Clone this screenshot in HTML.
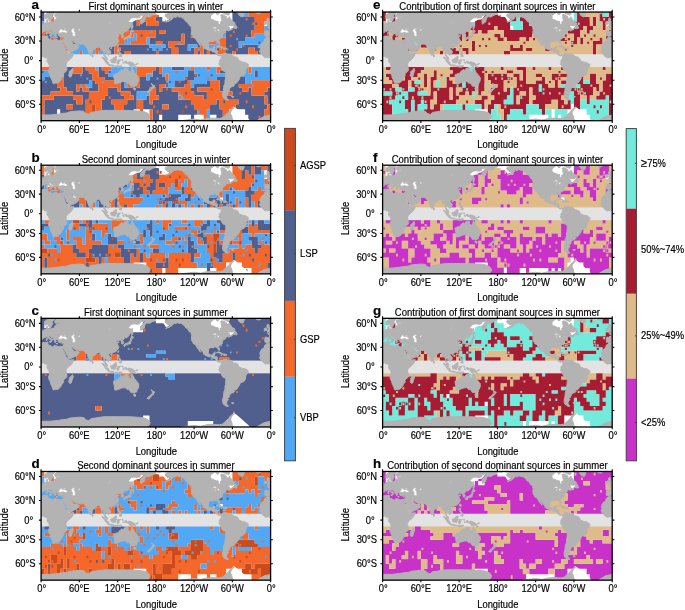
<!DOCTYPE html>
<html><head><meta charset="utf-8"><style>html,body{margin:0;padding:0;background:#fff;width:685px;height:610px;overflow:hidden}svg{display:block;will-change:transform}</style></head>
<body><svg width="685" height="610" viewBox="0 0 685 610" font-family='"Liberation Sans", sans-serif' fill="#000"><style>text{stroke:#000;stroke-width:0.18px}</style>
<rect width="685" height="610" fill="#fff"/>
<defs><path id="nodata" fill="#fff" d="M-8.8 15.1L-8.3 16.5L-8.3 17.5L-7.9 19.4L-7.7 20.7L-8.3 21.3L-9.3 22.3L-9.1 23.8L-9.6 24.6L-10.2 24.8L-11.0 23.8L-11.4 22.9L-11.3 21.5L-13.1 21.3L-14.7 20.8L-16.3 19.8L-17.9 19.7L-18.8 18.4L-19.1 17.0L-18.8 15.6L-18.2 14.9L-16.9 14.3L-16.5 13.4L-15.3 13.1L-14.4 12.3L-13.7 11.0L-9.9 10.0L-6.7 11.0L-3.5 13.1L-1.0 15.1L-0.0 16.7L-1.0 18.0L-3.2 18.0L-3.2 16.5L-4.2 16.0L-5.1 15.2L-6.1 14.8L-8.3 14.6ZM220.7 15.1L221.2 16.5L221.2 17.5L221.6 19.4L221.8 20.7L221.2 21.3L220.2 22.3L220.4 23.8L219.9 24.6L219.3 24.8L218.5 23.8L218.1 22.9L218.2 21.5L216.4 21.3L214.8 20.8L213.2 19.8L211.6 19.7L210.7 18.4L210.4 17.0L210.7 15.6L211.3 14.9L212.6 14.3L213.0 13.4L214.2 13.1L215.1 12.3L215.8 11.0L219.6 10.0L222.8 11.0L226.0 13.1L228.5 15.1L229.5 16.7L228.5 18.0L226.3 18.0L226.3 16.5L225.3 16.0L224.4 15.2L223.4 14.8L221.2 14.6ZM-1.3 25.7L0.9 25.6L2.9 25.7L4.6 24.7L5.4 24.6L3.3 27.9L2.5 28.3L1.9 29.1L1.3 29.3L0.3 29.0L-0.2 28.3L-0.0 27.5L-0.7 27.5L-1.3 26.6L-2.2 26.9L-2.9 27.3L-1.9 26.5ZM228.2 25.7L230.4 25.6L232.4 25.7L234.1 24.7L234.9 24.6L232.8 27.9L232.0 28.3L231.4 29.1L230.8 29.3L229.8 29.0L229.3 28.3L229.5 27.5L228.8 27.5L228.2 26.6L227.3 26.9L226.6 27.3L227.6 26.5ZM127.2 21.6L128.4 22.5L131.0 22.9L132.3 22.0L136.7 19.8L139.9 19.4L141.2 18.4L143.1 16.1L144.4 14.3L136.7 15.1L130.4 16.1L127.2 18.9ZM356.7 21.6L357.9 22.5L360.5 22.9L361.8 22.0L366.2 19.8L369.4 19.4L370.7 18.4L372.6 16.1L373.9 14.3L366.2 15.1L359.9 16.1L356.7 18.9ZM-73.7 14.6L-70.5 15.1L-67.3 16.1L-64.1 16.5L-62.2 17.0L-59.6 18.4L-60.9 19.8L-63.5 20.9L-64.7 18.9L-66.0 17.0L-67.3 15.1L-68.6 14.1L-70.5 13.1L-73.7 12.1ZM155.9 14.6L159.0 15.1L162.2 16.1L165.4 16.5L167.3 17.0L169.9 18.4L168.6 19.8L166.1 20.9L164.8 18.9L163.5 17.0L162.2 15.1L161.0 14.1L159.0 13.1L155.9 12.1ZM152.7 15.1L155.9 14.6L155.9 12.1L153.3 12.1ZM382.2 15.1L385.4 14.6L385.4 12.1L382.8 12.1ZM4.1 106.5L6.7 108.2L9.2 110.3L14.3 114.6L20.1 120.0L21.3 127.4L1.6 127.4L1.6 110.3ZM233.6 106.5L236.2 108.2L238.7 110.3L243.8 114.6L249.6 120.0L250.8 127.4L231.1 127.4L231.1 110.3Z"/><g id="land"><path d="M2.0 96.4L4.3 96.5L3.8 97.3L2.5 97.3ZM231.5 96.4L233.8 96.5L233.3 97.3L232.0 97.3ZM-66.0 11.4L-64.7 12.6L-62.8 12.6L-61.5 13.1L-61.5 14.1L-63.8 14.1L-64.4 15.6L-63.5 17.0L-62.2 17.2L-62.0 18.4L-59.6 18.3L-59.0 18.9L-59.9 20.3L-61.9 21.0L-63.8 22.0L-62.2 21.6L-60.3 21.1L-58.7 20.0L-57.1 18.9L-56.4 18.0L-55.8 16.5L-54.8 15.9L-55.2 17.0L-54.5 17.5L-53.3 17.0L-52.0 16.3L-50.7 17.0L-49.1 17.0L-47.8 17.4L-46.6 18.3L-45.6 18.9L-44.6 20.3L-43.7 21.6L-42.4 22.0L-41.8 22.5L-41.5 23.4L-40.5 24.6L-40.2 25.5L-38.9 25.9L-38.3 27.1L-38.3 28.3L-38.0 29.1L-38.0 30.7L-38.2 31.9L-38.0 33.0L-38.2 33.5L-37.8 34.5L-37.3 35.3L-37.0 35.6L-36.7 36.2L-36.6 36.5L-35.8 37.7L-34.8 38.1L-34.3 38.4L-33.6 39.1L-33.3 39.9L-32.7 40.8L-31.9 42.0L-31.7 42.7L-30.6 43.4L-30.4 44.4L-29.3 45.4L-28.7 45.8L-29.2 45.0L-29.7 44.1L-30.3 42.7L-30.9 41.8L-32.1 39.9L-31.3 40.1L-30.6 41.3L-29.7 42.5L-28.7 43.4L-28.1 44.4L-26.5 46.0L-26.0 47.1L-26.2 47.8L-25.2 48.4L-23.9 49.1L-22.7 49.7L-21.4 50.3L-20.1 50.6L-19.1 50.3L-18.2 50.7L-17.2 51.6L-16.0 52.0L-14.7 52.3L-14.0 53.0L-13.5 53.6L-13.5 54.3L-13.1 54.4L-12.5 54.9L-11.8 55.4L-10.9 55.7L-9.9 56.0L-9.3 55.1L-8.5 55.9L-8.2 55.6L-8.2 55.2L-8.9 54.7L-9.6 54.5L-10.5 55.0L-11.2 54.9L-11.8 54.3L-12.3 53.6L-12.2 52.3L-12.0 51.0L-12.8 50.5L-13.7 50.4L-15.0 50.5L-15.2 50.1L-15.0 48.7L-14.7 48.1L-14.4 46.8L-15.3 46.8L-16.5 47.1L-16.7 48.1L-17.2 48.7L-18.5 48.8L-19.5 48.7L-20.4 48.0L-20.9 47.1L-21.2 46.1L-21.1 44.8L-20.9 43.7L-20.9 42.7L-20.4 42.2L-19.5 41.5L-18.5 41.2L-17.6 41.3L-16.6 41.6L-15.8 41.5L-16.0 40.8L-15.0 40.7L-14.0 40.7L-13.3 41.2L-12.5 41.0L-11.8 41.7L-11.6 42.6L-11.0 43.6L-10.5 44.3L-10.2 44.1L-10.0 43.2L-10.2 42.0L-10.7 41.0L-10.7 39.9L-10.2 39.2L-9.4 38.7L-8.5 38.2L-7.7 37.6L-7.0 37.2L-7.2 36.4L-7.5 35.6L-7.0 35.4L-6.8 34.9L-6.6 34.4L-6.1 33.8L-5.9 33.2L-4.8 32.9L-4.0 32.6L-3.5 32.4L-3.8 32.0L-4.0 31.6L-3.7 30.9L-2.9 30.6L-1.6 30.2L-1.0 29.8L-0.0 29.7L-0.7 30.2L-1.1 30.9L-0.5 31.1L0.3 30.3L0.9 30.2L2.2 29.7L2.9 29.3L2.5 28.3L1.9 29.1L1.3 29.3L0.3 29.0L-0.2 28.3L-0.0 27.5L-0.7 27.5L-1.3 26.6L-2.2 26.9L-3.5 28.1L-2.9 27.1L-1.9 26.5L-1.3 25.7L0.9 25.6L2.9 25.7L4.6 24.7L5.5 24.0L5.3 22.7L4.4 22.0L3.2 21.4L2.2 20.7L1.7 19.4L1.3 18.9L0.6 18.2L-0.0 16.7L-0.7 17.5L-1.6 18.4L-2.6 18.7L-3.2 18.0L-3.2 16.5L-4.2 16.0L-5.1 15.2L-6.1 14.8L-8.3 14.6L-8.8 15.1L-8.3 16.5L-8.3 17.5L-7.9 19.4L-7.7 20.7L-8.3 21.3L-9.3 22.3L-9.1 23.8L-9.6 24.6L-10.2 24.8L-11.0 23.8L-11.4 22.9L-11.3 21.5L-13.1 21.3L-14.7 20.8L-16.3 19.8L-17.9 19.7L-18.8 18.4L-19.1 17.0L-18.8 15.6L-18.2 14.9L-16.9 14.3L-16.5 13.4L-15.3 13.1L-14.4 12.3L-13.7 11.0L-13.7 8.9L-13.1 6.7L-22.7 4.3L-35.4 4.3L-41.8 6.7L-48.2 6.9L-54.5 6.1L-58.7 5.2L-61.5 6.1L-63.5 7.8L-64.7 8.6L-63.1 9.4L-62.5 10.4L-63.8 10.4L-64.7 10.8ZM163.5 11.4L164.8 12.6L166.7 12.6L168.0 13.1L168.0 14.1L165.7 14.1L165.1 15.6L166.1 17.0L167.3 17.2L167.5 18.4L169.9 18.3L170.5 18.9L169.6 20.3L167.6 21.0L165.7 22.0L167.3 21.6L169.2 21.1L170.8 20.0L172.4 18.9L173.1 18.0L173.7 16.5L174.7 15.9L174.3 17.0L175.0 17.5L176.3 17.0L177.5 16.3L178.8 17.0L180.4 17.0L181.7 17.4L182.9 18.3L183.9 18.9L184.9 20.3L185.8 21.6L187.1 22.0L187.7 22.5L188.0 23.4L189.0 24.6L189.3 25.5L190.6 25.9L191.2 27.1L191.2 28.3L191.6 29.1L191.6 30.7L191.3 31.9L191.5 33.0L191.3 33.5L191.7 34.5L192.2 35.3L192.5 35.6L192.8 36.2L192.9 36.5L193.7 37.7L194.7 38.1L195.2 38.4L195.9 39.1L196.2 39.9L196.8 40.8L197.6 42.0L197.8 42.7L198.9 43.4L199.1 44.4L200.2 45.4L200.8 45.8L200.3 45.0L199.8 44.1L199.2 42.7L198.6 41.8L197.4 39.9L198.2 40.1L198.9 41.3L199.8 42.5L200.8 43.4L201.4 44.4L203.0 46.0L203.5 47.1L203.3 47.8L204.3 48.4L205.6 49.1L206.9 49.7L208.1 50.3L209.4 50.6L210.4 50.3L211.3 50.7L212.3 51.6L213.5 52.0L214.8 52.3L215.5 53.0L216.0 53.6L216.0 54.3L216.4 54.4L217.1 54.9L217.7 55.4L218.6 55.7L219.6 56.0L220.2 55.1L221.0 55.9L221.3 55.6L221.3 55.2L220.6 54.7L219.9 54.5L219.0 55.0L218.3 54.9L217.7 54.3L217.2 53.6L217.3 52.3L217.5 51.0L216.7 50.5L215.8 50.4L214.5 50.5L214.3 50.1L214.5 48.7L214.8 48.1L215.1 46.8L214.2 46.8L213.0 47.1L212.8 48.1L212.3 48.7L211.0 48.8L210.0 48.7L209.1 48.0L208.6 47.1L208.3 46.1L208.4 44.8L208.6 43.7L208.6 42.7L209.1 42.2L210.0 41.5L211.0 41.2L212.0 41.3L212.9 41.6L213.7 41.5L213.5 40.8L214.5 40.7L215.5 40.7L216.2 41.2L217.1 41.0L217.7 41.7L217.9 42.6L218.5 43.6L219.0 44.3L219.3 44.1L219.5 43.2L219.3 42.0L218.8 41.0L218.8 39.9L219.3 39.2L220.1 38.7L221.0 38.2L221.8 37.6L222.5 37.2L222.3 36.4L222.0 35.6L222.5 35.4L222.7 34.9L222.9 34.4L223.4 33.8L223.6 33.2L224.7 32.9L225.5 32.6L226.0 32.4L225.7 32.0L225.5 31.6L225.8 30.9L226.6 30.6L227.9 30.2L228.5 29.8L229.5 29.7L228.8 30.2L228.4 30.9L229.0 31.1L229.8 30.3L230.4 30.2L231.7 29.7L232.4 29.3L232.0 28.3L231.4 29.1L230.8 29.3L229.8 29.0L229.3 28.3L229.5 27.5L228.8 27.5L228.2 26.6L227.3 26.9L226.0 28.1L226.6 27.1L227.6 26.5L228.2 25.7L230.4 25.6L232.4 25.7L234.1 24.7L235.0 24.0L234.8 22.7L233.9 22.0L232.7 21.4L231.7 20.7L231.2 19.4L230.8 18.9L230.1 18.2L229.5 16.7L228.8 17.5L227.9 18.4L226.9 18.7L226.3 18.0L226.3 16.5L225.3 16.0L224.4 15.2L223.4 14.8L221.2 14.6L220.7 15.1L221.2 16.5L221.2 17.5L221.6 19.4L221.8 20.7L221.2 21.3L220.2 22.3L220.4 23.8L219.9 24.6L219.3 24.8L218.5 23.8L218.1 22.9L218.2 21.5L216.4 21.3L214.8 20.8L213.2 19.8L211.6 19.7L210.7 18.4L210.4 17.0L210.7 15.6L211.3 14.9L212.6 14.3L213.0 13.4L214.2 13.1L215.1 12.3L215.8 11.0L215.8 8.9L216.4 6.7L206.9 4.3L194.1 4.3L187.7 6.7L181.4 6.9L175.0 6.1L170.8 5.2L168.0 6.1L166.1 7.8L164.8 8.6L166.4 9.4L167.0 10.4L165.7 10.4L164.8 10.8ZM-8.6 12.6L-6.7 12.7L-5.1 13.6L-3.8 14.4L-2.2 14.8L-1.0 15.2L-0.0 14.1L-0.0 12.6L1.6 10.5L1.6 6.7L-9.9 4.3L-9.9 11.6ZM220.9 12.6L222.8 12.7L224.4 13.6L225.7 14.4L227.3 14.8L228.5 15.2L229.5 14.1L229.5 12.6L231.1 10.5L231.1 6.7L219.6 4.3L219.6 11.6ZM-14.0 12.6L-13.4 13.6L-12.1 14.8L-10.5 13.6L-10.2 12.6L-11.2 11.6L-13.7 11.0ZM215.5 12.6L216.1 13.6L217.4 14.8L219.0 13.6L219.3 12.6L218.3 11.6L215.8 11.0ZM13.0 17.0L14.0 16.1L14.6 13.6L15.9 11.6L18.8 10.5L22.0 8.3L27.1 6.1L28.4 0.6L22.0 -9.1L2.9 -9.1L-3.5 -3.3L-4.8 -1.3L4.1 0.6L6.0 6.7L7.0 8.9L7.6 11.0L8.6 13.1L9.5 15.1L10.5 16.1L11.8 16.5ZM242.6 17.0L243.5 16.1L244.1 13.6L245.4 11.6L248.3 10.5L251.5 8.3L256.6 6.1L257.9 0.6L251.5 -9.1L232.4 -9.1L226.0 -3.3L224.7 -1.3L233.6 0.6L235.5 6.7L236.5 8.9L237.1 11.0L238.1 13.1L239.0 15.1L240.0 16.1L241.3 16.5ZM25.8 11.6L27.1 10.6L29.3 10.8L31.5 10.5L32.5 11.8L31.5 12.8L29.6 13.7L27.7 13.3L26.8 13.1ZM255.3 11.6L256.6 10.6L258.8 10.8L261.0 10.5L262.0 11.8L261.0 12.8L259.1 13.7L257.2 13.3L256.3 13.1ZM-8.2 55.6L-8.3 56.2L-8.3 57.1L-8.2 58.1L-8.9 59.1L-9.3 59.7L-9.9 60.3L-10.2 61.3L-10.2 62.1L-9.8 62.4L-10.1 62.9L-10.7 63.5L-10.5 64.3L-9.6 65.4L-8.9 66.4L-8.3 67.7L-7.5 69.3L-6.7 70.6L-5.1 71.4L-4.2 72.2L-3.7 72.6L-3.7 74.2L-3.8 75.9L-4.0 78.2L-4.5 80.3L-4.5 82.4L-4.9 84.2L-5.6 85.5L-5.8 87.5L-5.9 89.0L-6.1 90.6L-6.7 92.6L-6.9 94.2L-6.7 96.2L-6.4 97.5L-4.8 98.8L-3.5 99.7L-1.9 100.1L-1.0 99.7L-2.6 98.8L-2.6 97.5L-3.2 96.9L-2.9 96.2L-2.6 95.4L-1.9 94.2L-1.0 93.4L-1.9 92.2L-1.3 91.4L-0.3 91.0L-0.3 89.8L0.3 89.3L-0.3 88.3L0.6 88.3L1.4 87.5L1.6 86.6L3.8 86.4L4.4 85.9L5.0 84.9L4.6 84.2L3.9 83.5L4.8 83.7L6.4 83.6L7.2 82.9L8.3 81.4L9.2 80.0L10.1 78.9L10.2 77.6L10.8 76.8L12.4 75.9L13.7 75.5L14.5 75.2L15.0 74.5L15.6 73.5L16.1 71.9L16.2 70.3L16.6 69.0L17.2 68.0L18.1 67.0L18.8 66.1L18.9 65.1L18.5 64.0L17.5 63.7L16.6 63.0L15.3 62.4L13.7 62.2L12.7 62.2L11.8 61.3L10.5 61.2L9.5 60.7L9.2 60.0L8.6 58.4L7.6 57.5L6.4 57.0L4.8 56.8L3.8 56.2L2.9 55.2L1.9 54.4L0.9 53.9L-0.3 54.2L-1.3 53.9L-2.4 53.9L-3.5 53.0L-4.4 53.6L-4.5 54.0L-4.7 53.2L-5.1 53.1L-6.2 53.5L-7.0 53.9L-7.4 54.7L-7.9 55.2ZM221.3 55.6L221.2 56.2L221.2 57.1L221.3 58.1L220.6 59.1L220.2 59.7L219.6 60.3L219.3 61.3L219.3 62.1L219.7 62.4L219.4 62.9L218.8 63.5L219.0 64.3L219.9 65.4L220.6 66.4L221.2 67.7L222.0 69.3L222.8 70.6L224.4 71.4L225.3 72.2L225.8 72.6L225.8 74.2L225.7 75.9L225.5 78.2L225.0 80.3L225.0 82.4L224.6 84.2L223.9 85.5L223.7 87.5L223.6 89.0L223.4 90.6L222.8 92.6L222.6 94.2L222.8 96.2L223.1 97.5L224.7 98.8L226.0 99.7L227.6 100.1L228.5 99.7L226.9 98.8L226.9 97.5L226.3 96.9L226.6 96.2L226.9 95.4L227.6 94.2L228.5 93.4L227.6 92.2L228.2 91.4L229.2 91.0L229.2 89.8L229.8 89.3L229.2 88.3L230.1 88.3L230.9 87.5L231.1 86.6L233.3 86.4L233.9 85.9L234.5 84.9L234.1 84.2L233.4 83.5L234.3 83.7L235.9 83.6L236.7 82.9L237.8 81.4L238.7 80.0L239.6 78.9L239.7 77.6L240.3 76.8L241.9 75.9L243.2 75.5L244.0 75.2L244.5 74.5L245.1 73.5L245.6 71.9L245.7 70.3L246.1 69.0L246.7 68.0L247.7 67.0L248.3 66.1L248.4 65.1L248.0 64.0L247.0 63.7L246.1 63.0L244.8 62.4L243.2 62.2L242.2 62.2L241.3 61.3L240.0 61.2L239.0 60.7L238.7 60.0L238.1 58.4L237.1 57.5L235.9 57.0L234.3 56.8L233.3 56.2L232.4 55.2L231.4 54.4L230.4 53.9L229.2 54.2L228.2 53.9L227.1 53.9L226.0 53.0L225.1 53.6L225.0 54.0L224.8 53.2L224.4 53.1L223.3 53.5L222.5 53.9L222.2 54.7L221.6 55.2ZM37.3 36.9L37.0 38.0L35.7 38.7L35.0 39.2L34.9 40.6L34.4 41.7L33.5 42.4L32.5 42.7L31.9 43.7L31.2 44.8L30.6 46.1L30.3 47.1L30.6 48.1L30.8 49.1L30.6 50.4L29.9 51.2L30.5 52.0L30.4 52.7L31.2 53.3L31.9 53.9L32.5 54.6L33.1 55.6L34.1 56.3L35.4 57.5L36.3 57.8L37.9 57.4L39.8 57.6L41.1 57.1L42.4 56.6L44.0 56.6L44.8 57.8L45.6 57.8L46.5 57.7L47.2 58.4L47.3 59.4L47.2 60.0L47.0 61.0L46.8 61.6L47.8 62.6L48.8 63.8L48.9 64.5L49.4 66.1L49.7 67.4L49.1 69.0L48.6 70.9L48.6 72.2L49.1 73.2L49.7 74.5L50.3 75.4L50.5 76.9L50.8 78.2L51.6 79.3L52.1 80.7L52.7 81.7L52.8 83.1L53.5 83.7L54.2 83.5L55.4 83.1L57.0 83.1L58.0 82.9L59.0 82.3L59.9 81.2L60.7 80.3L61.5 79.3L61.9 77.9L62.1 77.2L63.4 76.5L63.7 74.9L63.4 73.9L64.4 72.7L66.0 71.6L66.9 70.3L66.9 68.6L66.6 67.4L66.3 66.1L66.0 64.8L66.1 63.8L66.6 62.8L67.2 61.9L68.2 61.0L69.2 60.0L70.4 59.1L71.7 57.8L72.7 56.2L73.5 54.3L73.7 53.1L72.7 53.4L71.4 53.5L69.8 53.9L68.8 53.3L68.2 52.7L67.2 51.4L66.3 50.5L65.6 49.1L64.8 47.1L64.4 45.8L63.7 44.8L63.1 43.7L62.5 42.5L61.8 41.1L61.7 40.1L60.2 40.1L59.0 40.4L57.0 39.9L55.8 39.2L54.2 39.2L53.9 40.3L52.9 40.6L51.3 40.1L50.7 39.2L49.1 38.9L48.1 38.5L47.8 37.4L48.1 36.1L47.5 35.8L46.5 36.1L44.3 36.1L42.4 36.4L40.5 37.1L39.5 37.4L38.2 37.3ZM266.8 36.9L266.5 38.0L265.2 38.7L264.5 39.2L264.4 40.6L263.9 41.7L263.0 42.4L262.0 42.7L261.4 43.7L260.7 44.8L260.1 46.1L259.8 47.1L260.1 48.1L260.3 49.1L260.1 50.4L259.4 51.2L260.0 52.0L259.9 52.7L260.7 53.3L261.4 53.9L262.0 54.6L262.6 55.6L263.6 56.3L264.9 57.5L265.8 57.8L267.4 57.4L269.3 57.6L270.6 57.1L271.9 56.6L273.5 56.6L274.3 57.8L275.1 57.8L276.0 57.7L276.7 58.4L276.8 59.4L276.7 60.0L276.5 61.0L276.3 61.6L277.3 62.6L278.3 63.8L278.4 64.5L278.9 66.1L279.2 67.4L278.6 69.0L278.1 70.9L278.1 72.2L278.6 73.2L279.2 74.5L279.8 75.4L280.0 76.9L280.3 78.2L281.1 79.3L281.6 80.7L282.2 81.7L282.3 83.1L283.0 83.7L283.7 83.5L284.9 83.1L286.5 83.1L287.5 82.9L288.5 82.3L289.4 81.2L290.2 80.3L291.0 79.3L291.4 77.9L291.6 77.2L292.9 76.5L293.2 74.9L292.9 73.9L293.9 72.7L295.5 71.6L296.4 70.3L296.4 68.6L296.1 67.4L295.8 66.1L295.5 64.8L295.6 63.8L296.1 62.8L296.7 61.9L297.7 61.0L298.7 60.0L299.9 59.1L301.2 57.8L302.2 56.2L303.0 54.3L303.2 53.1L302.2 53.4L300.9 53.5L299.3 53.9L298.3 53.3L297.7 52.7L296.7 51.4L295.8 50.5L295.1 49.1L294.3 47.1L293.9 45.8L293.2 44.8L292.6 43.7L292.0 42.5L291.3 41.1L291.2 40.1L289.7 40.1L288.5 40.4L286.5 39.9L285.3 39.2L283.7 39.2L283.4 40.3L282.4 40.6L280.8 40.1L280.2 39.2L278.6 38.9L277.6 38.5L277.3 37.4L277.6 36.1L277.0 35.8L276.0 36.1L273.8 36.1L271.9 36.4L270.0 37.1L269.0 37.4L267.7 37.3ZM37.5 36.7L38.2 36.2L39.8 36.1L40.8 35.0L41.2 34.7L40.9 34.1L41.7 33.0L43.1 32.3L43.1 31.5L44.0 31.2L45.2 31.4L45.9 30.9L46.7 30.4L47.6 30.8L47.8 31.6L48.8 32.3L49.7 32.9L50.7 33.6L51.1 33.8L51.0 35.1L51.4 35.3L51.7 34.7L52.0 34.2L51.7 33.2L52.9 33.7L52.6 33.2L51.3 32.3L50.0 31.8L49.1 30.7L48.9 29.8L49.7 29.4L50.3 29.7L51.0 30.7L52.3 31.5L53.5 32.3L53.5 33.5L54.2 34.2L54.5 35.0L54.9 36.1L55.4 36.4L55.9 35.6L56.4 35.1L55.6 34.1L55.8 33.5L56.7 33.2L57.7 33.2L57.9 33.8L58.0 34.5L58.3 35.3L58.6 36.0L59.3 36.2L60.5 36.5L61.5 36.4L62.8 36.4L64.1 36.1L63.9 37.4L63.7 38.5L63.1 39.9L61.7 40.1L61.8 41.1L62.5 42.2L63.0 42.5L63.3 41.3L63.4 42.4L64.4 43.7L65.0 45.1L66.0 46.4L66.3 47.8L67.2 49.1L68.2 50.4L68.5 51.7L68.8 52.5L69.8 52.5L71.7 51.7L73.6 50.9L74.4 50.5L76.2 49.7L77.1 49.1L77.9 48.4L78.4 47.4L79.2 46.1L78.6 45.4L77.4 45.1L77.0 44.1L77.0 43.5L76.5 44.1L75.8 45.0L74.2 45.1L73.9 44.3L73.5 44.5L73.1 43.7L72.7 43.1L72.0 42.0L71.7 41.0L72.3 40.8L73.1 41.0L73.9 42.5L75.5 43.3L77.0 43.0L77.6 43.9L79.0 44.1L80.3 44.3L81.9 44.2L83.5 44.1L84.1 45.1L84.8 45.4L85.7 46.1L85.1 46.2L86.0 47.2L87.4 47.0L87.5 48.4L87.9 50.4L88.6 52.0L89.2 53.3L89.7 54.6L90.5 55.5L91.0 55.0L91.7 54.1L92.0 53.1L92.2 52.0L92.2 50.7L92.9 50.2L93.6 49.7L94.7 48.9L96.2 47.8L96.6 46.8L97.5 46.6L98.5 46.4L99.6 46.1L99.9 47.1L100.4 48.1L101.2 49.1L101.2 50.4L102.0 50.5L103.3 50.1L103.4 51.4L103.9 52.7L104.0 54.3L103.8 55.6L104.9 56.5L105.0 57.5L105.5 58.7L106.8 59.7L107.5 59.8L107.1 58.7L107.0 57.8L106.1 56.7L105.2 56.0L104.9 54.9L104.3 54.3L104.5 53.0L104.9 52.1L105.4 52.5L106.4 53.0L107.1 53.9L108.0 55.2L109.0 54.6L109.6 53.9L110.6 53.3L110.8 52.0L110.5 50.7L109.3 49.7L108.5 48.4L109.0 47.4L110.0 46.8L110.9 46.8L111.5 47.6L112.2 46.8L113.5 46.2L114.4 45.9L115.7 45.4L117.0 44.1L117.6 43.1L118.6 41.7L118.9 40.6L118.2 39.6L117.9 38.5L117.1 37.4L117.9 36.6L119.2 36.0L118.2 35.5L117.0 35.8L116.3 35.3L116.1 34.5L117.0 34.4L118.1 33.4L119.0 33.4L118.4 34.5L119.2 34.1L120.3 33.8L121.0 34.3L121.4 35.5L121.7 37.4L122.4 37.7L123.5 37.3L123.7 36.4L123.0 34.9L122.4 33.9L123.8 33.0L124.4 32.0L125.2 31.3L126.2 31.6L127.5 30.9L128.8 29.5L129.4 28.3L130.5 27.1L131.0 25.1L130.8 23.8L131.3 22.9L129.7 22.3L128.8 22.5L128.3 21.6L129.1 20.3L130.4 19.1L131.6 18.0L133.5 17.7L135.5 17.7L137.4 18.0L138.6 17.8L139.9 17.5L140.2 15.6L141.5 15.3L143.1 15.3L144.7 14.6L145.3 15.1L143.7 16.7L142.8 18.0L141.1 19.4L140.4 20.7L140.9 24.2L141.8 23.8L143.1 22.5L144.4 21.8L144.4 20.4L145.2 19.4L144.7 18.9L145.7 17.2L146.9 16.7L149.5 17.0L151.1 16.1L152.7 15.1L154.3 14.5L155.5 14.1L155.9 12.1L155.9 -6.1L104.9 -6.1L79.3 -3.3L60.2 4.3L53.9 5.5L50.7 7.8L48.8 11.0L47.5 13.1L44.6 15.1L44.3 17.0L44.6 18.4L45.6 18.9L46.5 18.7L47.8 17.7L48.2 18.4L48.8 19.8L49.3 21.2L50.2 21.3L51.3 20.5L51.6 19.4L52.9 17.5L52.3 16.1L52.3 14.6L54.2 13.6L55.4 11.6L57.0 11.6L57.4 12.6L54.8 14.3L54.8 16.1L55.4 17.0L57.0 16.7L59.0 16.5L59.9 17.0L59.0 17.5L56.1 17.8L56.4 18.6L56.1 19.4L54.5 19.8L54.5 20.7L54.7 21.4L53.9 21.9L52.9 21.8L51.6 22.0L50.2 22.6L49.1 22.1L48.1 22.5L47.5 22.0L47.5 21.2L47.8 19.8L47.2 19.6L46.5 20.3L46.2 21.2L46.7 22.5L45.6 22.9L44.3 23.1L44.0 23.8L43.3 24.6L42.7 25.0L42.1 25.5L41.1 26.3L40.3 26.2L40.0 26.1L40.1 27.0L39.2 26.9L38.1 27.1L38.4 27.7L39.5 28.1L40.0 28.7L40.3 29.5L40.1 31.1L39.2 31.2L37.9 31.1L36.0 30.9L35.2 31.5L35.5 32.6L35.4 33.8L35.0 34.7L35.5 34.9L35.4 36.0L36.3 35.8L37.1 36.1ZM267.0 36.7L267.7 36.2L269.3 36.1L270.3 35.0L270.7 34.7L270.4 34.1L271.2 33.0L272.6 32.3L272.6 31.5L273.5 31.2L274.7 31.4L275.4 30.9L276.2 30.4L277.1 30.8L277.3 31.6L278.3 32.3L279.2 32.9L280.2 33.6L280.6 33.8L280.5 35.1L280.9 35.3L281.2 34.7L281.5 34.2L281.2 33.2L282.4 33.7L282.1 33.2L280.8 32.3L279.5 31.8L278.6 30.7L278.4 29.8L279.2 29.4L279.8 29.7L280.5 30.7L281.8 31.5L283.0 32.3L283.0 33.5L283.7 34.2L284.0 35.0L284.4 36.1L284.9 36.4L285.4 35.6L285.9 35.1L285.1 34.1L285.3 33.5L286.2 33.2L287.2 33.2L287.4 33.8L287.5 34.5L287.8 35.3L288.1 36.0L288.8 36.2L290.0 36.5L291.0 36.4L292.3 36.4L293.6 36.1L293.4 37.4L293.2 38.5L292.6 39.9L291.2 40.1L291.3 41.1L292.0 42.2L292.5 42.5L292.8 41.3L292.9 42.4L293.9 43.7L294.5 45.1L295.5 46.4L295.8 47.8L296.7 49.1L297.7 50.4L298.0 51.7L298.3 52.5L299.3 52.5L301.2 51.7L303.1 50.9L303.9 50.5L305.7 49.7L306.6 49.1L307.4 48.4L307.9 47.4L308.7 46.1L308.1 45.4L306.9 45.1L306.5 44.1L306.5 43.5L306.0 44.1L305.3 45.0L303.8 45.1L303.4 44.3L303.0 44.5L302.6 43.7L302.2 43.1L301.5 42.0L301.2 41.0L301.8 40.8L302.6 41.0L303.4 42.5L305.0 43.3L306.5 43.0L307.1 43.9L308.5 44.1L309.8 44.3L311.4 44.2L313.0 44.1L313.6 45.1L314.3 45.4L315.2 46.1L314.6 46.2L315.5 47.2L316.9 47.0L317.0 48.4L317.4 50.4L318.1 52.0L318.7 53.3L319.2 54.6L320.0 55.5L320.5 55.0L321.2 54.1L321.5 53.1L321.7 52.0L321.7 50.7L322.4 50.2L323.1 49.7L324.2 48.9L325.7 47.8L326.1 46.8L327.0 46.6L328.0 46.4L329.1 46.1L329.4 47.1L329.9 48.1L330.7 49.1L330.7 50.4L331.5 50.5L332.8 50.1L332.9 51.4L333.4 52.7L333.5 54.3L333.3 55.6L334.4 56.5L334.5 57.5L335.0 58.7L336.3 59.7L337.0 59.8L336.6 58.7L336.5 57.8L335.6 56.7L334.7 56.0L334.4 54.9L333.8 54.3L334.0 53.0L334.4 52.1L334.9 52.5L335.9 53.0L336.6 53.9L337.5 55.2L338.5 54.6L339.1 53.9L340.1 53.3L340.3 52.0L340.0 50.7L338.8 49.7L338.0 48.4L338.5 47.4L339.5 46.8L340.4 46.8L341.0 47.6L341.7 46.8L343.0 46.2L343.9 45.9L345.2 45.4L346.5 44.1L347.1 43.1L348.1 41.7L348.4 40.6L347.7 39.6L347.4 38.5L346.6 37.4L347.4 36.6L348.7 36.0L347.7 35.5L346.5 35.8L345.8 35.3L345.6 34.5L346.5 34.4L347.6 33.4L348.5 33.4L347.9 34.5L348.7 34.1L349.8 33.8L350.5 34.3L350.9 35.5L351.2 37.4L351.9 37.7L353.0 37.3L353.2 36.4L352.5 34.9L351.9 33.9L353.3 33.0L353.9 32.0L354.8 31.3L355.7 31.6L357.0 30.9L358.3 29.5L358.9 28.3L360.0 27.1L360.5 25.1L360.3 23.8L360.8 22.9L359.2 22.3L358.3 22.5L357.8 21.6L358.6 20.3L359.9 19.1L361.1 18.0L363.0 17.7L365.0 17.7L366.9 18.0L368.1 17.8L369.4 17.5L369.7 15.6L371.0 15.3L372.6 15.3L374.2 14.6L374.8 15.1L373.2 16.7L372.3 18.0L370.6 19.4L369.9 20.7L370.4 24.2L371.3 23.8L372.6 22.5L373.9 21.8L373.9 20.4L374.7 19.4L374.2 18.9L375.2 17.2L376.4 16.7L379.0 17.0L380.6 16.1L382.2 15.1L383.8 14.5L385.0 14.1L385.4 12.1L385.4 -6.1L334.4 -6.1L308.9 -3.3L289.7 4.3L283.4 5.5L280.2 7.8L278.3 11.0L277.0 13.1L274.1 15.1L273.8 17.0L274.1 18.4L275.1 18.9L276.0 18.7L277.3 17.7L277.7 18.4L278.3 19.8L278.8 21.2L279.7 21.3L280.8 20.5L281.1 19.4L282.4 17.5L281.8 16.1L281.8 14.6L283.7 13.6L284.9 11.6L286.5 11.6L286.9 12.6L284.3 14.3L284.3 16.1L284.9 17.0L286.5 16.7L288.5 16.5L289.4 17.0L288.5 17.5L285.6 17.8L285.9 18.6L285.6 19.4L284.0 19.8L284.0 20.7L284.2 21.4L283.4 21.9L282.4 21.8L281.1 22.0L279.7 22.6L278.6 22.1L277.6 22.5L277.0 22.0L277.0 21.2L277.3 19.8L276.7 19.6L276.0 20.3L275.7 21.2L276.2 22.5L275.1 22.9L273.8 23.1L273.5 23.8L272.8 24.6L272.2 25.0L271.6 25.5L270.6 26.3L269.8 26.2L269.5 26.1L269.6 27.0L268.7 26.9L267.6 27.1L267.9 27.7L269.0 28.1L269.5 28.7L269.8 29.5L269.6 31.1L268.7 31.2L267.4 31.1L265.5 30.9L264.7 31.5L265.0 32.6L264.9 33.8L264.5 34.7L265.0 34.9L264.9 36.0L265.8 35.8L266.6 36.1ZM-73.7 12.1L-72.4 12.6L-70.5 12.6L-69.2 12.8L-68.6 12.1L-67.3 11.6L-67.0 10.8L-68.6 10.2L-70.5 9.4L-73.7 7.8L-73.7 -6.1ZM155.9 12.1L157.1 12.6L159.0 12.6L160.3 12.8L161.0 12.1L162.2 11.6L162.5 10.8L161.0 10.2L159.0 9.4L155.9 7.8L155.9 -6.1ZM37.5 25.9L38.9 25.6L40.5 25.3L42.0 24.9L42.2 23.6L41.3 22.9L41.0 22.3L40.1 21.2L39.8 20.7L39.2 20.7L40.0 19.4L38.9 19.2L39.2 18.3L37.9 18.3L37.5 19.4L37.5 20.5L38.0 21.6L38.9 21.7L38.9 22.2L39.2 23.1L38.2 23.2L38.4 24.0L37.8 24.4L39.1 24.7L38.2 25.0ZM267.0 25.9L268.4 25.6L270.0 25.3L271.5 24.9L271.7 23.6L270.8 22.9L270.5 22.3L269.6 21.2L269.3 20.7L268.7 20.7L269.5 19.4L268.4 19.2L268.7 18.3L267.4 18.3L267.0 19.4L267.0 20.5L267.5 21.6L268.4 21.7L268.4 22.2L268.7 23.1L267.7 23.2L267.9 24.0L267.3 24.4L268.6 24.7L267.7 25.0ZM37.3 24.0L37.1 22.9L37.3 22.0L36.3 21.3L35.7 22.0L34.7 22.3L34.9 23.1L34.5 24.2L35.0 24.5L36.0 24.4ZM266.8 24.0L266.6 22.9L266.8 22.0L265.8 21.3L265.2 22.0L264.2 22.3L264.4 23.1L264.0 24.2L264.5 24.5L265.5 24.4ZM124.0 40.1L124.8 40.0L125.2 38.9L125.9 38.7L126.8 38.3L127.5 38.5L128.3 37.9L129.4 37.7L130.2 37.4L130.9 36.9L130.7 36.1L131.0 35.0L131.6 34.1L131.3 32.8L130.5 32.9L130.3 33.8L130.2 34.9L129.4 35.4L128.3 35.8L127.8 36.9L125.9 37.1L124.6 37.9L123.8 38.7ZM353.5 40.1L354.3 40.0L354.8 38.9L355.4 38.7L356.3 38.3L357.0 38.5L357.8 37.9L358.9 37.7L359.7 37.4L360.4 36.9L360.2 36.1L360.5 35.0L361.1 34.1L360.8 32.8L360.0 32.9L359.8 33.8L359.7 34.9L358.9 35.4L357.8 35.8L357.3 36.9L355.4 37.1L354.1 37.9L353.3 38.7ZM130.4 32.6L131.3 31.9L132.5 32.3L133.9 31.3L133.2 30.7L131.6 29.6L131.4 30.1L131.2 31.3L130.4 31.9ZM359.9 32.6L360.8 31.9L362.0 32.3L363.4 31.3L362.7 30.7L361.1 29.6L360.9 30.1L360.7 31.3L359.9 31.9ZM131.6 29.1L132.6 28.5L132.3 26.3L133.2 26.7L132.4 24.6L132.3 22.2L131.8 22.3L131.6 25.1L131.6 27.5ZM361.1 29.1L362.1 28.5L361.8 26.3L362.7 26.7L361.9 24.6L361.8 22.2L361.3 22.3L361.1 25.1L361.1 27.5ZM117.7 45.8L118.1 46.4L118.8 44.8L118.6 44.2ZM347.2 45.8L347.6 46.4L348.3 44.8L348.1 44.2ZM110.4 48.3L111.2 47.7L111.9 48.0L111.5 48.7L110.9 48.9ZM339.9 48.3L340.7 47.7L341.4 48.0L341.0 48.7L340.4 48.9ZM117.6 50.4L118.0 48.7L119.0 48.7L118.9 50.4L118.6 51.4L120.2 52.3L119.8 52.5L118.0 51.7ZM347.1 50.4L347.5 48.7L348.5 48.7L348.4 50.4L348.1 51.4L349.7 52.3L349.3 52.5L347.5 51.7ZM118.9 56.2L119.8 55.6L121.1 54.6L121.8 55.9L121.1 57.0L120.2 56.5ZM348.4 56.2L349.3 55.6L350.6 54.6L351.3 55.9L350.6 57.0L349.7 56.5ZM118.8 53.3L120.2 52.7L121.1 53.6L120.8 54.3L119.5 54.6L118.9 54.3ZM348.3 53.3L349.7 52.7L350.6 53.6L350.3 54.3L349.0 54.6L348.4 54.3ZM110.6 59.7L111.0 59.4L111.9 59.7L113.1 58.6L114.7 57.3L115.7 56.2L117.0 57.3L116.3 57.8L116.1 58.7L116.8 60.0L116.0 60.7L115.4 62.2L115.1 63.1L114.1 62.9L113.1 62.7L112.2 62.6L111.4 62.4L111.2 61.3L110.6 60.7ZM340.1 59.7L340.5 59.4L341.4 59.7L342.6 58.6L344.2 57.3L345.2 56.2L346.5 57.3L345.8 57.8L345.6 58.7L346.3 60.0L345.5 60.7L344.9 62.2L344.6 63.1L343.6 62.9L342.6 62.7L341.7 62.6L340.9 62.4L340.7 61.3L340.1 60.7ZM101.9 57.1L103.3 57.3L105.0 59.1L107.3 61.3L108.7 62.7L108.5 64.3L107.7 64.4L106.3 63.2L105.5 62.1L104.9 61.0L104.1 59.7L103.3 59.1ZM331.4 57.1L332.8 57.3L334.5 59.1L336.8 61.3L338.2 62.7L338.0 64.3L337.2 64.4L335.8 63.2L335.0 62.1L334.4 61.0L333.6 59.7L332.8 59.1ZM108.2 65.0L108.7 64.4L110.0 64.7L111.2 65.0L112.8 65.0L114.0 65.6L114.1 66.2L111.9 65.9L110.0 65.6L108.9 65.4ZM337.7 65.0L338.2 64.4L339.5 64.7L340.7 65.0L342.3 65.0L343.5 65.6L343.6 66.2L341.4 65.9L339.5 65.6L338.4 65.4ZM114.6 65.9L117.0 65.9L118.9 65.9L120.8 65.7L122.1 65.9L120.8 66.7L120.2 67.2L117.6 67.0L115.1 66.4ZM344.1 65.9L346.5 65.9L348.4 65.9L350.3 65.7L351.6 65.9L350.3 66.7L349.7 67.2L347.1 67.0L344.6 66.4ZM117.3 64.2L117.9 64.2L117.9 62.6L118.6 63.7L119.2 63.5L118.4 61.9L119.8 61.3L118.6 61.3L118.0 60.3L120.5 60.3L120.9 59.7L120.2 60.1L117.6 60.3L117.5 61.3L116.8 62.4ZM346.8 64.2L347.4 64.2L347.4 62.6L348.1 63.7L348.7 63.5L347.9 61.9L349.3 61.3L348.1 61.3L347.5 60.3L350.0 60.3L350.4 59.7L349.7 60.1L347.1 60.3L347.0 61.3L346.3 62.4ZM122.4 59.4L123.0 60.0L122.7 61.2L122.3 60.3ZM351.9 59.4L352.5 60.0L352.2 61.2L351.8 60.3ZM122.7 62.6L124.5 62.7L124.3 63.1L122.7 62.9ZM352.2 62.6L354.0 62.7L353.8 63.1L352.2 62.9ZM124.6 61.4L126.5 61.2L127.5 62.8L129.1 61.7L131.0 62.3L133.2 63.1L134.2 64.2L135.1 64.6L134.8 65.4L135.8 66.4L136.7 67.2L135.1 67.1L134.2 65.9L132.9 65.5L132.3 66.4L131.0 66.5L129.7 65.8L129.4 65.1L128.9 64.0L127.2 63.4L125.9 63.2L125.2 62.4ZM354.1 61.4L356.0 61.2L357.0 62.8L358.6 61.7L360.5 62.3L362.7 63.1L363.7 64.2L364.6 64.6L364.3 65.4L365.3 66.4L366.2 67.2L364.6 67.1L363.7 65.9L362.4 65.5L361.8 66.4L360.5 66.5L359.2 65.8L358.9 65.1L358.4 64.0L356.7 63.4L355.4 63.2L354.8 62.4ZM135.8 64.2L137.7 63.3L138.1 63.5L137.0 64.6L135.8 64.5ZM365.3 64.2L367.2 63.3L367.6 63.5L366.5 64.6L365.3 64.5ZM113.5 74.9L113.8 77.6L114.3 79.3L114.4 81.4L114.9 82.8L114.4 83.4L115.7 83.9L117.3 83.4L118.6 83.0L120.2 82.4L121.4 81.9L123.3 81.5L124.9 81.4L126.5 82.1L127.5 83.7L128.3 82.8L128.9 82.1L128.8 83.5L129.4 84.2L130.0 84.4L130.7 86.0L131.6 86.3L132.9 86.2L134.4 86.9L135.5 85.9L136.7 85.7L136.9 84.2L137.6 82.8L138.3 81.7L138.8 79.6L138.8 78.2L138.6 77.2L137.7 76.2L137.0 75.2L136.1 74.2L135.8 73.5L134.5 72.9L134.2 71.6L133.7 70.3L133.2 69.7L132.6 68.6L131.9 67.5L131.6 68.3L131.4 69.3L131.3 70.9L130.9 71.9L130.0 71.9L128.8 70.9L127.7 70.3L128.3 68.4L127.5 68.3L125.9 68.0L124.6 68.4L124.0 69.0L123.7 70.1L122.7 70.3L122.1 69.5L121.1 69.9L120.5 71.0L119.5 71.2L119.0 72.1L118.2 73.2L117.0 73.6L115.7 73.9L114.4 74.5ZM343.0 74.9L343.3 77.6L343.8 79.3L343.9 81.4L344.4 82.8L343.9 83.4L345.2 83.9L346.8 83.4L348.1 83.0L349.7 82.4L350.9 81.9L352.8 81.5L354.4 81.4L356.0 82.1L357.0 83.7L357.8 82.8L358.4 82.1L358.3 83.5L358.9 84.2L359.5 84.4L360.2 86.0L361.1 86.3L362.4 86.2L363.9 86.9L365.0 85.9L366.2 85.7L366.4 84.2L367.1 82.8L367.8 81.7L368.3 79.6L368.3 78.2L368.1 77.2L367.2 76.2L366.5 75.2L365.6 74.2L365.3 73.5L364.0 72.9L363.7 71.6L363.2 70.3L362.7 69.7L362.1 68.6L361.4 67.5L361.1 68.3L360.9 69.3L360.8 70.9L360.4 71.9L359.5 71.9L358.3 70.9L357.2 70.3L357.8 68.4L357.0 68.3L355.4 68.0L354.1 68.4L353.5 69.0L353.2 70.1L352.2 70.3L351.6 69.5L350.6 69.9L350.0 71.0L349.0 71.2L348.5 72.1L347.7 73.2L346.5 73.6L345.2 73.9L343.9 74.5ZM133.3 88.1L135.6 88.2L135.5 89.8L134.7 90.3L133.7 89.2ZM362.8 88.1L365.1 88.2L365.0 89.8L364.2 90.3L363.2 89.2ZM151.2 83.4L152.3 84.2L153.0 85.2L154.9 85.8L153.9 87.0L153.8 87.8L152.8 88.7L152.4 88.4L152.7 87.5L151.9 86.9L152.4 86.0L152.2 84.9ZM380.7 83.4L381.8 84.2L382.5 85.2L384.4 85.8L383.4 87.0L383.3 87.8L382.3 88.7L381.9 88.4L382.2 87.5L381.4 86.9L381.9 86.0L381.7 84.9ZM151.2 87.9L152.2 88.4L152.0 89.3L151.3 90.3L150.2 91.0L149.9 92.1L148.8 92.7L147.2 92.2L147.4 91.5L148.4 90.6L149.8 89.8L150.8 88.7ZM380.7 87.9L381.7 88.4L381.5 89.3L380.8 90.3L379.7 91.0L379.4 92.1L378.3 92.7L376.7 92.2L376.9 91.5L377.9 90.6L379.3 89.8L380.3 88.7ZM72.5 68.3L73.3 70.6L72.8 71.6L72.0 73.9L71.4 76.5L69.9 77.2L69.2 76.5L68.7 74.9L69.3 73.5L69.2 71.6L70.6 70.7L71.7 69.3ZM302.0 68.3L302.8 70.6L302.3 71.6L301.5 73.9L300.9 76.5L299.4 77.2L298.7 76.5L298.2 74.9L298.8 73.5L298.7 71.6L300.1 70.7L301.2 69.3ZM92.0 56.8L92.1 54.4L93.1 55.6L93.2 56.5L92.4 56.9ZM321.5 56.8L321.6 54.4L322.6 55.6L322.7 56.5L321.9 56.9ZM-13.1 46.5L-11.8 45.8L-10.2 45.7L-8.3 46.6L-7.0 47.3L-6.2 47.6L-8.3 47.9L-8.9 46.8L-10.5 46.6L-11.5 46.4ZM216.4 46.5L217.7 45.8L219.3 45.7L221.2 46.6L222.5 47.3L223.3 47.6L221.2 47.9L220.6 46.8L219.0 46.6L218.0 46.4ZM-6.4 48.8L-5.3 47.8L-3.5 48.0L-2.5 48.7L-3.5 48.9L-4.5 49.3ZM223.1 48.8L224.2 47.8L226.0 48.0L227.0 48.7L226.0 48.9L225.0 49.3ZM-8.8 48.8L-7.5 48.9L-7.9 49.1ZM220.7 48.8L222.0 48.9L221.6 49.1ZM3.3 27.9L5.4 26.3L5.7 24.5L7.0 26.3L7.5 27.9L6.9 28.7L5.7 28.3ZM232.8 27.9L234.9 26.3L235.2 24.5L236.5 26.3L237.0 27.9L236.4 28.7L235.2 28.3ZM49.0 35.3L51.0 35.0L50.7 36.2ZM278.5 35.3L280.5 35.0L280.2 36.2ZM46.5 34.5L47.3 33.4L47.2 31.5L46.6 31.9L46.3 33.2ZM276.0 34.5L276.8 33.4L276.7 31.5L276.1 31.9L275.8 33.2ZM56.1 37.2L57.9 37.3L56.7 37.5ZM285.6 37.2L287.4 37.3L286.2 37.5ZM61.7 37.5L63.2 37.0L62.5 37.7ZM291.2 37.5L292.7 37.0L292.0 37.7ZM-73.7 124.6L-60.9 124.6L-54.5 122.6L-48.2 120.7L-41.8 119.8L-35.4 119.1L-29.0 120.0L-22.7 118.5L-16.3 118.2L-9.9 118.5L-6.7 117.6L-3.5 114.6L-1.0 112.4L0.9 109.7L4.1 107.5L4.8 107.7L2.9 109.2L1.6 111.3L0.9 113.5L2.2 115.8L2.9 119.4L9.2 123.3L18.8 124.6L25.2 121.9L31.5 118.2L34.7 116.4L41.1 115.0L50.7 114.9L58.3 114.1L62.1 113.4L66.6 113.0L69.8 111.8L74.9 111.3L79.3 110.9L83.8 111.3L85.7 113.5L88.9 114.4L90.8 112.4L95.3 111.8L100.4 110.9L104.9 110.4L117.6 110.4L130.4 110.5L139.9 111.1L144.4 111.8L148.2 113.5L150.1 116.4L149.5 118.2L146.3 121.9L149.5 124.6L155.9 124.6L155.9 142.6L-73.7 142.6ZM155.9 124.6L168.6 124.6L175.0 122.6L181.4 120.7L187.7 119.8L194.1 119.1L200.5 120.0L206.9 118.5L213.2 118.2L219.6 118.5L222.8 117.6L226.0 114.6L228.5 112.4L230.4 109.7L233.6 107.5L234.3 107.7L232.4 109.2L231.1 111.3L230.4 113.5L231.7 115.8L232.4 119.4L238.7 123.3L248.3 124.6L254.7 121.9L261.0 118.2L264.2 116.4L270.6 115.0L280.2 114.9L287.8 114.1L291.6 113.4L296.1 113.0L299.3 111.8L304.4 111.3L308.9 110.9L313.3 111.3L315.2 113.5L318.4 114.4L320.3 112.4L324.8 111.8L329.9 110.9L334.4 110.4L347.1 110.4L359.9 110.5L369.4 111.1L373.9 111.8L377.7 113.5L379.6 116.4L379.0 118.2L375.8 121.9L379.0 124.6L385.4 124.6L385.4 142.6L155.9 142.6Z" fill="#b3b3b3" stroke="#b3b3b3" stroke-width="1.0" stroke-linejoin="round"/><path d="M58.6 31.9L59.0 32.8L59.6 32.9L60.9 32.9L62.5 32.3L63.4 32.3L65.3 33.1L67.6 32.6L67.6 31.9L66.6 31.1L65.3 30.3L64.7 29.8L63.4 29.9L62.5 30.3L61.8 29.6L62.5 29.1L61.2 28.7L60.2 29.1L59.9 29.9L59.3 30.7ZM288.1 31.9L288.5 32.8L289.1 32.9L290.4 32.9L292.0 32.3L292.9 32.3L294.8 33.1L297.1 32.6L297.1 31.9L296.1 31.1L294.8 30.3L294.2 29.8L292.9 29.9L292.0 30.3L291.3 29.6L292.0 29.1L290.7 28.7L289.7 29.1L289.4 29.9L288.8 30.7ZM63.4 29.7L65.0 29.7L66.1 28.2L64.1 28.6ZM292.9 29.7L294.5 29.7L295.6 28.2L293.6 28.6ZM71.1 30.3L71.4 31.5L72.0 32.6L72.7 33.5L72.3 34.9L72.3 35.6L73.6 36.2L75.5 36.0L75.4 34.5L74.9 33.4L75.8 33.0L74.9 32.1L74.6 30.7L73.6 29.9L74.9 29.5L74.9 28.3L73.6 28.3L72.3 28.7ZM300.6 30.3L300.9 31.5L301.5 32.6L302.2 33.5L301.8 34.9L301.8 35.6L303.1 36.2L305.0 36.0L304.9 34.5L304.4 33.4L305.3 33.0L304.4 32.1L304.1 30.7L303.1 29.9L304.4 29.5L304.4 28.3L303.1 28.3L301.8 28.7ZM-17.6 28.6L-16.0 27.5L-15.2 26.9L-13.7 27.0L-13.0 28.3L-12.8 28.7L-14.0 28.7L-15.0 28.4L-16.6 28.7ZM211.9 28.6L213.5 27.5L214.3 26.9L215.8 27.0L216.5 28.3L216.7 28.7L215.5 28.7L214.5 28.4L212.9 28.7ZM-14.9 32.3L-14.7 30.3L-14.4 29.2L-13.4 29.2L-13.9 30.7L-14.0 32.0ZM214.6 32.3L214.8 30.3L215.1 29.2L216.1 29.2L215.6 30.7L215.5 32.0ZM-12.9 29.2L-12.5 29.0L-10.5 29.2L-9.9 29.9L-11.0 31.3L-11.4 31.3L-12.1 30.7L-12.0 29.8ZM216.6 29.2L217.1 29.0L219.0 29.2L219.6 29.9L218.5 31.3L218.1 31.3L217.4 30.7L217.5 29.8ZM-12.1 32.5L-10.5 32.0L-9.2 31.6L-9.6 31.9L-10.9 32.6L-11.6 32.7ZM217.4 32.5L219.0 32.0L220.3 31.6L219.9 31.9L218.6 32.6L217.9 32.7ZM-9.8 31.3L-7.5 31.1L-7.6 30.6L-8.3 30.7L-9.5 30.9ZM219.7 31.3L222.0 31.1L221.9 30.6L221.2 30.7L220.0 30.9ZM107.2 24.6L108.2 24.2L110.0 22.9L111.0 21.0L110.6 20.9L109.0 23.4L107.4 24.4ZM336.7 24.6L337.7 24.2L339.5 22.9L340.5 21.0L340.1 20.9L338.5 23.4L336.9 24.4ZM78.3 29.9L79.0 29.1L80.0 28.7L80.3 29.5L79.7 30.7L78.7 30.9L78.3 30.3ZM307.8 29.9L308.5 29.1L309.5 28.7L309.8 29.5L309.2 30.7L308.2 30.9L307.8 30.3Z" fill="#ffffff" stroke="#b3b3b3" stroke-width="0.7"/></g></defs>
<clipPath id="ca"><rect x="41.1" y="12.05" width="229.50000000000003" height="108.65"/></clipPath>
<g clip-path="url(#ca)">
<rect x="41.1" y="12.05" width="229.50000000000003" height="108.65" fill="#fff"/>
<path fill="#515f8f" d="M41.1 12.1h3.2v5.0H41.1zM133.5 12.1h3.2v5.0H133.5zM168.6 12.1h28.7v5.0H168.6zM232.4 12.1h9.6v5.0H232.4zM41.1 17.0h3.2v4.6H41.1zM133.5 17.0h3.2v4.6H133.5zM155.9 17.0h6.4v4.6H155.9zM165.4 17.0h31.9v4.6H165.4zM232.4 17.0h22.4v4.6H232.4zM69.8 21.6h6.4v4.3H69.8zM120.8 21.6h16.0v4.3H120.8zM139.9 21.6h6.4v4.3H139.9zM159.0 21.6h41.5v4.3H159.0zM222.8 21.6h31.9v4.3H222.8zM57.0 25.9h3.2v4.1H57.0zM69.8 25.9h6.4v4.1H69.8zM120.8 25.9h82.9v4.1H120.8zM219.6 25.9h35.1v4.1H219.6zM57.0 29.9h3.2v3.9H57.0zM69.8 29.9h6.4v3.9H69.8zM130.4 29.9h3.2v3.9H130.4zM155.9 29.9h3.2v3.9H155.9zM165.4 29.9h38.3v3.9H165.4zM216.4 29.9h35.1v3.9H216.4zM44.3 33.8h6.4v3.7H44.3zM57.0 33.8h3.2v3.7H57.0zM69.8 33.8h6.4v3.7H69.8zM155.9 33.8h25.6v3.7H155.9zM184.5 33.8h6.4v3.7H184.5zM226.0 33.8h25.6v3.7H226.0zM44.3 37.4h6.4v3.6H44.3zM57.0 37.4h3.2v3.6H57.0zM69.8 37.4h6.4v3.6H69.8zM149.5 37.4h31.9v3.6H149.5zM184.5 37.4h22.4v3.6H184.5zM226.0 37.4h19.2v3.6H226.0zM44.3 41.0h6.4v3.5H44.3zM57.0 41.0h3.2v3.5H57.0zM69.8 41.0h6.4v3.5H69.8zM104.9 41.0h12.8v3.5H104.9zM149.5 41.0h6.4v3.5H149.5zM162.2 41.0h6.4v3.5H162.2zM184.5 41.0h22.4v3.5H184.5zM226.0 41.0h12.8v3.5H226.0zM44.3 44.4h6.4v3.4H44.3zM57.0 44.4h3.2v3.4H57.0zM69.8 44.4h3.2v3.4H69.8zM104.9 44.4h9.6v3.4H104.9zM117.6 44.4h31.9v3.4H117.6zM165.4 44.4h3.2v3.4H165.4zM175.0 44.4h12.8v3.4H175.0zM197.3 44.4h3.2v3.4H197.3zM226.0 44.4h12.8v3.4H226.0zM241.9 44.4h16.0v3.4H241.9zM44.3 47.8h6.4v3.3H44.3zM108.0 47.8h6.4v3.3H108.0zM120.8 47.8h31.9v3.3H120.8zM162.2 47.8h9.6v3.3H162.2zM178.2 47.8h9.6v3.3H178.2zM190.9 47.8h3.2v3.3H190.9zM203.7 47.8h6.4v3.3H203.7zM226.0 47.8h22.4v3.3H226.0zM254.7 47.8h16.0v3.3H254.7zM41.1 51.0h9.6v3.3H41.1zM108.0 51.0h6.4v3.3H108.0zM117.6 51.0h6.4v3.3H117.6zM130.4 51.0h25.6v3.3H130.4zM159.0 51.0h12.8v3.3H159.0zM178.2 51.0h16.0v3.3H178.2zM197.3 51.0h3.2v3.3H197.3zM203.7 51.0h3.2v3.3H203.7zM210.0 51.0h6.4v3.3H210.0zM226.0 51.0h6.4v3.3H226.0zM235.5 51.0h12.8v3.3H235.5zM257.9 51.0h12.8v3.3H257.9zM47.5 54.3h3.2v3.2H47.5zM108.0 54.3h6.4v3.2H108.0zM117.6 54.3h6.4v3.2H117.6zM130.4 54.3h25.6v3.2H130.4zM159.0 54.3h12.8v3.2H159.0zM178.2 54.3h16.0v3.2H178.2zM197.3 54.3h3.2v3.2H197.3zM203.7 54.3h3.2v3.2H203.7zM210.0 54.3h6.4v3.2H210.0zM226.0 54.3h6.4v3.2H226.0zM235.5 54.3h12.8v3.2H235.5zM257.9 54.3h12.8v3.2H257.9zM108.0 57.5h6.4v3.2H108.0zM117.6 57.5h6.4v3.2H117.6zM130.4 57.5h25.6v3.2H130.4zM159.0 57.5h12.8v3.2H159.0zM178.2 57.5h16.0v3.2H178.2zM197.3 57.5h3.2v3.2H197.3zM203.7 57.5h3.2v3.2H203.7zM210.0 57.5h6.4v3.2H210.0zM226.0 57.5h6.4v3.2H226.0zM235.5 57.5h12.8v3.2H235.5zM257.9 57.5h6.4v3.2H257.9zM57.0 60.7h12.8v3.2H57.0zM82.5 60.7h3.2v3.2H82.5zM98.5 60.7h3.2v3.2H98.5zM117.6 60.7h6.4v3.2H117.6zM130.4 60.7h3.2v3.2H130.4zM155.9 60.7h3.2v3.2H155.9zM171.8 60.7h12.8v3.2H171.8zM226.0 60.7h6.4v3.2H226.0zM235.5 60.7h9.6v3.2H235.5zM57.0 63.8h16.0v3.2H57.0zM82.5 63.8h3.2v3.2H82.5zM98.5 63.8h3.2v3.2H98.5zM155.9 63.8h3.2v3.2H155.9zM171.8 63.8h12.8v3.2H171.8zM229.2 63.8h3.2v3.2H229.2zM235.5 63.8h3.2v3.2H235.5zM57.0 67.0h16.0v3.3H57.0zM82.5 67.0h3.2v3.3H82.5zM98.5 67.0h3.2v3.3H98.5zM155.9 67.0h3.2v3.3H155.9zM171.8 67.0h12.8v3.3H171.8zM57.0 70.3h16.0v3.3H57.0zM82.5 70.3h6.4v3.3H82.5zM98.5 70.3h6.4v3.3H98.5zM152.7 70.3h6.4v3.3H152.7zM187.7 70.3h6.4v3.3H187.7zM219.6 70.3h16.0v3.3H219.6zM254.7 70.3h3.2v3.3H254.7zM63.4 73.5h28.7v3.4H63.4zM98.5 73.5h9.6v3.4H98.5zM120.8 73.5h3.2v3.4H120.8zM152.7 73.5h9.6v3.4H152.7zM187.7 73.5h9.6v3.4H187.7zM232.4 73.5h9.6v3.4H232.4zM254.7 73.5h3.2v3.4H254.7zM44.3 76.9h12.8v3.5H44.3zM63.4 76.9h28.7v3.5H63.4zM104.9 76.9h12.8v3.5H104.9zM120.8 76.9h3.2v3.5H120.8zM139.9 76.9h6.4v3.5H139.9zM149.5 76.9h16.0v3.5H149.5zM184.5 76.9h9.6v3.5H184.5zM216.4 76.9h28.7v3.5H216.4zM41.1 80.3h16.0v3.6H41.1zM63.4 80.3h25.6v3.6H63.4zM92.1 80.3h3.2v3.6H92.1zM120.8 80.3h3.2v3.6H120.8zM139.9 80.3h28.7v3.6H139.9zM175.0 80.3h12.8v3.6H175.0zM206.9 80.3h3.2v3.6H206.9zM219.6 80.3h25.5v3.6H219.6zM41.1 83.9h16.0v3.7H41.1zM63.4 83.9h12.8v3.7H63.4zM92.1 83.9h6.4v3.7H92.1zM120.8 83.9h3.2v3.7H120.8zM133.5 83.9h3.2v3.7H133.5zM139.9 83.9h19.2v3.7H139.9zM175.0 83.9h9.6v3.7H175.0zM194.1 83.9h16.0v3.7H194.1zM219.6 83.9h19.2v3.7H219.6zM41.1 87.5h19.2v3.9H41.1zM66.6 87.5h9.6v3.9H66.6zM79.3 87.5h3.2v3.9H79.3zM88.9 87.5h9.6v3.9H88.9zM108.0 87.5h9.6v3.9H108.0zM120.8 87.5h28.7v3.9H120.8zM155.9 87.5h3.2v3.9H155.9zM162.2 87.5h9.6v3.9H162.2zM190.9 87.5h6.4v3.9H190.9zM219.6 87.5h22.4v3.9H219.6zM248.3 87.5h3.2v3.9H248.3zM267.4 87.5h3.2v3.9H267.4zM41.1 91.4h9.6v4.1H41.1zM73.0 91.4h16.0v4.1H73.0zM108.0 91.4h12.8v4.1H108.0zM130.4 91.4h6.4v4.1H130.4zM155.9 91.4h22.4v4.1H155.9zM194.1 91.4h12.8v4.1H194.1zM232.4 91.4h19.2v4.1H232.4zM264.2 91.4h6.4v4.1H264.2zM53.9 95.4h19.2v4.3H53.9zM82.5 95.4h6.4v4.3H82.5zM104.9 95.4h19.2v4.3H104.9zM133.5 95.4h3.2v4.3H133.5zM146.3 95.4h3.2v4.3H146.3zM159.0 95.4h19.2v4.3H159.0zM203.7 95.4h3.2v4.3H203.7zM226.0 95.4h38.3v4.3H226.0zM267.4 95.4h3.2v4.3H267.4zM44.3 99.7h31.9v4.6H44.3zM82.5 99.7h3.2v4.6H82.5zM101.7 99.7h9.6v4.6H101.7zM127.2 99.7h9.6v4.6H127.2zM143.1 99.7h6.4v4.6H143.1zM152.7 99.7h38.3v4.6H152.7zM216.4 99.7h3.2v4.6H216.4zM238.7 99.7h25.6v4.6H238.7zM267.4 99.7h3.2v4.6H267.4zM44.3 104.3h22.4v5.0H44.3zM73.0 104.3h12.8v5.0H73.0zM101.7 104.3h12.8v5.0H101.7zM124.0 104.3h12.8v5.0H124.0zM143.1 104.3h19.2v5.0H143.1zM168.6 104.3h25.5v5.0H168.6zM210.0 104.3h9.6v5.0H210.0zM235.5 104.3h31.9v5.0H235.5zM44.3 109.2h12.8v5.5H44.3zM60.2 109.2h25.6v5.5H60.2zM101.7 109.2h12.8v5.5H101.7zM124.0 109.2h9.6v5.5H124.0zM152.7 109.2h44.7v5.5H152.7zM210.0 109.2h12.8v5.5H210.0zM245.1 109.2h19.2v5.5H245.1zM44.3 114.6h12.8v6.1H44.3zM60.2 114.6h25.6v6.1H60.2zM101.7 114.6h12.8v6.1H101.7zM124.0 114.6h9.6v6.1H124.0zM152.7 114.6h6.4v6.1H152.7zM162.2 114.6h16.0v6.1H162.2zM190.9 114.6h3.2v6.1H190.9zM216.4 114.6h6.4v6.1H216.4zM248.3 114.6h16.0v6.1H248.3z"/><path fill="#52a8f5" d="M82.5 12.1h19.2v5.0H82.5zM241.9 12.1h6.4v5.0H241.9zM79.3 17.0h22.4v4.6H79.3zM41.1 21.6h3.2v4.3H41.1zM76.2 21.6h25.6v4.3H76.2zM267.4 21.6h3.2v4.3H267.4zM41.1 25.9h3.2v4.1H41.1zM76.2 25.9h25.6v4.1H76.2zM264.2 25.9h6.4v4.1H264.2zM50.7 29.9h6.4v3.9H50.7zM76.2 29.9h25.6v3.9H76.2zM264.2 29.9h3.2v3.9H264.2zM50.7 33.8h6.4v3.7H50.7zM76.2 33.8h25.6v3.7H76.2zM133.5 33.8h3.2v3.7H133.5zM216.4 33.8h9.6v3.7H216.4zM254.7 33.8h12.8v3.7H254.7zM76.2 37.4h28.7v3.6H76.2zM127.2 37.4h9.6v3.6H127.2zM146.3 37.4h3.2v3.6H146.3zM245.1 37.4h22.4v3.6H245.1zM76.2 41.0h28.7v3.5H76.2zM124.0 41.0h6.4v3.5H124.0zM146.3 41.0h3.2v3.5H146.3zM216.4 41.0h3.2v3.5H216.4zM238.7 41.0h28.7v3.5H238.7zM76.2 44.4h28.7v3.4H76.2zM149.5 44.4h16.0v3.4H149.5zM187.7 44.4h9.6v3.4H187.7zM206.9 44.4h12.8v3.4H206.9zM238.7 44.4h3.2v3.4H238.7zM257.9 44.4h12.8v3.4H257.9zM73.0 47.8h22.4v3.3H73.0zM101.7 47.8h6.4v3.3H101.7zM152.7 47.8h9.6v3.3H152.7zM187.7 47.8h3.2v3.3H187.7zM210.0 47.8h6.4v3.3H210.0zM69.8 51.0h9.6v3.3H69.8zM82.5 51.0h12.8v3.3H82.5zM98.5 51.0h9.6v3.3H98.5zM69.8 54.3h9.6v3.2H69.8zM82.5 54.3h12.8v3.2H82.5zM98.5 54.3h9.6v3.2H98.5zM69.8 57.5h9.6v3.2H69.8zM82.5 57.5h12.8v3.2H82.5zM98.5 57.5h9.6v3.2H98.5zM264.2 57.5h6.4v3.2H264.2zM69.8 60.7h3.2v3.2H69.8zM95.3 60.7h3.2v3.2H95.3zM111.2 60.7h6.4v3.2H111.2zM133.5 60.7h3.2v3.2H133.5zM162.2 60.7h9.6v3.2H162.2zM184.5 60.7h6.4v3.2H184.5zM194.1 60.7h12.8v3.2H194.1zM210.0 60.7h6.4v3.2H210.0zM245.1 60.7h3.2v3.2H245.1zM251.5 60.7h19.2v3.2H251.5zM95.3 63.8h3.2v3.2H95.3zM111.2 63.8h12.8v3.2H111.2zM127.2 63.8h9.6v3.2H127.2zM162.2 63.8h9.6v3.2H162.2zM184.5 63.8h6.4v3.2H184.5zM194.1 63.8h12.8v3.2H194.1zM210.0 63.8h6.4v3.2H210.0zM238.7 63.8h9.6v3.2H238.7zM251.5 63.8h19.2v3.2H251.5zM95.3 67.0h3.2v3.3H95.3zM111.2 67.0h25.6v3.3H111.2zM162.2 67.0h9.6v3.3H162.2zM184.5 67.0h6.4v3.3H184.5zM194.1 67.0h12.8v3.3H194.1zM210.0 67.0h6.4v3.3H210.0zM235.5 67.0h12.8v3.3H235.5zM251.5 67.0h19.2v3.3H251.5zM41.1 70.3h16.0v3.3H41.1zM108.0 70.3h28.7v3.3H108.0zM162.2 70.3h25.5v3.3H162.2zM194.1 70.3h22.4v3.3H194.1zM235.5 70.3h12.8v3.3H235.5zM251.5 70.3h3.2v3.3H251.5zM257.9 70.3h12.8v3.3H257.9zM41.1 73.5h16.0v3.4H41.1zM108.0 73.5h12.8v3.4H108.0zM124.0 73.5h3.2v3.4H124.0zM146.3 73.5h6.4v3.4H146.3zM162.2 73.5h3.2v3.4H162.2zM168.6 73.5h19.2v3.4H168.6zM197.3 73.5h35.1v3.4H197.3zM241.9 73.5h12.8v3.4H241.9zM257.9 73.5h12.8v3.4H257.9zM41.1 76.9h3.2v3.5H41.1zM124.0 76.9h3.2v3.5H124.0zM146.3 76.9h3.2v3.5H146.3zM168.6 76.9h16.0v3.5H168.6zM194.1 76.9h22.4v3.5H194.1zM245.1 76.9h25.6v3.5H245.1zM88.9 80.3h3.2v3.6H88.9zM124.0 80.3h3.2v3.6H124.0zM168.6 80.3h6.4v3.6H168.6zM190.9 80.3h16.0v3.6H190.9zM245.1 80.3h6.4v3.6H245.1zM85.7 83.9h6.4v3.7H85.7zM124.0 83.9h3.2v3.7H124.0zM165.4 83.9h9.6v3.7H165.4zM190.9 83.9h3.2v3.7H190.9zM136.7 91.4h12.8v4.1H136.7zM136.7 95.4h9.6v4.3H136.7zM178.2 95.4h3.2v4.3H178.2zM206.9 109.2h3.2v5.5H206.9zM206.9 114.6h3.2v6.1H206.9z"/><path fill="#f5682c" d="M136.7 12.1h22.4v5.0H136.7zM248.3 12.1h22.4v5.0H248.3zM50.7 17.0h3.2v4.6H50.7zM136.7 17.0h19.2v4.6H136.7zM254.7 17.0h16.0v4.6H254.7zM50.7 21.6h3.2v4.3H50.7zM117.6 21.6h3.2v4.3H117.6zM136.7 21.6h3.2v4.3H136.7zM146.3 21.6h12.8v4.3H146.3zM254.7 21.6h9.6v4.3H254.7zM50.7 25.9h3.2v4.1H50.7zM60.2 25.9h9.6v4.1H60.2zM117.6 25.9h3.2v4.1H117.6zM254.7 25.9h9.6v4.1H254.7zM41.1 29.9h9.6v3.9H41.1zM60.2 29.9h9.6v3.9H60.2zM117.6 29.9h12.8v3.9H117.6zM133.5 29.9h22.4v3.9H133.5zM159.0 29.9h6.4v3.9H159.0zM251.5 29.9h12.8v3.9H251.5zM267.4 29.9h3.2v3.9H267.4zM41.1 33.8h3.2v3.7H41.1zM60.2 33.8h9.6v3.7H60.2zM117.6 33.8h16.0v3.7H117.6zM136.7 33.8h19.2v3.7H136.7zM181.4 33.8h3.2v3.7H181.4zM190.9 33.8h25.5v3.7H190.9zM251.5 33.8h3.2v3.7H251.5zM267.4 33.8h3.2v3.7H267.4zM41.1 37.4h3.2v3.6H41.1zM50.7 37.4h6.4v3.6H50.7zM60.2 37.4h6.4v3.6H60.2zM117.6 37.4h9.6v3.6H117.6zM136.7 37.4h9.6v3.6H136.7zM181.4 37.4h3.2v3.6H181.4zM206.9 37.4h19.2v3.6H206.9zM267.4 37.4h3.2v3.6H267.4zM41.1 41.0h3.2v3.5H41.1zM50.7 41.0h6.4v3.5H50.7zM60.2 41.0h6.4v3.5H60.2zM117.6 41.0h6.4v3.5H117.6zM130.4 41.0h16.0v3.5H130.4zM155.9 41.0h6.4v3.5H155.9zM168.6 41.0h16.0v3.5H168.6zM206.9 41.0h9.6v3.5H206.9zM219.6 41.0h6.4v3.5H219.6zM267.4 41.0h3.2v3.5H267.4zM41.1 44.4h3.2v3.4H41.1zM50.7 44.4h6.4v3.4H50.7zM60.2 44.4h6.4v3.4H60.2zM114.4 44.4h3.2v3.4H114.4zM168.6 44.4h6.4v3.4H168.6zM200.5 44.4h6.4v3.4H200.5zM219.6 44.4h6.4v3.4H219.6zM41.1 47.8h3.2v3.3H41.1zM50.7 47.8h22.4v3.3H50.7zM95.3 47.8h6.4v3.3H95.3zM114.4 47.8h6.4v3.3H114.4zM171.8 47.8h6.4v3.3H171.8zM194.1 47.8h9.6v3.3H194.1zM216.4 47.8h9.6v3.3H216.4zM248.3 47.8h6.4v3.3H248.3zM50.7 51.0h16.0v3.3H50.7zM79.3 51.0h3.2v3.3H79.3zM95.3 51.0h3.2v3.3H95.3zM114.4 51.0h3.2v3.3H114.4zM124.0 51.0h6.4v3.3H124.0zM155.9 51.0h3.2v3.3H155.9zM171.8 51.0h6.4v3.3H171.8zM194.1 51.0h3.2v3.3H194.1zM200.5 51.0h3.2v3.3H200.5zM206.9 51.0h3.2v3.3H206.9zM216.4 51.0h9.6v3.3H216.4zM232.4 51.0h3.2v3.3H232.4zM248.3 51.0h9.6v3.3H248.3zM41.1 54.3h6.4v3.2H41.1zM50.7 54.3h16.0v3.2H50.7zM79.3 54.3h3.2v3.2H79.3zM95.3 54.3h3.2v3.2H95.3zM114.4 54.3h3.2v3.2H114.4zM124.0 54.3h6.4v3.2H124.0zM155.9 54.3h3.2v3.2H155.9zM171.8 54.3h6.4v3.2H171.8zM194.1 54.3h3.2v3.2H194.1zM200.5 54.3h3.2v3.2H200.5zM206.9 54.3h3.2v3.2H206.9zM216.4 54.3h9.6v3.2H216.4zM232.4 54.3h3.2v3.2H232.4zM248.3 54.3h9.6v3.2H248.3zM41.1 57.5h25.5v3.2H41.1zM79.3 57.5h3.2v3.2H79.3zM95.3 57.5h3.2v3.2H95.3zM114.4 57.5h3.2v3.2H114.4zM124.0 57.5h6.4v3.2H124.0zM155.9 57.5h3.2v3.2H155.9zM171.8 57.5h6.4v3.2H171.8zM194.1 57.5h3.2v3.2H194.1zM200.5 57.5h3.2v3.2H200.5zM206.9 57.5h3.2v3.2H206.9zM216.4 57.5h9.6v3.2H216.4zM232.4 57.5h3.2v3.2H232.4zM248.3 57.5h9.6v3.2H248.3zM41.1 60.7h16.0v3.2H41.1zM73.0 60.7h9.6v3.2H73.0zM85.7 60.7h9.6v3.2H85.7zM101.7 60.7h9.6v3.2H101.7zM124.0 60.7h6.4v3.2H124.0zM136.7 60.7h19.2v3.2H136.7zM159.0 60.7h3.2v3.2H159.0zM190.9 60.7h3.2v3.2H190.9zM206.9 60.7h3.2v3.2H206.9zM216.4 60.7h9.6v3.2H216.4zM232.4 60.7h3.2v3.2H232.4zM248.3 60.7h3.2v3.2H248.3zM41.1 63.8h16.0v3.2H41.1zM73.0 63.8h9.6v3.2H73.0zM85.7 63.8h9.6v3.2H85.7zM101.7 63.8h9.6v3.2H101.7zM124.0 63.8h3.2v3.2H124.0zM136.7 63.8h19.2v3.2H136.7zM159.0 63.8h3.2v3.2H159.0zM190.9 63.8h3.2v3.2H190.9zM206.9 63.8h3.2v3.2H206.9zM216.4 63.8h12.8v3.2H216.4zM232.4 63.8h3.2v3.2H232.4zM248.3 63.8h3.2v3.2H248.3zM41.1 67.0h16.0v3.3H41.1zM73.0 67.0h9.6v3.3H73.0zM85.7 67.0h9.6v3.3H85.7zM101.7 67.0h9.6v3.3H101.7zM136.7 67.0h19.2v3.3H136.7zM159.0 67.0h3.2v3.3H159.0zM190.9 67.0h3.2v3.3H190.9zM206.9 67.0h3.2v3.3H206.9zM216.4 67.0h19.2v3.3H216.4zM248.3 67.0h3.2v3.3H248.3zM73.0 70.3h9.6v3.3H73.0zM88.9 70.3h9.6v3.3H88.9zM104.9 70.3h3.2v3.3H104.9zM136.7 70.3h16.0v3.3H136.7zM159.0 70.3h3.2v3.3H159.0zM216.4 70.3h3.2v3.3H216.4zM248.3 70.3h3.2v3.3H248.3zM57.0 73.5h6.4v3.4H57.0zM92.1 73.5h6.4v3.4H92.1zM127.2 73.5h19.2v3.4H127.2zM165.4 73.5h3.2v3.4H165.4zM57.0 76.9h6.4v3.5H57.0zM92.1 76.9h12.8v3.5H92.1zM117.6 76.9h3.2v3.5H117.6zM127.2 76.9h12.8v3.5H127.2zM165.4 76.9h3.2v3.5H165.4zM57.0 80.3h6.4v3.6H57.0zM95.3 80.3h25.5v3.6H95.3zM127.2 80.3h12.8v3.6H127.2zM187.7 80.3h3.2v3.6H187.7zM210.0 80.3h9.6v3.6H210.0zM251.5 80.3h19.2v3.6H251.5zM57.0 83.9h6.4v3.7H57.0zM76.2 83.9h9.6v3.7H76.2zM98.5 83.9h22.4v3.7H98.5zM127.2 83.9h6.4v3.7H127.2zM136.7 83.9h3.2v3.7H136.7zM159.0 83.9h6.4v3.7H159.0zM184.5 83.9h6.4v3.7H184.5zM210.0 83.9h9.6v3.7H210.0zM238.7 83.9h31.9v3.7H238.7zM60.2 87.5h6.4v3.9H60.2zM76.2 87.5h3.2v3.9H76.2zM82.5 87.5h6.4v3.9H82.5zM98.5 87.5h9.6v3.9H98.5zM117.6 87.5h3.2v3.9H117.6zM149.5 87.5h6.4v3.9H149.5zM159.0 87.5h3.2v3.9H159.0zM171.8 87.5h19.2v3.9H171.8zM197.3 87.5h22.4v3.9H197.3zM241.9 87.5h6.4v3.9H241.9zM251.5 87.5h16.0v3.9H251.5zM50.7 91.4h22.4v4.1H50.7zM88.9 91.4h19.2v4.1H88.9zM120.8 91.4h9.6v4.1H120.8zM149.5 91.4h6.4v4.1H149.5zM178.2 91.4h16.0v4.1H178.2zM206.9 91.4h25.6v4.1H206.9zM251.5 91.4h12.8v4.1H251.5zM41.1 95.4h12.8v4.3H41.1zM73.0 95.4h9.6v4.3H73.0zM88.9 95.4h16.0v4.3H88.9zM124.0 95.4h9.6v4.3H124.0zM149.5 95.4h9.6v4.3H149.5zM181.4 95.4h22.4v4.3H181.4zM206.9 95.4h19.2v4.3H206.9zM264.2 95.4h3.2v4.3H264.2zM41.1 99.7h3.2v4.6H41.1zM76.2 99.7h6.4v4.6H76.2zM85.7 99.7h16.0v4.6H85.7zM111.2 99.7h16.0v4.6H111.2zM136.7 99.7h6.4v4.6H136.7zM149.5 99.7h3.2v4.6H149.5zM190.9 99.7h25.5v4.6H190.9zM219.6 99.7h19.2v4.6H219.6zM264.2 99.7h3.2v4.6H264.2zM41.1 104.3h3.2v5.0H41.1zM66.6 104.3h6.4v5.0H66.6zM85.7 104.3h6.4v5.0H85.7zM95.3 104.3h6.4v5.0H95.3zM114.4 104.3h9.6v5.0H114.4zM136.7 104.3h6.4v5.0H136.7zM162.2 104.3h6.4v5.0H162.2zM194.1 104.3h16.0v5.0H194.1zM219.6 104.3h16.0v5.0H219.6zM267.4 104.3h3.2v5.0H267.4zM41.1 109.2h3.2v5.5H41.1zM85.7 109.2h6.4v5.5H85.7zM95.3 109.2h6.4v5.5H95.3zM114.4 109.2h9.6v5.5H114.4zM149.5 109.2h3.2v5.5H149.5zM197.3 109.2h9.6v5.5H197.3zM222.8 109.2h6.4v5.5H222.8zM264.2 109.2h6.4v5.5H264.2zM41.1 114.6h3.2v6.1H41.1zM85.7 114.6h6.4v6.1H85.7zM95.3 114.6h6.4v6.1H95.3zM114.4 114.6h9.6v6.1H114.4zM149.5 114.6h3.2v6.1H149.5zM203.7 114.6h3.2v6.1H203.7zM222.8 114.6h6.4v6.1H222.8zM264.2 114.6h6.4v6.1H264.2z"/><path fill="#cc4b1c" d="M92.1 104.3h3.2v5.0H92.1zM92.1 109.2h3.2v5.5H92.1zM139.9 109.2h3.2v5.5H139.9zM92.1 114.6h3.2v6.1H92.1zM139.9 114.6h3.2v6.1H139.9z"/><path fill="#515f8f" d="M51.3 13.1h1.9v3.0h-1.9zM255.3 22.5h1.9v2.6h-1.9zM140.6 34.5h1.9v2.2h-1.9zM258.5 41.7h1.9v2.1h-1.9zM156.5 48.4h1.9v2.0h-1.9zM217.1 48.4h1.9v2.0h-1.9zM41.7 70.9h1.9v2.0h-1.9zM108.7 70.9h1.9v2.0h-1.9zM197.9 74.2h1.9v2.0h-1.9zM210.7 74.2h1.9v2.0h-1.9zM169.2 81.0h1.9v2.1h-1.9zM166.1 84.6h1.9v2.2h-1.9zM185.2 92.2h1.9v2.4h-1.9zM89.5 100.6h1.9v2.7h-1.9zM223.4 100.6h1.9v2.7h-1.9z"/><path fill="#f5682c" d="M245.7 17.9h1.9v2.7h-1.9zM252.1 22.5h1.9v2.6h-1.9zM233.0 30.7h1.9v2.3h-1.9zM229.8 34.5h1.9v2.2h-1.9zM245.7 34.5h1.9v2.2h-1.9zM229.8 45.1h1.9v2.0h-1.9zM242.6 45.1h1.9v2.0h-1.9zM236.2 48.4h1.9v2.0h-1.9zM175.6 70.9h1.9v2.0h-1.9zM194.7 74.2h1.9v2.0h-1.9zM185.2 77.6h1.9v2.1h-1.9zM207.5 77.6h1.9v2.1h-1.9zM178.8 81.0h1.9v2.1h-1.9zM166.1 88.3h1.9v2.3h-1.9zM239.4 92.2h1.9v2.4h-1.9zM108.7 96.3h1.9v2.6h-1.9zM178.8 96.3h1.9v2.6h-1.9zM245.7 100.6h1.9v2.7h-1.9zM153.3 105.3h1.9v3.0h-1.9zM185.2 105.3h1.9v3.0h-1.9zM252.1 105.3h1.9v3.0h-1.9zM156.5 110.3h1.9v3.3h-1.9zM258.5 115.8h1.9v3.6h-1.9z"/><path fill="#52a8f5" d="M150.1 30.7h1.9v2.3h-1.9zM236.2 38.1h1.9v2.1h-1.9zM178.8 41.7h1.9v2.1h-1.9zM146.9 48.4h1.9v2.0h-1.9zM166.1 48.4h1.9v2.0h-1.9zM197.9 48.4h1.9v2.0h-1.9zM226.6 48.4h1.9v2.0h-1.9zM80.0 74.2h1.9v2.0h-1.9zM86.4 77.6h1.9v2.1h-1.9zM156.5 77.6h1.9v2.1h-1.9zM44.9 81.0h1.9v2.1h-1.9zM102.3 81.0h1.9v2.1h-1.9zM166.1 81.0h1.9v2.1h-1.9zM80.0 84.6h1.9v2.2h-1.9zM252.1 84.6h1.9v2.2h-1.9zM178.8 92.2h1.9v2.4h-1.9zM182.0 96.3h1.9v2.6h-1.9zM197.9 110.3h1.9v3.3h-1.9z"/><path fill="#cc4b1c" d="M210.7 88.3h1.9v2.3h-1.9zM159.7 110.3h1.9v3.3h-1.9zM182.0 110.3h1.9v3.3h-1.9z"/>
<use href="#nodata" transform="translate(0.00,0.00)"/>
<rect x="41.1" y="54.27" width="229.50000000000003" height="12.76" fill="#e3e3e3"/>
<use href="#land" transform="translate(0.00,0.00)"/>
</g>
<rect x="41.1" y="12.05" width="229.50000000000003" height="108.65" fill="none" stroke="#000" stroke-width="1.3"/>
<path d="M41.10,12.05v-2.2M41.10,120.7v2.2M79.35,12.05v-2.2M79.35,120.7v2.2M117.60,12.05v-2.2M117.60,120.7v2.2M155.85,12.05v-2.2M155.85,120.7v2.2M194.10,12.05v-2.2M194.10,120.7v2.2M232.35,12.05v-2.2M232.35,120.7v2.2M270.60,12.05v-2.2M270.60,120.7v2.2M41.1,17.03h-2.2M270.6,17.03h2.2M41.1,40.98h-2.2M270.6,40.98h2.2M41.1,60.65h-2.2M270.6,60.65h2.2M41.1,80.32h-2.2M270.6,80.32h2.2M41.1,104.27h-2.2M270.6,104.27h2.2" stroke="#000" stroke-width="1.1" fill="none"/>
<text transform="translate(35.60,20.53) scale(0.9346,1)" font-size="10.06" text-anchor="end">60°N</text>
<text transform="translate(35.60,44.48) scale(0.9346,1)" font-size="10.06" text-anchor="end">30°N</text>
<text transform="translate(33.30,64.15) scale(0.9346,1)" font-size="10.06" text-anchor="end">0°</text>
<text transform="translate(35.60,83.82) scale(0.9346,1)" font-size="10.06" text-anchor="end">30°S</text>
<text transform="translate(35.60,107.77) scale(0.9346,1)" font-size="10.06" text-anchor="end">60°S</text>
<text transform="translate(41.80,133.00) scale(0.9346,1)" font-size="10.06" text-anchor="middle">0°</text>
<text transform="translate(79.35,133.00) scale(0.9346,1)" font-size="10.06" text-anchor="middle">60°E</text>
<text transform="translate(117.60,133.00) scale(0.9346,1)" font-size="10.06" text-anchor="middle">120°E</text>
<text transform="translate(156.55,133.00) scale(0.9346,1)" font-size="10.06" text-anchor="middle">180°</text>
<text transform="translate(194.10,133.00) scale(0.9346,1)" font-size="10.06" text-anchor="middle">120°W</text>
<text transform="translate(232.35,133.00) scale(0.9346,1)" font-size="10.06" text-anchor="middle">60°W</text>
<text transform="translate(271.30,133.00) scale(0.9346,1)" font-size="10.06" text-anchor="middle">0°</text>
<text transform="translate(156.25,148.20) scale(0.9346,1)" font-size="10.06" text-anchor="middle">Longitude</text>
<text x="0" y="0" text-anchor="middle" transform="translate(7.50,65.28) rotate(-90) scale(0.9346,1)" font-size="10.06">Latitude</text>
<text transform="translate(155.85,9.65) scale(0.9346,1)" font-size="10.22" text-anchor="middle">First dominant sources in winter</text>
<text x="31.50" y="8.95" font-size="13.4" font-weight="bold">a</text>
<clipPath id="ce"><rect x="382.6" y="12.05" width="229.60000000000002" height="108.65"/></clipPath>
<g clip-path="url(#ce)">
<rect x="382.6" y="12.05" width="229.60000000000002" height="108.65" fill="#fff"/>
<path fill="#a51c33" d="M382.6 12.1h3.2v5.0H382.6zM392.2 12.1h3.2v5.0H392.2zM424.0 12.1h3.2v5.0H424.0zM475.0 12.1h25.6v5.0H475.0zM510.1 12.1h6.4v5.0H510.1zM519.7 12.1h19.2v5.0H519.7zM577.0 12.1h6.4v5.0H577.0zM599.4 12.1h3.2v5.0H599.4zM608.9 12.1h3.2v5.0H608.9zM382.6 17.0h3.2v4.6H382.6zM392.2 17.0h3.2v4.6H392.2zM420.9 17.0h6.4v4.6H420.9zM475.0 17.0h31.9v4.6H475.0zM510.1 17.0h6.4v4.6H510.1zM519.7 17.0h22.4v4.6H519.7zM577.0 17.0h12.8v4.6H577.0zM593.0 17.0h3.2v4.6H593.0zM599.4 17.0h12.8v4.6H599.4zM392.2 21.6h3.2v4.3H392.2zM420.9 21.6h6.4v4.3H420.9zM446.4 21.6h16.0v4.3H446.4zM475.0 21.6h35.1v4.3H475.0zM522.9 21.6h6.4v4.3H522.9zM567.5 21.6h22.4v4.3H567.5zM593.0 21.6h3.2v4.3H593.0zM602.5 21.6h3.2v4.3H602.5zM392.2 25.9h3.2v4.1H392.2zM420.9 25.9h6.4v4.1H420.9zM446.4 25.9h47.9v4.1H446.4zM497.4 25.9h12.8v4.1H497.4zM522.9 25.9h22.4v4.1H522.9zM567.5 25.9h16.0v4.1H567.5zM586.6 25.9h6.4v4.1H586.6zM602.5 25.9h3.2v4.1H602.5zM382.6 29.9h6.4v3.9H382.6zM395.4 29.9h3.2v3.9H395.4zM420.9 29.9h6.4v3.9H420.9zM446.4 29.9h22.4v3.9H446.4zM471.9 29.9h6.4v3.9H471.9zM481.4 29.9h6.4v3.9H481.4zM503.7 29.9h41.5v3.9H503.7zM567.5 29.9h12.8v3.9H567.5zM586.6 29.9h3.2v3.9H586.6zM608.9 29.9h3.2v3.9H608.9zM382.6 33.8h6.4v3.7H382.6zM392.2 33.8h6.4v3.7H392.2zM420.9 33.8h6.4v3.7H420.9zM446.4 33.8h16.0v3.7H446.4zM465.5 33.8h3.2v3.7H465.5zM494.2 33.8h6.4v3.7H494.2zM503.7 33.8h28.7v3.7H503.7zM573.9 33.8h6.4v3.7H573.9zM605.7 33.8h6.4v3.7H605.7zM382.6 37.4h6.4v3.6H382.6zM392.2 37.4h3.2v3.6H392.2zM401.7 37.4h9.6v3.6H401.7zM420.9 37.4h6.4v3.6H420.9zM446.4 37.4h16.0v3.6H446.4zM465.5 37.4h3.2v3.6H465.5zM497.4 37.4h6.4v3.6H497.4zM506.9 37.4h12.8v3.6H506.9zM526.0 37.4h3.2v3.6H526.0zM557.9 37.4h9.6v3.6H557.9zM573.9 37.4h3.2v3.6H573.9zM580.2 37.4h3.2v3.6H580.2zM599.4 37.4h3.2v3.6H599.4zM605.7 37.4h6.4v3.6H605.7zM382.6 41.0h6.4v3.5H382.6zM392.2 41.0h3.2v3.5H392.2zM401.7 41.0h3.2v3.5H401.7zM420.9 41.0h6.4v3.5H420.9zM471.9 41.0h3.2v3.5H471.9zM570.7 41.0h6.4v3.5H570.7zM580.2 41.0h3.2v3.5H580.2zM593.0 41.0h9.6v3.5H593.0zM605.7 41.0h6.4v3.5H605.7zM382.6 44.4h6.4v3.4H382.6zM392.2 44.4h3.2v3.4H392.2zM420.9 44.4h6.4v3.4H420.9zM471.9 44.4h3.2v3.4H471.9zM510.1 44.4h3.2v3.4H510.1zM519.7 44.4h3.2v3.4H519.7zM593.0 44.4h3.2v3.4H593.0zM382.6 47.8h6.4v3.3H382.6zM392.2 47.8h3.2v3.3H392.2zM408.1 47.8h9.6v3.3H408.1zM449.5 47.8h6.4v3.3H449.5zM462.3 47.8h6.4v3.3H462.3zM471.9 47.8h3.2v3.3H471.9zM510.1 47.8h12.8v3.3H510.1zM526.0 47.8h6.4v3.3H526.0zM545.2 47.8h6.4v3.3H545.2zM593.0 47.8h3.2v3.3H593.0zM385.8 51.0h3.2v3.3H385.8zM392.2 51.0h3.2v3.3H392.2zM440.0 51.0h3.2v3.3H440.0zM449.5 51.0h9.6v3.3H449.5zM465.5 51.0h3.2v3.3H465.5zM503.7 51.0h6.4v3.3H503.7zM593.0 51.0h3.2v3.3H593.0zM385.8 54.3h3.2v3.2H385.8zM392.2 54.3h3.2v3.2H392.2zM440.0 54.3h3.2v3.2H440.0zM449.5 54.3h9.6v3.2H449.5zM465.5 54.3h3.2v3.2H465.5zM503.7 54.3h6.4v3.2H503.7zM593.0 54.3h3.2v3.2H593.0zM385.8 57.5h9.6v3.2H385.8zM440.0 57.5h3.2v3.2H440.0zM449.5 57.5h9.6v3.2H449.5zM465.5 57.5h3.2v3.2H465.5zM503.7 57.5h6.4v3.2H503.7zM593.0 57.5h3.2v3.2H593.0zM385.8 60.7h25.6v3.2H385.8zM414.5 60.7h9.6v3.2H414.5zM449.5 60.7h12.8v3.2H449.5zM465.5 60.7h3.2v3.2H465.5zM475.0 60.7h9.6v3.2H475.0zM500.5 60.7h3.2v3.2H500.5zM516.5 60.7h9.6v3.2H516.5zM532.4 60.7h3.2v3.2H532.4zM548.4 60.7h3.2v3.2H548.4zM561.1 60.7h3.2v3.2H561.1zM602.5 60.7h3.2v3.2H602.5zM385.8 63.8h38.3v3.2H385.8zM449.5 63.8h19.2v3.2H449.5zM475.0 63.8h9.6v3.2H475.0zM500.5 63.8h3.2v3.2H500.5zM516.5 63.8h9.6v3.2H516.5zM532.4 63.8h3.2v3.2H532.4zM548.4 63.8h3.2v3.2H548.4zM561.1 63.8h9.6v3.2H561.1zM602.5 63.8h3.2v3.2H602.5zM385.8 67.0h38.3v3.3H385.8zM449.5 67.0h19.2v3.3H449.5zM475.0 67.0h9.6v3.3H475.0zM500.5 67.0h3.2v3.3H500.5zM516.5 67.0h9.6v3.3H516.5zM532.4 67.0h3.2v3.3H532.4zM548.4 67.0h3.2v3.3H548.4zM561.1 67.0h16.0v3.3H561.1zM602.5 67.0h3.2v3.3H602.5zM398.5 70.3h22.4v3.3H398.5zM433.6 70.3h3.2v3.3H433.6zM452.7 70.3h16.0v3.3H452.7zM475.0 70.3h9.6v3.3H475.0zM506.9 70.3h6.4v3.3H506.9zM522.9 70.3h3.2v3.3H522.9zM385.8 73.5h31.9v3.4H385.8zM424.0 73.5h3.2v3.4H424.0zM433.6 73.5h3.2v3.4H433.6zM449.5 73.5h19.2v3.4H449.5zM471.9 73.5h12.8v3.4H471.9zM487.8 73.5h19.2v3.4H487.8zM513.3 73.5h6.4v3.4H513.3zM522.9 73.5h3.2v3.4H522.9zM535.6 73.5h6.4v3.4H535.6zM551.5 73.5h31.9v3.4H551.5zM589.8 73.5h6.4v3.4H589.8zM605.7 73.5h6.4v3.4H605.7zM389.0 76.9h9.6v3.5H389.0zM404.9 76.9h6.4v3.5H404.9zM424.0 76.9h3.2v3.5H424.0zM430.4 76.9h6.4v3.5H430.4zM446.4 76.9h3.2v3.5H446.4zM459.1 76.9h3.2v3.5H459.1zM465.5 76.9h19.2v3.5H465.5zM487.8 76.9h22.4v3.5H487.8zM516.5 76.9h3.2v3.5H516.5zM522.9 76.9h3.2v3.5H522.9zM542.0 76.9h3.2v3.5H542.0zM551.5 76.9h6.4v3.5H551.5zM573.9 76.9h9.6v3.5H573.9zM589.8 76.9h6.4v3.5H589.8zM605.7 76.9h6.4v3.5H605.7zM392.2 80.3h16.0v3.6H392.2zM411.3 80.3h3.2v3.6H411.3zM424.0 80.3h3.2v3.6H424.0zM430.4 80.3h3.2v3.6H430.4zM446.4 80.3h6.4v3.6H446.4zM459.1 80.3h3.2v3.6H459.1zM465.5 80.3h19.2v3.6H465.5zM491.0 80.3h12.8v3.6H491.0zM516.5 80.3h9.6v3.6H516.5zM535.6 80.3h9.6v3.6H535.6zM554.7 80.3h3.2v3.6H554.7zM561.1 80.3h9.6v3.6H561.1zM577.0 80.3h6.4v3.6H577.0zM589.8 80.3h6.4v3.6H589.8zM602.5 80.3h9.6v3.6H602.5zM382.6 83.9h9.6v3.7H382.6zM398.5 83.9h9.6v3.7H398.5zM411.3 83.9h6.4v3.7H411.3zM424.0 83.9h3.2v3.7H424.0zM430.4 83.9h3.2v3.7H430.4zM446.4 83.9h16.0v3.7H446.4zM465.5 83.9h9.6v3.7H465.5zM478.2 83.9h6.4v3.7H478.2zM497.4 83.9h6.4v3.7H497.4zM516.5 83.9h22.4v3.7H516.5zM542.0 83.9h6.4v3.7H542.0zM554.7 83.9h3.2v3.7H554.7zM580.2 83.9h19.2v3.7H580.2zM602.5 83.9h9.6v3.7H602.5zM382.6 87.5h12.8v3.9H382.6zM401.7 87.5h6.4v3.9H401.7zM414.5 87.5h6.4v3.9H414.5zM430.4 87.5h19.2v3.9H430.4zM452.7 87.5h3.2v3.9H452.7zM462.3 87.5h12.8v3.9H462.3zM478.2 87.5h6.4v3.9H478.2zM491.0 87.5h12.8v3.9H491.0zM506.9 87.5h3.2v3.9H506.9zM513.3 87.5h16.0v3.9H513.3zM532.4 87.5h6.4v3.9H532.4zM542.0 87.5h35.1v3.9H542.0zM580.2 87.5h12.8v3.9H580.2zM596.2 87.5h3.2v3.9H596.2zM602.5 87.5h9.6v3.9H602.5zM392.2 91.4h6.4v4.1H392.2zM408.1 91.4h9.6v4.1H408.1zM430.4 91.4h3.2v4.1H430.4zM436.8 91.4h12.8v4.1H436.8zM452.7 91.4h3.2v4.1H452.7zM459.1 91.4h6.4v4.1H459.1zM468.7 91.4h3.2v4.1H468.7zM478.2 91.4h3.2v4.1H478.2zM491.0 91.4h19.2v4.1H491.0zM513.3 91.4h6.4v4.1H513.3zM526.0 91.4h3.2v4.1H526.0zM532.4 91.4h35.1v4.1H532.4zM573.9 91.4h6.4v4.1H573.9zM583.4 91.4h9.6v4.1H583.4zM599.4 91.4h12.8v4.1H599.4zM382.6 95.4h12.8v4.3H382.6zM408.1 95.4h25.6v4.3H408.1zM436.8 95.4h12.8v4.3H436.8zM452.7 95.4h6.4v4.3H452.7zM481.4 95.4h6.4v4.3H481.4zM494.2 95.4h12.8v4.3H494.2zM513.3 95.4h3.2v4.3H513.3zM519.7 95.4h9.6v4.3H519.7zM535.6 95.4h25.6v4.3H535.6zM573.9 95.4h6.4v4.3H573.9zM586.6 95.4h3.2v4.3H586.6zM596.2 95.4h9.6v4.3H596.2zM608.9 95.4h3.2v4.3H608.9zM382.6 99.7h6.4v4.6H382.6zM404.9 99.7h6.4v4.6H404.9zM414.5 99.7h6.4v4.6H414.5zM424.0 99.7h6.4v4.6H424.0zM436.8 99.7h19.2v4.6H436.8zM475.0 99.7h9.6v4.6H475.0zM491.0 99.7h12.8v4.6H491.0zM513.3 99.7h3.2v4.6H513.3zM519.7 99.7h9.6v4.6H519.7zM532.4 99.7h19.2v4.6H532.4zM557.9 99.7h6.4v4.6H557.9zM567.5 99.7h3.2v4.6H567.5zM573.9 99.7h6.4v4.6H573.9zM586.6 99.7h3.2v4.6H586.6zM608.9 99.7h3.2v4.6H608.9zM382.6 104.3h9.6v5.0H382.6zM404.9 104.3h6.4v5.0H404.9zM414.5 104.3h3.2v5.0H414.5zM427.2 104.3h3.2v5.0H427.2zM433.6 104.3h6.4v5.0H433.6zM462.3 104.3h3.2v5.0H462.3zM481.4 104.3h3.2v5.0H481.4zM487.8 104.3h6.4v5.0H487.8zM500.5 104.3h25.6v5.0H500.5zM538.8 104.3h6.4v5.0H538.8zM557.9 104.3h12.8v5.0H557.9zM573.9 104.3h6.4v5.0H573.9zM608.9 104.3h3.2v5.0H608.9zM382.6 109.2h9.6v5.5H382.6zM408.1 109.2h3.2v5.5H408.1zM414.5 109.2h3.2v5.5H414.5zM424.0 109.2h16.0v5.5H424.0zM462.3 109.2h3.2v5.5H462.3zM487.8 109.2h3.2v5.5H487.8zM503.7 109.2h6.4v5.5H503.7zM522.9 109.2h3.2v5.5H522.9zM542.0 109.2h3.2v5.5H542.0zM608.9 109.2h3.2v5.5H608.9zM382.6 114.6h9.6v6.1H382.6zM408.1 114.6h3.2v6.1H408.1zM414.5 114.6h3.2v6.1H414.5zM424.0 114.6h16.0v6.1H424.0zM462.3 114.6h3.2v6.1H462.3zM503.7 114.6h3.2v6.1H503.7zM608.9 114.6h3.2v6.1H608.9z"/><path fill="#dfbb8a" d="M427.2 12.1h19.2v5.0H427.2zM583.4 12.1h16.0v5.0H583.4zM427.2 17.0h19.2v4.6H427.2zM589.8 17.0h3.2v4.6H589.8zM596.2 17.0h3.2v4.6H596.2zM382.6 21.6h3.2v4.3H382.6zM417.7 21.6h3.2v4.3H417.7zM427.2 21.6h19.2v4.3H427.2zM564.3 21.6h3.2v4.3H564.3zM589.8 21.6h3.2v4.3H589.8zM596.2 21.6h6.4v4.3H596.2zM608.9 21.6h3.2v4.3H608.9zM382.6 25.9h3.2v4.1H382.6zM389.0 25.9h3.2v4.1H389.0zM398.5 25.9h12.8v4.1H398.5zM417.7 25.9h3.2v4.1H417.7zM427.2 25.9h19.2v4.1H427.2zM494.2 25.9h3.2v4.1H494.2zM561.1 25.9h6.4v4.1H561.1zM583.4 25.9h3.2v4.1H583.4zM593.0 25.9h9.6v4.1H593.0zM605.7 25.9h6.4v4.1H605.7zM389.0 29.9h6.4v3.9H389.0zM398.5 29.9h12.8v3.9H398.5zM417.7 29.9h3.2v3.9H417.7zM427.2 29.9h19.2v3.9H427.2zM468.7 29.9h3.2v3.9H468.7zM478.2 29.9h3.2v3.9H478.2zM487.8 29.9h16.0v3.9H487.8zM557.9 29.9h9.6v3.9H557.9zM580.2 29.9h6.4v3.9H580.2zM589.8 29.9h19.2v3.9H589.8zM389.0 33.8h3.2v3.7H389.0zM398.5 33.8h12.8v3.7H398.5zM417.7 33.8h3.2v3.7H417.7zM427.2 33.8h19.2v3.7H427.2zM462.3 33.8h3.2v3.7H462.3zM468.7 33.8h25.6v3.7H468.7zM500.5 33.8h3.2v3.7H500.5zM532.4 33.8h41.5v3.7H532.4zM580.2 33.8h25.6v3.7H580.2zM389.0 37.4h3.2v3.6H389.0zM395.4 37.4h6.4v3.6H395.4zM417.7 37.4h3.2v3.6H417.7zM427.2 37.4h19.2v3.6H427.2zM462.3 37.4h3.2v3.6H462.3zM468.7 37.4h28.7v3.6H468.7zM503.7 37.4h3.2v3.6H503.7zM519.7 37.4h6.4v3.6H519.7zM529.2 37.4h28.7v3.6H529.2zM567.5 37.4h6.4v3.6H567.5zM577.0 37.4h3.2v3.6H577.0zM583.4 37.4h16.0v3.6H583.4zM602.5 37.4h3.2v3.6H602.5zM389.0 41.0h3.2v3.5H389.0zM395.4 41.0h6.4v3.5H395.4zM404.9 41.0h6.4v3.5H404.9zM417.7 41.0h3.2v3.5H417.7zM427.2 41.0h44.7v3.5H427.2zM475.0 41.0h95.7v3.5H475.0zM577.0 41.0h3.2v3.5H577.0zM583.4 41.0h9.6v3.5H583.4zM602.5 41.0h3.2v3.5H602.5zM389.0 44.4h3.2v3.4H389.0zM395.4 44.4h16.0v3.4H395.4zM417.7 44.4h3.2v3.4H417.7zM427.2 44.4h44.7v3.4H427.2zM475.0 44.4h35.1v3.4H475.0zM513.3 44.4h6.4v3.4H513.3zM522.9 44.4h70.2v3.4H522.9zM596.2 44.4h16.0v3.4H596.2zM389.0 47.8h3.2v3.3H389.0zM395.4 47.8h12.8v3.3H395.4zM417.7 47.8h31.9v3.3H417.7zM455.9 47.8h6.4v3.3H455.9zM468.7 47.8h3.2v3.3H468.7zM475.0 47.8h35.1v3.3H475.0zM522.9 47.8h3.2v3.3H522.9zM532.4 47.8h12.8v3.3H532.4zM551.5 47.8h41.5v3.3H551.5zM596.2 47.8h16.0v3.3H596.2zM382.6 51.0h3.2v3.3H382.6zM389.0 51.0h3.2v3.3H389.0zM395.4 51.0h12.8v3.3H395.4zM411.3 51.0h28.7v3.3H411.3zM443.2 51.0h6.4v3.3H443.2zM459.1 51.0h6.4v3.3H459.1zM468.7 51.0h35.1v3.3H468.7zM510.1 51.0h82.9v3.3H510.1zM596.2 51.0h16.0v3.3H596.2zM382.6 54.3h3.2v3.2H382.6zM389.0 54.3h3.2v3.2H389.0zM395.4 54.3h12.8v3.2H395.4zM411.3 54.3h28.7v3.2H411.3zM443.2 54.3h6.4v3.2H443.2zM459.1 54.3h6.4v3.2H459.1zM468.7 54.3h35.1v3.2H468.7zM510.1 54.3h82.9v3.2H510.1zM596.2 54.3h16.0v3.2H596.2zM382.6 57.5h3.2v3.2H382.6zM395.4 57.5h12.8v3.2H395.4zM411.3 57.5h28.7v3.2H411.3zM443.2 57.5h6.4v3.2H443.2zM459.1 57.5h6.4v3.2H459.1zM468.7 57.5h35.1v3.2H468.7zM510.1 57.5h82.9v3.2H510.1zM596.2 57.5h16.0v3.2H596.2zM382.6 60.7h3.2v3.2H382.6zM411.3 60.7h3.2v3.2H411.3zM424.0 60.7h25.6v3.2H424.0zM462.3 60.7h3.2v3.2H462.3zM471.9 60.7h3.2v3.2H471.9zM484.6 60.7h16.0v3.2H484.6zM503.7 60.7h12.8v3.2H503.7zM526.0 60.7h6.4v3.2H526.0zM535.6 60.7h12.8v3.2H535.6zM551.5 60.7h9.6v3.2H551.5zM564.3 60.7h38.3v3.2H564.3zM605.7 60.7h6.4v3.2H605.7zM382.6 63.8h3.2v3.2H382.6zM424.0 63.8h25.6v3.2H424.0zM484.6 63.8h16.0v3.2H484.6zM503.7 63.8h12.8v3.2H503.7zM526.0 63.8h6.4v3.2H526.0zM535.6 63.8h12.8v3.2H535.6zM551.5 63.8h9.6v3.2H551.5zM570.7 63.8h31.9v3.2H570.7zM605.7 63.8h6.4v3.2H605.7zM382.6 67.0h3.2v3.3H382.6zM424.0 67.0h25.6v3.3H424.0zM484.6 67.0h16.0v3.3H484.6zM503.7 67.0h12.8v3.3H503.7zM526.0 67.0h6.4v3.3H526.0zM535.6 67.0h12.8v3.3H535.6zM551.5 67.0h9.6v3.3H551.5zM577.0 67.0h25.6v3.3H577.0zM605.7 67.0h6.4v3.3H605.7zM382.6 70.3h16.0v3.3H382.6zM420.9 70.3h12.8v3.3H420.9zM436.8 70.3h16.0v3.3H436.8zM484.6 70.3h22.4v3.3H484.6zM513.3 70.3h9.6v3.3H513.3zM526.0 70.3h86.1v3.3H526.0zM382.6 73.5h3.2v3.4H382.6zM417.7 73.5h6.4v3.4H417.7zM427.2 73.5h6.4v3.4H427.2zM436.8 73.5h12.8v3.4H436.8zM484.6 73.5h3.2v3.4H484.6zM506.9 73.5h6.4v3.4H506.9zM519.7 73.5h3.2v3.4H519.7zM526.0 73.5h9.6v3.4H526.0zM542.0 73.5h9.6v3.4H542.0zM583.4 73.5h6.4v3.4H583.4zM596.2 73.5h9.6v3.4H596.2zM382.6 76.9h6.4v3.5H382.6zM398.5 76.9h6.4v3.5H398.5zM411.3 76.9h12.8v3.5H411.3zM427.2 76.9h3.2v3.5H427.2zM436.8 76.9h9.6v3.5H436.8zM449.5 76.9h9.6v3.5H449.5zM484.6 76.9h3.2v3.5H484.6zM510.1 76.9h6.4v3.5H510.1zM519.7 76.9h3.2v3.5H519.7zM526.0 76.9h16.0v3.5H526.0zM545.2 76.9h6.4v3.5H545.2zM557.9 76.9h16.0v3.5H557.9zM583.4 76.9h6.4v3.5H583.4zM596.2 76.9h9.6v3.5H596.2zM382.6 80.3h9.6v3.6H382.6zM408.1 80.3h3.2v3.6H408.1zM420.9 80.3h3.2v3.6H420.9zM427.2 80.3h3.2v3.6H427.2zM433.6 80.3h3.2v3.6H433.6zM440.0 80.3h6.4v3.6H440.0zM452.7 80.3h6.4v3.6H452.7zM484.6 80.3h6.4v3.6H484.6zM503.7 80.3h12.8v3.6H503.7zM526.0 80.3h9.6v3.6H526.0zM545.2 80.3h9.6v3.6H545.2zM557.9 80.3h3.2v3.6H557.9zM596.2 80.3h6.4v3.6H596.2zM392.2 83.9h6.4v3.7H392.2zM408.1 83.9h3.2v3.7H408.1zM417.7 83.9h6.4v3.7H417.7zM427.2 83.9h3.2v3.7H427.2zM433.6 83.9h3.2v3.7H433.6zM440.0 83.9h6.4v3.7H440.0zM475.0 83.9h3.2v3.7H475.0zM484.6 83.9h12.8v3.7H484.6zM503.7 83.9h12.8v3.7H503.7zM548.4 83.9h6.4v3.7H548.4zM557.9 83.9h3.2v3.7H557.9zM599.4 83.9h3.2v3.7H599.4zM420.9 87.5h9.6v3.9H420.9zM449.5 87.5h3.2v3.9H449.5zM455.9 87.5h6.4v3.9H455.9zM475.0 87.5h3.2v3.9H475.0zM484.6 87.5h6.4v3.9H484.6zM503.7 87.5h3.2v3.9H503.7zM529.2 87.5h3.2v3.9H529.2zM577.0 87.5h3.2v3.9H577.0zM593.0 87.5h3.2v3.9H593.0zM599.4 87.5h3.2v3.9H599.4zM427.2 91.4h3.2v4.1H427.2zM433.6 91.4h3.2v4.1H433.6zM449.5 91.4h3.2v4.1H449.5zM455.9 91.4h3.2v4.1H455.9zM465.5 91.4h3.2v4.1H465.5zM475.0 91.4h3.2v4.1H475.0zM481.4 91.4h9.6v4.1H481.4zM519.7 91.4h6.4v4.1H519.7zM529.2 91.4h3.2v4.1H529.2zM580.2 91.4h3.2v4.1H580.2zM593.0 91.4h6.4v4.1H593.0zM433.6 95.4h3.2v4.3H433.6zM449.5 95.4h3.2v4.3H449.5zM459.1 95.4h22.4v4.3H459.1zM487.8 95.4h6.4v4.3H487.8zM516.5 95.4h3.2v4.3H516.5zM529.2 95.4h6.4v4.3H529.2zM561.1 95.4h6.4v4.3H561.1zM580.2 95.4h6.4v4.3H580.2zM589.8 95.4h6.4v4.3H589.8zM430.4 99.7h6.4v4.6H430.4zM455.9 99.7h19.2v4.6H455.9zM484.6 99.7h6.4v4.6H484.6zM516.5 99.7h3.2v4.6H516.5zM529.2 99.7h3.2v4.6H529.2zM551.5 99.7h6.4v4.6H551.5zM564.3 99.7h3.2v4.6H564.3zM430.4 104.3h3.2v5.0H430.4zM440.0 104.3h3.2v5.0H440.0zM484.6 104.3h3.2v5.0H484.6zM497.4 104.3h3.2v5.0H497.4zM545.2 104.3h12.8v5.0H545.2zM440.0 109.2h3.2v5.5H440.0zM497.4 109.2h6.4v5.5H497.4zM440.0 114.6h3.2v6.1H440.0zM500.5 114.6h3.2v6.1H500.5z"/><path fill="#72ebdc" d="M516.5 12.1h3.2v5.0H516.5zM573.9 12.1h3.2v5.0H573.9zM602.5 12.1h6.4v5.0H602.5zM516.5 17.0h3.2v4.6H516.5zM573.9 17.0h3.2v4.6H573.9zM411.3 21.6h6.4v4.3H411.3zM462.3 21.6h12.8v4.3H462.3zM510.1 21.6h12.8v4.3H510.1zM529.2 21.6h12.8v4.3H529.2zM411.3 25.9h6.4v4.1H411.3zM513.3 25.9h9.6v4.1H513.3zM411.3 29.9h6.4v3.9H411.3zM411.3 33.8h6.4v3.7H411.3zM411.3 37.4h6.4v3.6H411.3zM411.3 41.0h6.4v3.5H411.3zM411.3 44.4h3.2v3.4H411.3zM468.7 60.7h3.2v3.2H468.7zM468.7 63.8h6.4v3.2H468.7zM468.7 67.0h6.4v3.3H468.7zM468.7 70.3h6.4v3.3H468.7zM468.7 73.5h3.2v3.4H468.7zM462.3 76.9h3.2v3.5H462.3zM414.5 80.3h6.4v3.6H414.5zM436.8 80.3h3.2v3.6H436.8zM462.3 80.3h3.2v3.6H462.3zM570.7 80.3h6.4v3.6H570.7zM583.4 80.3h6.4v3.6H583.4zM436.8 83.9h3.2v3.7H436.8zM462.3 83.9h3.2v3.7H462.3zM538.8 83.9h3.2v3.7H538.8zM561.1 83.9h19.2v3.7H561.1zM395.4 87.5h6.4v3.9H395.4zM408.1 87.5h6.4v3.9H408.1zM510.1 87.5h3.2v3.9H510.1zM538.8 87.5h3.2v3.9H538.8zM382.6 91.4h9.6v4.1H382.6zM398.5 91.4h9.6v4.1H398.5zM417.7 91.4h9.6v4.1H417.7zM471.9 91.4h3.2v4.1H471.9zM510.1 91.4h3.2v4.1H510.1zM567.5 91.4h6.4v4.1H567.5zM395.4 95.4h12.8v4.3H395.4zM506.9 95.4h6.4v4.3H506.9zM567.5 95.4h6.4v4.3H567.5zM605.7 95.4h3.2v4.3H605.7zM389.0 99.7h16.0v4.6H389.0zM411.3 99.7h3.2v4.6H411.3zM420.9 99.7h3.2v4.6H420.9zM503.7 99.7h9.6v4.6H503.7zM570.7 99.7h3.2v4.6H570.7zM580.2 99.7h6.4v4.6H580.2zM589.8 99.7h19.2v4.6H589.8zM392.2 104.3h12.8v5.0H392.2zM411.3 104.3h3.2v5.0H411.3zM417.7 104.3h9.6v5.0H417.7zM443.2 104.3h19.2v5.0H443.2zM465.5 104.3h16.0v5.0H465.5zM494.2 104.3h3.2v5.0H494.2zM526.0 104.3h12.8v5.0H526.0zM580.2 104.3h28.7v5.0H580.2zM392.2 109.2h16.0v5.5H392.2zM411.3 109.2h3.2v5.5H411.3zM417.7 109.2h6.4v5.5H417.7zM443.2 109.2h19.2v5.5H443.2zM465.5 109.2h9.6v5.5H465.5zM491.0 109.2h6.4v5.5H491.0zM510.1 109.2h12.8v5.5H510.1zM526.0 109.2h16.0v5.5H526.0zM545.2 109.2h6.4v5.5H545.2zM554.7 109.2h12.8v5.5H554.7zM586.6 109.2h22.4v5.5H586.6zM392.2 114.6h16.0v6.1H392.2zM411.3 114.6h3.2v6.1H411.3zM417.7 114.6h6.4v6.1H417.7zM443.2 114.6h19.2v6.1H443.2zM465.5 114.6h9.6v6.1H465.5zM491.0 114.6h9.6v6.1H491.0zM506.9 114.6h22.4v6.1H506.9zM548.4 114.6h3.2v6.1H548.4zM554.7 114.6h3.2v6.1H554.7zM561.1 114.6h6.4v6.1H561.1zM589.8 114.6h19.2v6.1H589.8z"/><path fill="#dfbb8a" d="M498.0 13.1h1.9v3.0h-1.9zM603.2 17.9h1.9v2.7h-1.9zM488.4 22.5h1.9v2.6h-1.9zM564.9 38.1h1.9v2.1h-1.9zM482.1 70.9h1.9v2.0h-1.9zM491.6 74.2h1.9v2.0h-1.9zM558.6 74.2h1.9v2.0h-1.9zM494.8 77.6h1.9v2.1h-1.9zM501.2 77.6h1.9v2.1h-1.9zM555.4 77.6h1.9v2.1h-1.9zM415.1 84.6h1.9v2.2h-1.9zM520.3 84.6h1.9v2.2h-1.9zM590.4 84.6h1.9v2.2h-1.9zM609.6 84.6h1.9v2.2h-1.9zM389.6 88.3h1.9v2.3h-1.9zM402.4 88.3h1.9v2.3h-1.9zM418.3 88.3h1.9v2.3h-1.9zM437.4 88.3h1.9v2.3h-1.9zM517.1 88.3h1.9v2.3h-1.9zM542.6 88.3h1.9v2.3h-1.9zM574.5 88.3h1.9v2.3h-1.9zM580.9 88.3h1.9v2.3h-1.9zM383.2 92.2h1.9v2.4h-1.9zM396.0 92.2h1.9v2.4h-1.9zM472.5 92.2h1.9v2.4h-1.9zM498.0 92.2h1.9v2.4h-1.9zM549.0 92.2h1.9v2.4h-1.9zM558.6 92.2h1.9v2.4h-1.9zM577.7 92.2h1.9v2.4h-1.9zM603.2 92.2h1.9v2.4h-1.9zM389.6 96.3h1.9v2.6h-1.9zM411.9 96.3h1.9v2.6h-1.9zM421.5 96.3h1.9v2.6h-1.9zM386.4 100.6h1.9v2.7h-1.9zM424.7 100.6h1.9v2.7h-1.9zM443.8 100.6h1.9v2.7h-1.9zM609.6 100.6h1.9v2.7h-1.9zM504.4 105.3h1.9v3.0h-1.9zM561.7 105.3h1.9v3.0h-1.9z"/><path fill="#72ebdc" d="M577.7 22.5h1.9v2.6h-1.9zM596.8 22.5h1.9v2.6h-1.9zM574.5 26.7h1.9v2.4h-1.9zM472.5 30.7h1.9v2.3h-1.9zM590.4 30.7h1.9v2.3h-1.9zM571.3 41.7h1.9v2.1h-1.9zM383.2 70.9h1.9v2.0h-1.9zM421.5 70.9h1.9v2.0h-1.9zM501.2 74.2h1.9v2.0h-1.9zM443.8 77.6h1.9v2.1h-1.9zM507.6 77.6h1.9v2.1h-1.9zM456.6 84.6h1.9v2.2h-1.9zM485.2 84.6h1.9v2.2h-1.9zM383.2 88.3h1.9v2.3h-1.9zM466.1 88.3h1.9v2.3h-1.9zM475.7 92.2h1.9v2.4h-1.9zM542.6 92.2h1.9v2.4h-1.9zM584.1 92.2h1.9v2.4h-1.9zM472.5 96.3h1.9v2.6h-1.9zM520.3 96.3h1.9v2.6h-1.9z"/><path fill="#a51c33" d="M564.9 34.5h1.9v2.2h-1.9zM584.1 34.5h1.9v2.2h-1.9zM593.6 34.5h1.9v2.2h-1.9zM482.1 38.1h1.9v2.1h-1.9zM488.4 38.1h1.9v2.1h-1.9zM533.1 38.1h1.9v2.1h-1.9zM568.1 38.1h1.9v2.1h-1.9zM590.4 38.1h1.9v2.1h-1.9zM523.5 41.7h1.9v2.1h-1.9zM564.9 41.7h1.9v2.1h-1.9zM587.2 41.7h1.9v2.1h-1.9zM459.7 45.1h1.9v2.0h-1.9zM478.9 45.1h1.9v2.0h-1.9zM485.2 45.1h1.9v2.0h-1.9zM571.3 45.1h1.9v2.0h-1.9zM434.2 48.4h1.9v2.0h-1.9zM564.9 48.4h1.9v2.0h-1.9zM485.2 70.9h1.9v2.0h-1.9zM491.6 70.9h1.9v2.0h-1.9zM558.6 70.9h1.9v2.0h-1.9zM440.6 74.2h1.9v2.0h-1.9zM418.3 77.6h1.9v2.1h-1.9zM510.7 77.6h1.9v2.1h-1.9zM558.6 77.6h1.9v2.1h-1.9zM600.0 77.6h1.9v2.1h-1.9zM507.6 81.0h1.9v2.1h-1.9zM549.0 81.0h1.9v2.1h-1.9zM418.3 84.6h1.9v2.2h-1.9zM421.5 88.3h1.9v2.3h-1.9zM577.7 88.3h1.9v2.3h-1.9zM399.2 92.2h1.9v2.4h-1.9zM580.9 92.2h1.9v2.4h-1.9zM402.4 96.3h1.9v2.6h-1.9zM399.2 100.6h1.9v2.7h-1.9zM466.1 100.6h1.9v2.7h-1.9zM593.6 105.3h1.9v3.0h-1.9zM600.0 105.3h1.9v3.0h-1.9zM596.8 110.3h1.9v3.3h-1.9z"/>
<use href="#nodata" transform="translate(341.50,0.00)"/>
<rect x="382.6" y="54.27" width="229.60000000000002" height="12.76" fill="#e3e3e3"/>
<use href="#land" transform="translate(341.50,0.00)"/>
</g>
<rect x="382.6" y="12.05" width="229.60000000000002" height="108.65" fill="none" stroke="#000" stroke-width="1.3"/>
<path d="M382.60,12.05v-2.2M382.60,120.7v2.2M420.87,12.05v-2.2M420.87,120.7v2.2M459.13,12.05v-2.2M459.13,120.7v2.2M497.40,12.05v-2.2M497.40,120.7v2.2M535.67,12.05v-2.2M535.67,120.7v2.2M573.93,12.05v-2.2M573.93,120.7v2.2M612.20,12.05v-2.2M612.20,120.7v2.2M382.6,17.03h-2.2M612.2,17.03h2.2M382.6,40.98h-2.2M612.2,40.98h2.2M382.6,60.65h-2.2M612.2,60.65h2.2M382.6,80.32h-2.2M612.2,80.32h2.2M382.6,104.27h-2.2M612.2,104.27h2.2" stroke="#000" stroke-width="1.1" fill="none"/>
<text transform="translate(377.10,20.53) scale(0.9346,1)" font-size="10.06" text-anchor="end">60°N</text>
<text transform="translate(377.10,44.48) scale(0.9346,1)" font-size="10.06" text-anchor="end">30°N</text>
<text transform="translate(374.80,64.15) scale(0.9346,1)" font-size="10.06" text-anchor="end">0°</text>
<text transform="translate(377.10,83.82) scale(0.9346,1)" font-size="10.06" text-anchor="end">30°S</text>
<text transform="translate(377.10,107.77) scale(0.9346,1)" font-size="10.06" text-anchor="end">60°S</text>
<text transform="translate(383.30,133.00) scale(0.9346,1)" font-size="10.06" text-anchor="middle">0°</text>
<text transform="translate(420.87,133.00) scale(0.9346,1)" font-size="10.06" text-anchor="middle">60°E</text>
<text transform="translate(459.13,133.00) scale(0.9346,1)" font-size="10.06" text-anchor="middle">120°E</text>
<text transform="translate(498.10,133.00) scale(0.9346,1)" font-size="10.06" text-anchor="middle">180°</text>
<text transform="translate(535.67,133.00) scale(0.9346,1)" font-size="10.06" text-anchor="middle">120°W</text>
<text transform="translate(573.93,133.00) scale(0.9346,1)" font-size="10.06" text-anchor="middle">60°W</text>
<text transform="translate(612.90,133.00) scale(0.9346,1)" font-size="10.06" text-anchor="middle">0°</text>
<text transform="translate(497.80,148.20) scale(0.9346,1)" font-size="10.06" text-anchor="middle">Longitude</text>
<text x="0" y="0" text-anchor="middle" transform="translate(349.00,65.28) rotate(-90) scale(0.9346,1)" font-size="10.06">Latitude</text>
<text transform="translate(497.40,9.65) scale(0.9346,1)" font-size="10.22" text-anchor="middle">Contribution of first dominant sources in winter</text>
<text x="373.00" y="8.95" font-size="13.4" font-weight="bold">e</text>
<clipPath id="cb"><rect x="41.1" y="165.20000000000002" width="229.50000000000003" height="108.65"/></clipPath>
<g clip-path="url(#cb)">
<rect x="41.1" y="165.20000000000002" width="229.50000000000003" height="108.65" fill="#fff"/>
<path fill="#f5682c" d="M41.1 165.2h3.2v5.0H41.1zM50.7 165.2h3.2v5.0H50.7zM82.5 165.2h12.8v5.0H82.5zM133.5 165.2h3.2v5.0H133.5zM171.8 165.2h22.4v5.0H171.8zM232.4 165.2h9.6v5.0H232.4zM251.5 165.2h3.2v5.0H251.5zM261.0 165.2h6.4v5.0H261.0zM41.1 170.2h3.2v4.6H41.1zM50.7 170.2h3.2v4.6H50.7zM79.3 170.2h16.0v4.6H79.3zM133.5 170.2h3.2v4.6H133.5zM168.6 170.2h28.7v4.6H168.6zM232.4 170.2h9.6v4.6H232.4zM245.1 170.2h3.2v4.6H245.1zM251.5 170.2h3.2v4.6H251.5zM50.7 174.8h3.2v4.3H50.7zM79.3 174.8h16.0v4.3H79.3zM120.8 174.8h16.0v4.3H120.8zM143.1 174.8h6.4v4.3H143.1zM159.0 174.8h41.5v4.3H159.0zM232.4 174.8h9.6v4.3H232.4zM245.1 174.8h9.6v4.3H245.1zM50.7 179.0h3.2v4.1H50.7zM79.3 179.0h16.0v4.1H79.3zM127.2 179.0h25.6v4.1H127.2zM155.9 179.0h19.2v4.1H155.9zM178.2 179.0h6.4v4.1H178.2zM187.7 179.0h16.0v4.1H187.7zM219.6 179.0h35.1v4.1H219.6zM264.2 179.0h6.4v4.1H264.2zM53.9 183.1h6.4v3.9H53.9zM79.3 183.1h16.0v3.9H79.3zM130.4 183.1h3.2v3.9H130.4zM139.9 183.1h9.6v3.9H139.9zM155.9 183.1h3.2v3.9H155.9zM165.4 183.1h6.4v3.9H165.4zM178.2 183.1h3.2v3.9H178.2zM187.7 183.1h16.0v3.9H187.7zM216.4 183.1h35.1v3.9H216.4zM264.2 183.1h3.2v3.9H264.2zM47.5 186.9h12.8v3.7H47.5zM79.3 186.9h16.0v3.7H79.3zM143.1 186.9h3.2v3.7H143.1zM155.9 186.9h12.8v3.7H155.9zM175.0 186.9h6.4v3.7H175.0zM184.5 186.9h6.4v3.7H184.5zM216.4 186.9h12.8v3.7H216.4zM232.4 186.9h16.0v3.7H232.4zM257.9 186.9h3.2v3.7H257.9zM47.5 190.6h3.2v3.6H47.5zM57.0 190.6h3.2v3.6H57.0zM79.3 190.6h16.0v3.6H79.3zM117.6 190.6h3.2v3.6H117.6zM143.1 190.6h6.4v3.6H143.1zM152.7 190.6h16.0v3.6H152.7zM184.5 190.6h22.4v3.6H184.5zM216.4 190.6h6.4v3.6H216.4zM254.7 190.6h12.8v3.6H254.7zM47.5 194.1h3.2v3.5H47.5zM57.0 194.1h3.2v3.5H57.0zM79.3 194.1h16.0v3.5H79.3zM104.9 194.1h19.2v3.5H104.9zM165.4 194.1h3.2v3.5H165.4zM190.9 194.1h3.2v3.5H190.9zM216.4 194.1h6.4v3.5H216.4zM251.5 194.1h16.0v3.5H251.5zM47.5 197.6h3.2v3.4H47.5zM57.0 197.6h3.2v3.4H57.0zM76.2 197.6h19.2v3.4H76.2zM104.9 197.6h9.6v3.4H104.9zM117.6 197.6h25.6v3.4H117.6zM235.5 197.6h3.2v3.4H235.5zM245.1 197.6h3.2v3.4H245.1zM251.5 197.6h19.2v3.4H251.5zM47.5 200.9h3.2v3.3H47.5zM79.3 200.9h6.4v3.3H79.3zM92.1 200.9h3.2v3.3H92.1zM108.0 200.9h6.4v3.3H108.0zM117.6 200.9h22.4v3.3H117.6zM162.2 200.9h3.2v3.3H162.2zM175.0 200.9h12.8v3.3H175.0zM210.0 200.9h6.4v3.3H210.0zM235.5 200.9h3.2v3.3H235.5zM245.1 200.9h3.2v3.3H245.1zM254.7 200.9h3.2v3.3H254.7zM47.5 204.2h3.2v3.3H47.5zM82.5 204.2h3.2v3.3H82.5zM92.1 204.2h3.2v3.3H92.1zM108.0 204.2h6.4v3.3H108.0zM117.6 204.2h6.4v3.3H117.6zM127.2 204.2h6.4v3.3H127.2zM155.9 204.2h3.2v3.3H155.9zM162.2 204.2h3.2v3.3H162.2zM184.5 204.2h3.2v3.3H184.5zM190.9 204.2h3.2v3.3H190.9zM200.5 204.2h3.2v3.3H200.5zM210.0 204.2h3.2v3.3H210.0zM219.6 204.2h3.2v3.3H219.6zM229.2 204.2h3.2v3.3H229.2zM235.5 204.2h3.2v3.3H235.5zM245.1 204.2h3.2v3.3H245.1zM254.7 204.2h3.2v3.3H254.7zM44.3 207.4h6.4v3.2H44.3zM82.5 207.4h3.2v3.2H82.5zM92.1 207.4h3.2v3.2H92.1zM108.0 207.4h6.4v3.2H108.0zM117.6 207.4h6.4v3.2H117.6zM127.2 207.4h6.4v3.2H127.2zM155.9 207.4h3.2v3.2H155.9zM162.2 207.4h3.2v3.2H162.2zM184.5 207.4h3.2v3.2H184.5zM190.9 207.4h3.2v3.2H190.9zM200.5 207.4h3.2v3.2H200.5zM210.0 207.4h3.2v3.2H210.0zM219.6 207.4h3.2v3.2H219.6zM229.2 207.4h3.2v3.2H229.2zM235.5 207.4h3.2v3.2H235.5zM245.1 207.4h3.2v3.2H245.1zM254.7 207.4h3.2v3.2H254.7zM44.3 210.6h9.6v3.2H44.3zM82.5 210.6h3.2v3.2H82.5zM92.1 210.6h3.2v3.2H92.1zM108.0 210.6h6.4v3.2H108.0zM117.6 210.6h6.4v3.2H117.6zM127.2 210.6h6.4v3.2H127.2zM155.9 210.6h3.2v3.2H155.9zM162.2 210.6h3.2v3.2H162.2zM184.5 210.6h3.2v3.2H184.5zM190.9 210.6h3.2v3.2H190.9zM200.5 210.6h3.2v3.2H200.5zM210.0 210.6h3.2v3.2H210.0zM219.6 210.6h3.2v3.2H219.6zM229.2 210.6h3.2v3.2H229.2zM235.5 210.6h3.2v3.2H235.5zM245.1 210.6h3.2v3.2H245.1zM254.7 210.6h3.2v3.2H254.7zM44.3 213.8h12.8v3.2H44.3zM82.5 213.8h3.2v3.2H82.5zM111.2 213.8h12.8v3.2H111.2zM127.2 213.8h6.4v3.2H127.2zM155.9 213.8h3.2v3.2H155.9zM162.2 213.8h9.6v3.2H162.2zM181.4 213.8h6.4v3.2H181.4zM194.1 213.8h9.6v3.2H194.1zM229.2 213.8h3.2v3.2H229.2zM235.5 213.8h3.2v3.2H235.5zM245.1 213.8h3.2v3.2H245.1zM44.3 217.0h12.8v3.2H44.3zM82.5 217.0h3.2v3.2H82.5zM111.2 217.0h12.8v3.2H111.2zM155.9 217.0h3.2v3.2H155.9zM162.2 217.0h9.6v3.2H162.2zM181.4 217.0h6.4v3.2H181.4zM194.1 217.0h9.6v3.2H194.1zM229.2 217.0h3.2v3.2H229.2zM235.5 217.0h12.8v3.2H235.5zM44.3 220.2h12.8v3.3H44.3zM82.5 220.2h3.2v3.3H82.5zM111.2 220.2h16.0v3.3H111.2zM155.9 220.2h3.2v3.3H155.9zM162.2 220.2h9.6v3.3H162.2zM181.4 220.2h6.4v3.3H181.4zM194.1 220.2h9.6v3.3H194.1zM235.5 220.2h12.8v3.3H235.5zM73.0 223.4h6.4v3.3H73.0zM92.1 223.4h16.0v3.3H92.1zM111.2 223.4h16.0v3.3H111.2zM162.2 223.4h6.4v3.3H162.2zM194.1 223.4h6.4v3.3H194.1zM248.3 223.4h3.2v3.3H248.3zM254.7 223.4h3.2v3.3H254.7zM73.0 226.7h6.4v3.4H73.0zM85.7 226.7h3.2v3.4H85.7zM92.1 226.7h16.0v3.4H92.1zM111.2 226.7h9.6v3.4H111.2zM162.2 226.7h6.4v3.4H162.2zM175.0 226.7h12.8v3.4H175.0zM232.4 226.7h9.6v3.4H232.4zM248.3 226.7h9.6v3.4H248.3zM66.6 230.0h3.2v3.5H66.6zM85.7 230.0h6.4v3.5H85.7zM101.7 230.0h6.4v3.5H101.7zM190.9 230.0h6.4v3.5H190.9zM213.2 230.0h3.2v3.5H213.2zM219.6 230.0h22.4v3.5H219.6zM248.3 230.0h22.4v3.5H248.3zM41.1 233.5h6.4v3.6H41.1zM66.6 233.5h3.2v3.6H66.6zM85.7 233.5h6.4v3.6H85.7zM101.7 233.5h3.2v3.6H101.7zM130.4 233.5h3.2v3.6H130.4zM139.9 233.5h3.2v3.6H139.9zM194.1 233.5h3.2v3.6H194.1zM203.7 233.5h9.6v3.6H203.7zM235.5 233.5h6.4v3.6H235.5zM251.5 233.5h3.2v3.6H251.5zM41.1 237.0h6.4v3.7H41.1zM53.9 237.0h6.4v3.7H53.9zM66.6 237.0h3.2v3.7H66.6zM73.0 237.0h9.6v3.7H73.0zM85.7 237.0h6.4v3.7H85.7zM130.4 237.0h3.2v3.7H130.4zM139.9 237.0h3.2v3.7H139.9zM171.8 237.0h9.6v3.7H171.8zM184.5 237.0h3.2v3.7H184.5zM197.3 237.0h3.2v3.7H197.3zM206.9 237.0h6.4v3.7H206.9zM238.7 237.0h3.2v3.7H238.7zM44.3 240.7h6.4v3.9H44.3zM57.0 240.7h6.4v3.9H57.0zM76.2 240.7h6.4v3.9H76.2zM85.7 240.7h16.0v3.9H85.7zM117.6 240.7h6.4v3.9H117.6zM139.9 240.7h3.2v3.9H139.9zM165.4 240.7h9.6v3.9H165.4zM197.3 240.7h6.4v3.9H197.3zM206.9 240.7h6.4v3.9H206.9zM219.6 240.7h6.4v3.9H219.6zM232.4 240.7h9.6v3.9H232.4zM261.0 240.7h3.2v3.9H261.0zM41.1 244.5h3.2v4.1H41.1zM60.2 244.5h12.8v4.1H60.2zM76.2 244.5h16.0v4.1H76.2zM108.0 244.5h9.6v4.1H108.0zM149.5 244.5h9.6v4.1H149.5zM206.9 244.5h6.4v4.1H206.9zM238.7 244.5h3.2v4.1H238.7zM245.1 244.5h6.4v4.1H245.1zM261.0 244.5h9.6v4.1H261.0zM47.5 248.6h9.6v4.3H47.5zM60.2 248.6h12.8v4.3H60.2zM79.3 248.6h9.6v4.3H79.3zM108.0 248.6h12.8v4.3H108.0zM136.7 248.6h3.2v4.3H136.7zM206.9 248.6h6.4v4.3H206.9zM229.2 248.6h25.6v4.3H229.2zM257.9 248.6h12.8v4.3H257.9zM41.1 252.8h35.1v4.6H41.1zM85.7 252.8h3.2v4.6H85.7zM108.0 252.8h6.4v4.6H108.0zM130.4 252.8h3.2v4.6H130.4zM136.7 252.8h3.2v4.6H136.7zM143.1 252.8h3.2v4.6H143.1zM149.5 252.8h16.0v4.6H149.5zM168.6 252.8h22.4v4.6H168.6zM194.1 252.8h6.4v4.6H194.1zM210.0 252.8h3.2v4.6H210.0zM222.8 252.8h9.6v4.6H222.8zM235.5 252.8h35.1v4.6H235.5zM41.1 257.4h3.2v5.0H41.1zM47.5 257.4h38.3v5.0H47.5zM95.3 257.4h3.2v5.0H95.3zM101.7 257.4h3.2v5.0H101.7zM108.0 257.4h16.0v5.0H108.0zM130.4 257.4h9.6v5.0H130.4zM143.1 257.4h22.4v5.0H143.1zM168.6 257.4h22.4v5.0H168.6zM210.0 257.4h6.4v5.0H210.0zM222.8 257.4h9.6v5.0H222.8zM235.5 257.4h35.1v5.0H235.5zM41.1 262.4h3.2v5.5H41.1zM47.5 262.4h38.3v5.5H47.5zM88.9 262.4h9.6v5.5H88.9zM101.7 262.4h3.2v5.5H101.7zM108.0 262.4h16.0v5.5H108.0zM130.4 262.4h3.2v5.5H130.4zM146.3 262.4h9.6v5.5H146.3zM168.6 262.4h28.7v5.5H168.6zM213.2 262.4h12.8v5.5H213.2zM241.9 262.4h25.6v5.5H241.9zM41.1 267.8h3.2v6.1H41.1zM47.5 267.8h38.3v6.1H47.5zM88.9 267.8h9.6v6.1H88.9zM101.7 267.8h3.2v6.1H101.7zM108.0 267.8h16.0v6.1H108.0zM130.4 267.8h3.2v6.1H130.4zM146.3 267.8h16.0v6.1H146.3zM165.4 267.8h12.8v6.1H165.4zM216.4 267.8h9.6v6.1H216.4zM251.5 267.8h16.0v6.1H251.5z"/><path fill="#515f8f" d="M95.3 165.2h6.4v5.0H95.3zM136.7 165.2h22.4v5.0H136.7zM241.9 165.2h9.6v5.0H241.9zM254.7 165.2h6.4v5.0H254.7zM267.4 165.2h3.2v5.0H267.4zM95.3 170.2h6.4v4.6H95.3zM136.7 170.2h22.4v4.6H136.7zM241.9 170.2h3.2v4.6H241.9zM248.3 170.2h3.2v4.6H248.3zM254.7 170.2h6.4v4.6H254.7zM267.4 170.2h3.2v4.6H267.4zM41.1 174.8h3.2v4.3H41.1zM95.3 174.8h6.4v4.3H95.3zM117.6 174.8h3.2v4.3H117.6zM136.7 174.8h6.4v4.3H136.7zM149.5 174.8h9.6v4.3H149.5zM241.9 174.8h3.2v4.3H241.9zM267.4 174.8h3.2v4.3H267.4zM41.1 179.0h3.2v4.1H41.1zM95.3 179.0h6.4v4.1H95.3zM117.6 179.0h9.6v4.1H117.6zM152.7 179.0h3.2v4.1H152.7zM41.1 183.1h3.2v3.9H41.1zM95.3 183.1h6.4v3.9H95.3zM117.6 183.1h9.6v3.9H117.6zM133.5 183.1h6.4v3.9H133.5zM149.5 183.1h6.4v3.9H149.5zM159.0 183.1h6.4v3.9H159.0zM267.4 183.1h3.2v3.9H267.4zM41.1 186.9h3.2v3.7H41.1zM95.3 186.9h6.4v3.7H95.3zM117.6 186.9h6.4v3.7H117.6zM133.5 186.9h9.6v3.7H133.5zM146.3 186.9h9.6v3.7H146.3zM181.4 186.9h3.2v3.7H181.4zM190.9 186.9h16.0v3.7H190.9zM248.3 186.9h3.2v3.7H248.3zM267.4 186.9h3.2v3.7H267.4zM41.1 190.6h3.2v3.6H41.1zM95.3 190.6h6.4v3.6H95.3zM130.4 190.6h12.8v3.6H130.4zM149.5 190.6h3.2v3.6H149.5zM181.4 190.6h3.2v3.6H181.4zM245.1 190.6h9.6v3.6H245.1zM267.4 190.6h3.2v3.6H267.4zM41.1 194.1h3.2v3.5H41.1zM63.4 194.1h6.4v3.5H63.4zM95.3 194.1h6.4v3.5H95.3zM133.5 194.1h6.4v3.5H133.5zM168.6 194.1h12.8v3.5H168.6zM187.7 194.1h3.2v3.5H187.7zM226.0 194.1h3.2v3.5H226.0zM245.1 194.1h6.4v3.5H245.1zM267.4 194.1h3.2v3.5H267.4zM41.1 197.6h3.2v3.4H41.1zM60.2 197.6h9.6v3.4H60.2zM95.3 197.6h6.4v3.4H95.3zM114.4 197.6h3.2v3.4H114.4zM162.2 197.6h16.0v3.4H162.2zM184.5 197.6h6.4v3.4H184.5zM206.9 197.6h12.8v3.4H206.9zM226.0 197.6h3.2v3.4H226.0zM248.3 197.6h3.2v3.4H248.3zM41.1 200.9h3.2v3.3H41.1zM57.0 200.9h22.4v3.3H57.0zM85.7 200.9h6.4v3.3H85.7zM98.5 200.9h3.2v3.3H98.5zM114.4 200.9h3.2v3.3H114.4zM159.0 200.9h3.2v3.3H159.0zM165.4 200.9h3.2v3.3H165.4zM171.8 200.9h3.2v3.3H171.8zM203.7 200.9h6.4v3.3H203.7zM216.4 200.9h12.8v3.3H216.4zM248.3 200.9h3.2v3.3H248.3zM257.9 200.9h12.8v3.3H257.9zM41.1 204.2h3.2v3.3H41.1zM57.0 204.2h9.6v3.3H57.0zM69.8 204.2h9.6v3.3H69.8zM85.7 204.2h6.4v3.3H85.7zM98.5 204.2h9.6v3.3H98.5zM114.4 204.2h3.2v3.3H114.4zM124.0 204.2h3.2v3.3H124.0zM165.4 204.2h3.2v3.3H165.4zM171.8 204.2h3.2v3.3H171.8zM178.2 204.2h3.2v3.3H178.2zM197.3 204.2h3.2v3.3H197.3zM206.9 204.2h3.2v3.3H206.9zM213.2 204.2h6.4v3.3H213.2zM222.8 204.2h3.2v3.3H222.8zM232.4 204.2h3.2v3.3H232.4zM248.3 204.2h3.2v3.3H248.3zM257.9 204.2h12.8v3.3H257.9zM57.0 207.4h9.6v3.2H57.0zM69.8 207.4h9.6v3.2H69.8zM85.7 207.4h6.4v3.2H85.7zM98.5 207.4h9.6v3.2H98.5zM114.4 207.4h3.2v3.2H114.4zM124.0 207.4h3.2v3.2H124.0zM165.4 207.4h3.2v3.2H165.4zM171.8 207.4h3.2v3.2H171.8zM178.2 207.4h3.2v3.2H178.2zM197.3 207.4h3.2v3.2H197.3zM206.9 207.4h3.2v3.2H206.9zM213.2 207.4h6.4v3.2H213.2zM222.8 207.4h3.2v3.2H222.8zM232.4 207.4h3.2v3.2H232.4zM248.3 207.4h3.2v3.2H248.3zM257.9 207.4h12.8v3.2H257.9zM57.0 210.6h9.6v3.2H57.0zM69.8 210.6h9.6v3.2H69.8zM85.7 210.6h6.4v3.2H85.7zM98.5 210.6h9.6v3.2H98.5zM114.4 210.6h3.2v3.2H114.4zM124.0 210.6h3.2v3.2H124.0zM165.4 210.6h3.2v3.2H165.4zM171.8 210.6h3.2v3.2H171.8zM178.2 210.6h3.2v3.2H178.2zM197.3 210.6h3.2v3.2H197.3zM206.9 210.6h3.2v3.2H206.9zM213.2 210.6h6.4v3.2H213.2zM222.8 210.6h3.2v3.2H222.8zM232.4 210.6h3.2v3.2H232.4zM248.3 210.6h3.2v3.2H248.3zM257.9 210.6h6.4v3.2H257.9zM69.8 213.8h3.2v3.2H69.8zM88.9 213.8h3.2v3.2H88.9zM95.3 213.8h3.2v3.2H95.3zM124.0 213.8h3.2v3.2H124.0zM149.5 213.8h3.2v3.2H149.5zM206.9 213.8h3.2v3.2H206.9zM216.4 213.8h9.6v3.2H216.4zM232.4 213.8h3.2v3.2H232.4zM251.5 213.8h3.2v3.2H251.5zM257.9 213.8h6.4v3.2H257.9zM88.9 217.0h3.2v3.2H88.9zM95.3 217.0h3.2v3.2H95.3zM124.0 217.0h3.2v3.2H124.0zM149.5 217.0h3.2v3.2H149.5zM206.9 217.0h3.2v3.2H206.9zM216.4 217.0h12.8v3.2H216.4zM232.4 217.0h3.2v3.2H232.4zM251.5 217.0h3.2v3.2H251.5zM257.9 217.0h6.4v3.2H257.9zM88.9 220.2h3.2v3.3H88.9zM95.3 220.2h3.2v3.3H95.3zM149.5 220.2h3.2v3.3H149.5zM206.9 220.2h3.2v3.3H206.9zM216.4 220.2h19.2v3.3H216.4zM251.5 220.2h3.2v3.3H251.5zM257.9 220.2h6.4v3.3H257.9zM41.1 223.4h16.0v3.3H41.1zM79.3 223.4h12.8v3.3H79.3zM146.3 223.4h6.4v3.3H146.3zM200.5 223.4h9.6v3.3H200.5zM219.6 223.4h16.0v3.3H219.6zM251.5 223.4h3.2v3.3H251.5zM257.9 223.4h12.8v3.3H257.9zM41.1 226.7h3.2v3.4H41.1zM88.9 226.7h3.2v3.4H88.9zM146.3 226.7h6.4v3.4H146.3zM200.5 226.7h6.4v3.4H200.5zM219.6 226.7h12.8v3.4H219.6zM241.9 226.7h6.4v3.4H241.9zM257.9 226.7h12.8v3.4H257.9zM143.1 230.0h3.2v3.5H143.1zM149.5 230.0h3.2v3.5H149.5zM200.5 230.0h3.2v3.5H200.5zM241.9 230.0h6.4v3.5H241.9zM92.1 233.5h3.2v3.6H92.1zM108.0 233.5h3.2v3.6H108.0zM143.1 233.5h3.2v3.6H143.1zM149.5 233.5h3.2v3.6H149.5zM162.2 233.5h3.2v3.6H162.2zM197.3 233.5h6.4v3.6H197.3zM92.1 237.0h3.2v3.7H92.1zM108.0 237.0h9.6v3.7H108.0zM133.5 237.0h3.2v3.7H133.5zM159.0 237.0h6.4v3.7H159.0zM187.7 237.0h3.2v3.7H187.7zM200.5 237.0h6.4v3.7H200.5zM248.3 237.0h9.6v3.7H248.3zM108.0 240.7h9.6v3.9H108.0zM133.5 240.7h6.4v3.9H133.5zM187.7 240.7h6.4v3.9H187.7zM203.7 240.7h3.2v3.9H203.7zM216.4 240.7h3.2v3.9H216.4zM251.5 240.7h6.4v3.9H251.5zM73.0 244.5h3.2v4.1H73.0zM92.1 244.5h16.0v4.1H92.1zM117.6 244.5h6.4v4.1H117.6zM187.7 244.5h6.4v4.1H187.7zM216.4 244.5h9.6v4.1H216.4zM251.5 244.5h9.6v4.1H251.5zM73.0 248.6h6.4v4.3H73.0zM88.9 248.6h19.2v4.3H88.9zM120.8 248.6h16.0v4.3H120.8zM152.7 248.6h6.4v4.3H152.7zM187.7 248.6h9.6v4.3H187.7zM216.4 248.6h9.6v4.3H216.4zM254.7 248.6h3.2v4.3H254.7zM76.2 252.8h9.6v4.6H76.2zM92.1 252.8h16.0v4.6H92.1zM120.8 252.8h9.6v4.6H120.8zM133.5 252.8h3.2v4.6H133.5zM139.9 252.8h3.2v4.6H139.9zM190.9 252.8h3.2v4.6H190.9zM213.2 252.8h9.6v4.6H213.2zM232.4 252.8h3.2v4.6H232.4zM44.3 257.4h3.2v5.0H44.3zM98.5 257.4h3.2v5.0H98.5zM124.0 257.4h6.4v5.0H124.0zM139.9 257.4h3.2v5.0H139.9zM165.4 257.4h3.2v5.0H165.4zM190.9 257.4h3.2v5.0H190.9zM216.4 257.4h6.4v5.0H216.4zM232.4 257.4h3.2v5.0H232.4zM44.3 262.4h3.2v5.5H44.3zM85.7 262.4h3.2v5.5H85.7zM98.5 262.4h3.2v5.5H98.5zM124.0 262.4h6.4v5.5H124.0zM155.9 262.4h12.8v5.5H155.9zM206.9 262.4h6.4v5.5H206.9zM267.4 262.4h3.2v5.5H267.4zM44.3 267.8h3.2v6.1H44.3zM85.7 267.8h3.2v6.1H85.7zM98.5 267.8h3.2v6.1H98.5zM124.0 267.8h6.4v6.1H124.0zM206.9 267.8h3.2v6.1H206.9zM267.4 267.8h3.2v6.1H267.4z"/><path fill="#52a8f5" d="M261.0 170.2h3.2v4.6H261.0zM69.8 174.8h3.2v4.3H69.8zM254.7 174.8h9.6v4.3H254.7zM60.2 179.0h12.8v4.1H60.2zM184.5 179.0h3.2v4.1H184.5zM254.7 179.0h9.6v4.1H254.7zM44.3 183.1h3.2v3.9H44.3zM60.2 183.1h12.8v3.9H60.2zM127.2 183.1h3.2v3.9H127.2zM171.8 183.1h3.2v3.9H171.8zM181.4 183.1h6.4v3.9H181.4zM251.5 183.1h12.8v3.9H251.5zM44.3 186.9h3.2v3.7H44.3zM60.2 186.9h12.8v3.7H60.2zM124.0 186.9h9.6v3.7H124.0zM168.6 186.9h6.4v3.7H168.6zM206.9 186.9h9.6v3.7H206.9zM229.2 186.9h3.2v3.7H229.2zM251.5 186.9h6.4v3.7H251.5zM261.0 186.9h6.4v3.7H261.0zM44.3 190.6h3.2v3.6H44.3zM50.7 190.6h6.4v3.6H50.7zM60.2 190.6h12.8v3.6H60.2zM101.7 190.6h3.2v3.6H101.7zM120.8 190.6h9.6v3.6H120.8zM168.6 190.6h12.8v3.6H168.6zM206.9 190.6h9.6v3.6H206.9zM222.8 190.6h22.4v3.6H222.8zM44.3 194.1h3.2v3.5H44.3zM50.7 194.1h6.4v3.5H50.7zM60.2 194.1h3.2v3.5H60.2zM69.8 194.1h3.2v3.5H69.8zM101.7 194.1h3.2v3.5H101.7zM124.0 194.1h9.6v3.5H124.0zM139.9 194.1h25.5v3.5H139.9zM181.4 194.1h6.4v3.5H181.4zM194.1 194.1h22.4v3.5H194.1zM222.8 194.1h3.2v3.5H222.8zM229.2 194.1h16.0v3.5H229.2zM44.3 197.6h3.2v3.4H44.3zM50.7 197.6h6.4v3.4H50.7zM69.8 197.6h3.2v3.4H69.8zM101.7 197.6h3.2v3.4H101.7zM143.1 197.6h19.2v3.4H143.1zM178.2 197.6h6.4v3.4H178.2zM190.9 197.6h16.0v3.4H190.9zM222.8 197.6h3.2v3.4H222.8zM229.2 197.6h6.4v3.4H229.2zM238.7 197.6h6.4v3.4H238.7zM44.3 200.9h3.2v3.3H44.3zM50.7 200.9h6.4v3.3H50.7zM95.3 200.9h3.2v3.3H95.3zM101.7 200.9h6.4v3.3H101.7zM139.9 200.9h19.2v3.3H139.9zM168.6 200.9h3.2v3.3H168.6zM187.7 200.9h16.0v3.3H187.7zM229.2 200.9h6.4v3.3H229.2zM238.7 200.9h6.4v3.3H238.7zM251.5 200.9h3.2v3.3H251.5zM44.3 204.2h3.2v3.3H44.3zM50.7 204.2h6.4v3.3H50.7zM79.3 204.2h3.2v3.3H79.3zM95.3 204.2h3.2v3.3H95.3zM133.5 204.2h22.4v3.3H133.5zM159.0 204.2h3.2v3.3H159.0zM168.6 204.2h3.2v3.3H168.6zM175.0 204.2h3.2v3.3H175.0zM181.4 204.2h3.2v3.3H181.4zM187.7 204.2h3.2v3.3H187.7zM194.1 204.2h3.2v3.3H194.1zM203.7 204.2h3.2v3.3H203.7zM226.0 204.2h3.2v3.3H226.0zM238.7 204.2h6.4v3.3H238.7zM251.5 204.2h3.2v3.3H251.5zM41.1 207.4h3.2v3.2H41.1zM50.7 207.4h6.4v3.2H50.7zM79.3 207.4h3.2v3.2H79.3zM95.3 207.4h3.2v3.2H95.3zM133.5 207.4h22.4v3.2H133.5zM159.0 207.4h3.2v3.2H159.0zM168.6 207.4h3.2v3.2H168.6zM175.0 207.4h3.2v3.2H175.0zM181.4 207.4h3.2v3.2H181.4zM187.7 207.4h3.2v3.2H187.7zM194.1 207.4h3.2v3.2H194.1zM203.7 207.4h3.2v3.2H203.7zM226.0 207.4h3.2v3.2H226.0zM238.7 207.4h6.4v3.2H238.7zM251.5 207.4h3.2v3.2H251.5zM41.1 210.6h3.2v3.2H41.1zM53.9 210.6h3.2v3.2H53.9zM79.3 210.6h3.2v3.2H79.3zM95.3 210.6h3.2v3.2H95.3zM133.5 210.6h22.4v3.2H133.5zM159.0 210.6h3.2v3.2H159.0zM168.6 210.6h3.2v3.2H168.6zM175.0 210.6h3.2v3.2H175.0zM181.4 210.6h3.2v3.2H181.4zM187.7 210.6h3.2v3.2H187.7zM194.1 210.6h3.2v3.2H194.1zM203.7 210.6h3.2v3.2H203.7zM226.0 210.6h3.2v3.2H226.0zM238.7 210.6h6.4v3.2H238.7zM251.5 210.6h3.2v3.2H251.5zM264.2 210.6h6.4v3.2H264.2zM41.1 213.8h3.2v3.2H41.1zM57.0 213.8h12.8v3.2H57.0zM79.3 213.8h3.2v3.2H79.3zM92.1 213.8h3.2v3.2H92.1zM98.5 213.8h12.8v3.2H98.5zM133.5 213.8h16.0v3.2H133.5zM152.7 213.8h3.2v3.2H152.7zM159.0 213.8h3.2v3.2H159.0zM171.8 213.8h9.6v3.2H171.8zM187.7 213.8h6.4v3.2H187.7zM203.7 213.8h3.2v3.2H203.7zM210.0 213.8h6.4v3.2H210.0zM226.0 213.8h3.2v3.2H226.0zM238.7 213.8h6.4v3.2H238.7zM248.3 213.8h3.2v3.2H248.3zM254.7 213.8h3.2v3.2H254.7zM264.2 213.8h6.4v3.2H264.2zM41.1 217.0h3.2v3.2H41.1zM57.0 217.0h16.0v3.2H57.0zM79.3 217.0h3.2v3.2H79.3zM92.1 217.0h3.2v3.2H92.1zM98.5 217.0h12.8v3.2H98.5zM127.2 217.0h22.4v3.2H127.2zM152.7 217.0h3.2v3.2H152.7zM159.0 217.0h3.2v3.2H159.0zM171.8 217.0h9.6v3.2H171.8zM187.7 217.0h6.4v3.2H187.7zM203.7 217.0h3.2v3.2H203.7zM210.0 217.0h6.4v3.2H210.0zM248.3 217.0h3.2v3.2H248.3zM254.7 217.0h3.2v3.2H254.7zM264.2 217.0h6.4v3.2H264.2zM41.1 220.2h3.2v3.3H41.1zM57.0 220.2h16.0v3.3H57.0zM79.3 220.2h3.2v3.3H79.3zM92.1 220.2h3.2v3.3H92.1zM98.5 220.2h12.8v3.3H98.5zM127.2 220.2h22.4v3.3H127.2zM152.7 220.2h3.2v3.3H152.7zM159.0 220.2h3.2v3.3H159.0zM171.8 220.2h9.6v3.3H171.8zM187.7 220.2h6.4v3.3H187.7zM203.7 220.2h3.2v3.3H203.7zM210.0 220.2h6.4v3.3H210.0zM248.3 220.2h3.2v3.3H248.3zM254.7 220.2h3.2v3.3H254.7zM264.2 220.2h6.4v3.3H264.2zM57.0 223.4h16.0v3.3H57.0zM108.0 223.4h3.2v3.3H108.0zM127.2 223.4h19.2v3.3H127.2zM152.7 223.4h9.6v3.3H152.7zM168.6 223.4h25.5v3.3H168.6zM210.0 223.4h9.6v3.3H210.0zM235.5 223.4h12.8v3.3H235.5zM44.3 226.7h28.7v3.4H44.3zM79.3 226.7h6.4v3.4H79.3zM108.0 226.7h3.2v3.4H108.0zM120.8 226.7h25.6v3.4H120.8zM152.7 226.7h9.6v3.4H152.7zM168.6 226.7h6.4v3.4H168.6zM187.7 226.7h12.8v3.4H187.7zM206.9 226.7h12.8v3.4H206.9zM41.1 230.0h25.5v3.5H41.1zM69.8 230.0h16.0v3.5H69.8zM92.1 230.0h9.6v3.5H92.1zM108.0 230.0h35.1v3.5H108.0zM146.3 230.0h3.2v3.5H146.3zM152.7 230.0h38.3v3.5H152.7zM197.3 230.0h3.2v3.5H197.3zM203.7 230.0h9.6v3.5H203.7zM216.4 230.0h3.2v3.5H216.4zM47.5 233.5h19.2v3.6H47.5zM69.8 233.5h16.0v3.6H69.8zM95.3 233.5h6.4v3.6H95.3zM104.9 233.5h3.2v3.6H104.9zM111.2 233.5h19.2v3.6H111.2zM133.5 233.5h6.4v3.6H133.5zM146.3 233.5h3.2v3.6H146.3zM152.7 233.5h9.6v3.6H152.7zM165.4 233.5h28.7v3.6H165.4zM219.6 233.5h16.0v3.6H219.6zM241.9 233.5h9.6v3.6H241.9zM254.7 233.5h16.0v3.6H254.7zM47.5 237.0h6.4v3.7H47.5zM60.2 237.0h6.4v3.7H60.2zM69.8 237.0h3.2v3.7H69.8zM82.5 237.0h3.2v3.7H82.5zM95.3 237.0h12.8v3.7H95.3zM117.6 237.0h12.8v3.7H117.6zM136.7 237.0h3.2v3.7H136.7zM143.1 237.0h16.0v3.7H143.1zM165.4 237.0h6.4v3.7H165.4zM181.4 237.0h3.2v3.7H181.4zM190.9 237.0h6.4v3.7H190.9zM219.6 237.0h19.2v3.7H219.6zM241.9 237.0h6.4v3.7H241.9zM257.9 237.0h12.8v3.7H257.9zM41.1 240.7h3.2v3.9H41.1zM50.7 240.7h6.4v3.9H50.7zM63.4 240.7h12.8v3.9H63.4zM82.5 240.7h3.2v3.9H82.5zM101.7 240.7h6.4v3.9H101.7zM124.0 240.7h9.6v3.9H124.0zM143.1 240.7h22.4v3.9H143.1zM175.0 240.7h12.8v3.9H175.0zM194.1 240.7h3.2v3.9H194.1zM241.9 240.7h9.6v3.9H241.9zM257.9 240.7h3.2v3.9H257.9zM264.2 240.7h6.4v3.9H264.2zM44.3 244.5h16.0v4.1H44.3zM124.0 244.5h25.6v4.1H124.0zM159.0 244.5h28.7v4.1H159.0zM194.1 244.5h12.8v4.1H194.1zM226.0 244.5h12.8v4.1H226.0zM241.9 244.5h3.2v4.1H241.9zM57.0 248.6h3.2v4.3H57.0zM139.9 248.6h12.8v4.3H139.9zM159.0 248.6h28.7v4.3H159.0zM197.3 248.6h9.6v4.3H197.3zM226.0 248.6h3.2v4.3H226.0zM146.3 252.8h3.2v4.6H146.3zM165.4 252.8h3.2v4.6H165.4zM200.5 252.8h9.6v4.6H200.5zM104.9 257.4h3.2v5.0H104.9zM194.1 257.4h16.0v5.0H194.1zM104.9 262.4h3.2v5.5H104.9zM197.3 262.4h9.6v5.5H197.3zM104.9 267.8h3.2v6.1H104.9z"/><path fill="#cc4b1c" d="M175.0 179.0h3.2v4.1H175.0zM175.0 183.1h3.2v3.9H175.0zM73.0 213.8h6.4v3.2H73.0zM85.7 213.8h3.2v3.2H85.7zM73.0 217.0h6.4v3.2H73.0zM85.7 217.0h3.2v3.2H85.7zM73.0 220.2h6.4v3.3H73.0zM85.7 220.2h3.2v3.3H85.7zM213.2 233.5h6.4v3.6H213.2zM213.2 237.0h6.4v3.7H213.2zM213.2 240.7h3.2v3.9H213.2zM226.0 240.7h6.4v3.9H226.0zM213.2 244.5h3.2v4.1H213.2zM41.1 248.6h6.4v4.3H41.1zM213.2 248.6h3.2v4.3H213.2zM88.9 252.8h3.2v4.6H88.9zM114.4 252.8h6.4v4.6H114.4zM85.7 257.4h9.6v5.0H85.7z"/><path fill="#f5682c" d="M156.5 171.1h1.9v2.7h-1.9zM137.4 187.7h1.9v2.2h-1.9zM131.0 191.3h1.9v2.1h-1.9zM169.2 194.8h1.9v2.1h-1.9zM156.5 198.2h1.9v2.0h-1.9zM175.6 198.2h1.9v2.0h-1.9zM159.7 201.6h1.9v2.0h-1.9zM166.1 201.6h1.9v2.0h-1.9zM172.4 201.6h1.9v2.0h-1.9zM194.7 201.6h1.9v2.0h-1.9zM226.6 201.6h1.9v2.0h-1.9zM86.4 224.1h1.9v2.0h-1.9zM83.2 227.4h1.9v2.0h-1.9zM89.5 227.4h1.9v2.0h-1.9zM146.9 227.4h1.9v2.0h-1.9zM188.4 227.4h1.9v2.0h-1.9zM213.9 227.4h1.9v2.0h-1.9zM204.3 230.7h1.9v2.1h-1.9zM210.7 230.7h1.9v2.1h-1.9zM185.2 234.2h1.9v2.1h-1.9zM182.0 237.7h1.9v2.2h-1.9zM217.1 237.7h1.9v2.2h-1.9zM261.7 237.7h1.9v2.2h-1.9zM127.8 241.5h1.9v2.3h-1.9zM185.2 241.5h1.9v2.3h-1.9zM213.9 241.5h1.9v2.3h-1.9zM258.5 241.5h1.9v2.3h-1.9zM134.2 245.3h1.9v2.4h-1.9zM143.7 245.3h1.9v2.4h-1.9zM172.4 245.3h1.9v2.4h-1.9zM182.0 245.3h1.9v2.4h-1.9zM194.7 245.3h1.9v2.4h-1.9zM127.8 249.4h1.9v2.6h-1.9zM105.5 253.8h1.9v2.7h-1.9zM162.9 263.5h1.9v3.3h-1.9zM201.1 263.5h1.9v3.3h-1.9z"/><path fill="#cc4b1c" d="M159.7 171.1h1.9v2.7h-1.9zM169.2 175.6h1.9v2.6h-1.9zM178.8 175.6h1.9v2.6h-1.9zM185.2 227.4h1.9v2.0h-1.9zM197.9 230.7h1.9v2.1h-1.9zM57.7 234.2h1.9v2.1h-1.9zM188.4 234.2h1.9v2.1h-1.9zM111.9 237.7h1.9v2.2h-1.9zM60.9 241.5h1.9v2.3h-1.9zM67.2 241.5h1.9v2.3h-1.9zM252.1 245.3h1.9v2.4h-1.9zM57.7 258.4h1.9v3.0h-1.9zM150.1 258.4h1.9v3.0h-1.9zM162.9 258.4h1.9v3.0h-1.9zM175.6 258.4h1.9v3.0h-1.9zM182.0 258.4h1.9v3.0h-1.9zM178.8 263.5h1.9v3.3h-1.9z"/><path fill="#515f8f" d="M252.1 175.6h1.9v2.6h-1.9zM255.3 179.8h1.9v2.4h-1.9zM143.7 183.8h1.9v2.3h-1.9zM252.1 183.8h1.9v2.3h-1.9zM229.8 187.7h1.9v2.2h-1.9zM233.0 191.3h1.9v2.1h-1.9zM131.0 194.8h1.9v2.1h-1.9zM146.9 194.8h1.9v2.1h-1.9zM162.9 194.8h1.9v2.1h-1.9zM217.1 194.8h1.9v2.1h-1.9zM159.7 198.2h1.9v2.0h-1.9zM197.9 198.2h1.9v2.0h-1.9zM162.9 201.6h1.9v2.0h-1.9zM175.6 201.6h1.9v2.0h-1.9zM229.8 201.6h1.9v2.0h-1.9zM239.4 201.6h1.9v2.0h-1.9zM169.2 224.1h1.9v2.0h-1.9zM188.4 224.1h1.9v2.0h-1.9zM213.9 224.1h1.9v2.0h-1.9zM73.6 227.4h1.9v2.0h-1.9zM92.7 227.4h1.9v2.0h-1.9zM105.5 227.4h1.9v2.0h-1.9zM162.9 227.4h1.9v2.0h-1.9zM89.5 230.7h1.9v2.1h-1.9zM156.5 230.7h1.9v2.1h-1.9zM175.6 230.7h1.9v2.1h-1.9zM217.1 230.7h1.9v2.1h-1.9zM172.4 234.2h1.9v2.1h-1.9zM264.9 234.2h1.9v2.1h-1.9zM60.9 237.7h1.9v2.2h-1.9zM178.8 237.7h1.9v2.2h-1.9zM175.6 241.5h1.9v2.3h-1.9zM239.4 241.5h1.9v2.3h-1.9zM264.9 241.5h1.9v2.3h-1.9zM54.5 245.3h1.9v2.4h-1.9zM178.8 245.3h1.9v2.4h-1.9zM207.5 245.3h1.9v2.4h-1.9zM143.7 249.4h1.9v2.6h-1.9zM182.0 249.4h1.9v2.6h-1.9zM48.1 253.8h1.9v2.7h-1.9zM108.7 253.8h1.9v2.7h-1.9zM248.9 253.8h1.9v2.7h-1.9zM264.9 253.8h1.9v2.7h-1.9zM210.7 258.4h1.9v3.0h-1.9zM252.1 258.4h1.9v3.0h-1.9zM150.1 269.0h1.9v3.6h-1.9z"/><path fill="#52a8f5" d="M143.7 179.8h1.9v2.4h-1.9zM178.8 179.8h1.9v2.4h-1.9zM162.9 187.7h1.9v2.2h-1.9zM233.0 187.7h1.9v2.2h-1.9zM134.2 194.8h1.9v2.1h-1.9zM166.1 194.8h1.9v2.1h-1.9zM162.9 198.2h1.9v2.0h-1.9zM217.1 198.2h1.9v2.0h-1.9zM220.2 201.6h1.9v2.0h-1.9zM201.1 224.1h1.9v2.0h-1.9zM86.4 227.4h1.9v2.0h-1.9zM201.1 230.7h1.9v2.1h-1.9zM213.9 230.7h1.9v2.1h-1.9zM204.3 234.2h1.9v2.1h-1.9zM210.7 234.2h1.9v2.1h-1.9zM89.5 237.7h1.9v2.2h-1.9zM185.2 237.7h1.9v2.2h-1.9zM201.1 237.7h1.9v2.2h-1.9zM172.4 241.5h1.9v2.3h-1.9zM210.7 241.5h1.9v2.3h-1.9zM261.7 241.5h1.9v2.3h-1.9zM111.9 245.3h1.9v2.4h-1.9zM191.6 245.3h1.9v2.4h-1.9zM245.7 249.4h1.9v2.6h-1.9zM51.3 253.8h1.9v2.7h-1.9zM92.7 253.8h1.9v2.7h-1.9zM99.1 253.8h1.9v2.7h-1.9zM242.6 253.8h1.9v2.7h-1.9zM54.5 258.4h1.9v3.0h-1.9zM156.5 258.4h1.9v3.0h-1.9zM217.1 258.4h1.9v3.0h-1.9zM210.7 263.5h1.9v3.3h-1.9zM258.5 263.5h1.9v3.3h-1.9zM245.7 269.0h1.9v3.6h-1.9z"/>
<use href="#nodata" transform="translate(0.00,153.15)"/>
<rect x="41.1" y="207.42" width="229.50000000000003" height="12.76" fill="#e3e3e3"/>
<use href="#land" transform="translate(0.00,153.15)"/>
</g>
<rect x="41.1" y="165.20000000000002" width="229.50000000000003" height="108.65" fill="none" stroke="#000" stroke-width="1.3"/>
<path d="M41.10,165.20000000000002v-2.2M41.10,273.85v2.2M79.35,165.20000000000002v-2.2M79.35,273.85v2.2M117.60,165.20000000000002v-2.2M117.60,273.85v2.2M155.85,165.20000000000002v-2.2M155.85,273.85v2.2M194.10,165.20000000000002v-2.2M194.10,273.85v2.2M232.35,165.20000000000002v-2.2M232.35,273.85v2.2M270.60,165.20000000000002v-2.2M270.60,273.85v2.2M41.1,170.18h-2.2M270.6,170.18h2.2M41.1,194.13h-2.2M270.6,194.13h2.2M41.1,213.80h-2.2M270.6,213.80h2.2M41.1,233.47h-2.2M270.6,233.47h2.2M41.1,257.42h-2.2M270.6,257.42h2.2" stroke="#000" stroke-width="1.1" fill="none"/>
<text transform="translate(35.60,173.68) scale(0.9346,1)" font-size="10.06" text-anchor="end">60°N</text>
<text transform="translate(35.60,197.63) scale(0.9346,1)" font-size="10.06" text-anchor="end">30°N</text>
<text transform="translate(33.30,217.30) scale(0.9346,1)" font-size="10.06" text-anchor="end">0°</text>
<text transform="translate(35.60,236.97) scale(0.9346,1)" font-size="10.06" text-anchor="end">30°S</text>
<text transform="translate(35.60,260.92) scale(0.9346,1)" font-size="10.06" text-anchor="end">60°S</text>
<text transform="translate(41.80,286.15) scale(0.9346,1)" font-size="10.06" text-anchor="middle">0°</text>
<text transform="translate(79.35,286.15) scale(0.9346,1)" font-size="10.06" text-anchor="middle">60°E</text>
<text transform="translate(117.60,286.15) scale(0.9346,1)" font-size="10.06" text-anchor="middle">120°E</text>
<text transform="translate(156.55,286.15) scale(0.9346,1)" font-size="10.06" text-anchor="middle">180°</text>
<text transform="translate(194.10,286.15) scale(0.9346,1)" font-size="10.06" text-anchor="middle">120°W</text>
<text transform="translate(232.35,286.15) scale(0.9346,1)" font-size="10.06" text-anchor="middle">60°W</text>
<text transform="translate(271.30,286.15) scale(0.9346,1)" font-size="10.06" text-anchor="middle">0°</text>
<text transform="translate(156.25,301.35) scale(0.9346,1)" font-size="10.06" text-anchor="middle">Longitude</text>
<text x="0" y="0" text-anchor="middle" transform="translate(7.50,218.43) rotate(-90) scale(0.9346,1)" font-size="10.06">Latitude</text>
<text transform="translate(155.85,162.80) scale(0.9346,1)" font-size="10.22" text-anchor="middle">Second dominant sources in winter</text>
<text x="31.50" y="162.10" font-size="13.4" font-weight="bold">b</text>
<clipPath id="cf"><rect x="382.6" y="165.20000000000002" width="229.60000000000002" height="108.65"/></clipPath>
<g clip-path="url(#cf)">
<rect x="382.6" y="165.20000000000002" width="229.60000000000002" height="108.65" fill="#fff"/>
<path fill="#dfbb8a" d="M382.6 165.2h3.2v5.0H382.6zM427.2 165.2h19.2v5.0H427.2zM475.0 165.2h3.2v5.0H475.0zM481.4 165.2h19.2v5.0H481.4zM510.1 165.2h3.2v5.0H510.1zM522.9 165.2h12.8v5.0H522.9zM589.8 165.2h9.6v5.0H589.8zM608.9 165.2h3.2v5.0H608.9zM382.6 170.2h3.2v4.6H382.6zM427.2 170.2h19.2v4.6H427.2zM475.0 170.2h3.2v4.6H475.0zM487.8 170.2h12.8v4.6H487.8zM510.1 170.2h3.2v4.6H510.1zM522.9 170.2h16.0v4.6H522.9zM577.0 170.2h6.4v4.6H577.0zM589.8 170.2h9.6v4.6H589.8zM608.9 170.2h3.2v4.6H608.9zM382.6 174.8h3.2v4.3H382.6zM417.7 174.8h3.2v4.3H417.7zM427.2 174.8h19.2v4.3H427.2zM478.2 174.8h6.4v4.3H478.2zM487.8 174.8h9.6v4.3H487.8zM564.3 174.8h35.1v4.3H564.3zM602.5 174.8h3.2v4.3H602.5zM608.9 174.8h3.2v4.3H608.9zM382.6 179.0h3.2v4.1H382.6zM389.0 179.0h3.2v4.1H389.0zM398.5 179.0h12.8v4.1H398.5zM417.7 179.0h3.2v4.1H417.7zM427.2 179.0h19.2v4.1H427.2zM478.2 179.0h6.4v4.1H478.2zM491.0 179.0h9.6v4.1H491.0zM561.1 179.0h22.4v4.1H561.1zM586.6 179.0h6.4v4.1H586.6zM596.2 179.0h16.0v4.1H596.2zM389.0 183.1h22.4v3.9H389.0zM417.7 183.1h3.2v3.9H417.7zM427.2 183.1h19.2v3.9H427.2zM462.3 183.1h9.6v3.9H462.3zM478.2 183.1h6.4v3.9H478.2zM487.8 183.1h12.8v3.9H487.8zM529.2 183.1h16.0v3.9H529.2zM557.9 183.1h9.6v3.9H557.9zM577.0 183.1h6.4v3.9H577.0zM589.8 183.1h3.2v3.9H589.8zM596.2 183.1h12.8v3.9H596.2zM389.0 186.9h22.4v3.7H389.0zM417.7 186.9h3.2v3.7H417.7zM427.2 186.9h19.2v3.7H427.2zM462.3 186.9h19.2v3.7H462.3zM484.6 186.9h16.0v3.7H484.6zM519.7 186.9h3.2v3.7H519.7zM532.4 186.9h41.5v3.7H532.4zM580.2 186.9h6.4v3.7H580.2zM596.2 186.9h9.6v3.7H596.2zM389.0 190.6h3.2v3.6H389.0zM395.4 190.6h6.4v3.6H395.4zM417.7 190.6h3.2v3.6H417.7zM427.2 190.6h19.2v3.6H427.2zM462.3 190.6h19.2v3.6H462.3zM484.6 190.6h22.4v3.6H484.6zM516.5 190.6h6.4v3.6H516.5zM532.4 190.6h25.6v3.6H532.4zM570.7 190.6h3.2v3.6H570.7zM583.4 190.6h6.4v3.6H583.4zM596.2 190.6h9.6v3.6H596.2zM389.0 194.1h3.2v3.5H389.0zM395.4 194.1h6.4v3.5H395.4zM404.9 194.1h6.4v3.5H404.9zM417.7 194.1h3.2v3.5H417.7zM427.2 194.1h19.2v3.5H427.2zM452.7 194.1h70.2v3.5H452.7zM526.0 194.1h31.9v3.5H526.0zM561.1 194.1h19.2v3.5H561.1zM583.4 194.1h6.4v3.5H583.4zM596.2 194.1h9.6v3.5H596.2zM389.0 197.6h3.2v3.4H389.0zM395.4 197.6h16.0v3.4H395.4zM417.7 197.6h3.2v3.4H417.7zM427.2 197.6h19.2v3.4H427.2zM452.7 197.6h19.2v3.4H452.7zM481.4 197.6h38.3v3.4H481.4zM522.9 197.6h38.3v3.4H522.9zM564.3 197.6h28.7v3.4H564.3zM596.2 197.6h16.0v3.4H596.2zM389.0 200.9h3.2v3.3H389.0zM395.4 200.9h12.8v3.3H395.4zM414.5 200.9h6.4v3.3H414.5zM424.0 200.9h25.6v3.3H424.0zM455.9 200.9h16.0v3.3H455.9zM478.2 200.9h41.5v3.3H478.2zM522.9 200.9h89.3v3.3H522.9zM382.6 204.2h3.2v3.3H382.6zM389.0 204.2h3.2v3.3H389.0zM395.4 204.2h12.8v3.3H395.4zM411.3 204.2h38.3v3.3H411.3zM455.9 204.2h44.7v3.3H455.9zM503.7 204.2h3.2v3.3H503.7zM510.1 204.2h102.0v3.3H510.1zM382.6 207.4h3.2v3.2H382.6zM389.0 207.4h3.2v3.2H389.0zM395.4 207.4h12.8v3.2H395.4zM411.3 207.4h38.3v3.2H411.3zM455.9 207.4h44.7v3.2H455.9zM503.7 207.4h3.2v3.2H503.7zM510.1 207.4h102.0v3.2H510.1zM382.6 210.6h3.2v3.2H382.6zM395.4 210.6h12.8v3.2H395.4zM411.3 210.6h38.3v3.2H411.3zM455.9 210.6h44.7v3.2H455.9zM503.7 210.6h3.2v3.2H503.7zM510.1 210.6h102.0v3.2H510.1zM382.6 213.8h3.2v3.2H382.6zM411.3 213.8h3.2v3.2H411.3zM420.9 213.8h3.2v3.2H420.9zM430.4 213.8h6.4v3.2H430.4zM440.0 213.8h12.8v3.2H440.0zM459.1 213.8h6.4v3.2H459.1zM468.7 213.8h3.2v3.2H468.7zM475.0 213.8h6.4v3.2H475.0zM487.8 213.8h12.8v3.2H487.8zM503.7 213.8h3.2v3.2H503.7zM510.1 213.8h9.6v3.2H510.1zM522.9 213.8h25.6v3.2H522.9zM551.5 213.8h51.0v3.2H551.5zM605.7 213.8h6.4v3.2H605.7zM382.6 217.0h3.2v3.2H382.6zM420.9 217.0h3.2v3.2H420.9zM430.4 217.0h6.4v3.2H430.4zM440.0 217.0h12.8v3.2H440.0zM475.0 217.0h6.4v3.2H475.0zM487.8 217.0h12.8v3.2H487.8zM503.7 217.0h3.2v3.2H503.7zM510.1 217.0h9.6v3.2H510.1zM522.9 217.0h25.6v3.2H522.9zM551.5 217.0h51.0v3.2H551.5zM605.7 217.0h6.4v3.2H605.7zM382.6 220.2h3.2v3.3H382.6zM420.9 220.2h3.2v3.3H420.9zM430.4 220.2h6.4v3.3H430.4zM440.0 220.2h12.8v3.3H440.0zM475.0 220.2h6.4v3.3H475.0zM487.8 220.2h12.8v3.3H487.8zM503.7 220.2h3.2v3.3H503.7zM510.1 220.2h9.6v3.3H510.1zM522.9 220.2h25.6v3.3H522.9zM551.5 220.2h51.0v3.3H551.5zM605.7 220.2h6.4v3.3H605.7zM382.6 223.4h16.0v3.3H382.6zM430.4 223.4h9.6v3.3H430.4zM443.2 223.4h9.6v3.3H443.2zM475.0 223.4h16.0v3.3H475.0zM494.2 223.4h67.0v3.3H494.2zM577.0 223.4h35.1v3.3H577.0zM382.6 226.7h35.1v3.4H382.6zM420.9 226.7h19.2v3.4H420.9zM443.2 226.7h9.6v3.4H443.2zM475.0 226.7h12.8v3.4H475.0zM494.2 226.7h3.2v3.4H494.2zM503.7 226.7h19.2v3.4H503.7zM529.2 226.7h6.4v3.4H529.2zM545.2 226.7h16.0v3.4H545.2zM583.4 226.7h12.8v3.4H583.4zM602.5 226.7h9.6v3.4H602.5zM382.6 230.0h28.7v3.5H382.6zM414.5 230.0h28.7v3.5H414.5zM465.5 230.0h3.2v3.5H465.5zM471.9 230.0h31.9v3.5H471.9zM513.3 230.0h22.4v3.5H513.3zM545.2 230.0h16.0v3.5H545.2zM583.4 230.0h6.4v3.5H583.4zM593.0 230.0h19.2v3.5H593.0zM382.6 233.5h3.2v3.6H382.6zM389.0 233.5h9.6v3.6H389.0zM404.9 233.5h3.2v3.6H404.9zM417.7 233.5h16.0v3.6H417.7zM443.2 233.5h3.2v3.6H443.2zM452.7 233.5h6.4v3.6H452.7zM465.5 233.5h3.2v3.6H465.5zM481.4 233.5h12.8v3.6H481.4zM500.5 233.5h6.4v3.6H500.5zM510.1 233.5h9.6v3.6H510.1zM522.9 233.5h22.4v3.6H522.9zM548.4 233.5h3.2v3.6H548.4zM557.9 233.5h3.2v3.6H557.9zM593.0 233.5h3.2v3.6H593.0zM605.7 233.5h6.4v3.6H605.7zM392.2 237.0h3.2v3.7H392.2zM417.7 237.0h16.0v3.7H417.7zM440.0 237.0h6.4v3.7H440.0zM452.7 237.0h3.2v3.7H452.7zM465.5 237.0h3.2v3.7H465.5zM481.4 237.0h3.2v3.7H481.4zM494.2 237.0h6.4v3.7H494.2zM516.5 237.0h3.2v3.7H516.5zM532.4 237.0h3.2v3.7H532.4zM542.0 237.0h3.2v3.7H542.0zM589.8 237.0h6.4v3.7H589.8zM605.7 237.0h3.2v3.7H605.7zM385.8 240.7h6.4v3.9H385.8zM401.7 240.7h6.4v3.9H401.7zM420.9 240.7h9.6v3.9H420.9zM446.4 240.7h3.2v3.9H446.4zM452.7 240.7h3.2v3.9H452.7zM459.1 240.7h9.6v3.9H459.1zM478.2 240.7h3.2v3.9H478.2zM494.2 240.7h6.4v3.9H494.2zM516.5 240.7h3.2v3.9H516.5zM529.2 240.7h3.2v3.9H529.2zM542.0 240.7h3.2v3.9H542.0zM561.1 240.7h6.4v3.9H561.1zM573.9 240.7h6.4v3.9H573.9zM589.8 240.7h19.2v3.9H589.8zM401.7 244.5h6.4v4.1H401.7zM424.0 244.5h12.8v4.1H424.0zM443.2 244.5h12.8v4.1H443.2zM459.1 244.5h3.2v4.1H459.1zM468.7 244.5h6.4v4.1H468.7zM478.2 244.5h6.4v4.1H478.2zM494.2 244.5h3.2v4.1H494.2zM503.7 244.5h6.4v4.1H503.7zM516.5 244.5h6.4v4.1H516.5zM526.0 244.5h6.4v4.1H526.0zM561.1 244.5h6.4v4.1H561.1zM577.0 244.5h6.4v4.1H577.0zM586.6 244.5h19.2v4.1H586.6zM382.6 248.6h3.2v4.3H382.6zM389.0 248.6h6.4v4.3H389.0zM408.1 248.6h6.4v4.3H408.1zM430.4 248.6h9.6v4.3H430.4zM446.4 248.6h22.4v4.3H446.4zM475.0 248.6h22.4v4.3H475.0zM510.1 248.6h12.8v4.3H510.1zM526.0 248.6h3.2v4.3H526.0zM561.1 248.6h6.4v4.3H561.1zM580.2 248.6h3.2v4.3H580.2zM586.6 248.6h3.2v4.3H586.6zM605.7 248.6h6.4v4.3H605.7zM408.1 252.8h6.4v4.6H408.1zM430.4 252.8h19.2v4.6H430.4zM459.1 252.8h12.8v4.6H459.1zM475.0 252.8h9.6v4.6H475.0zM491.0 252.8h6.4v4.6H491.0zM557.9 252.8h9.6v4.6H557.9zM586.6 252.8h3.2v4.6H586.6zM382.6 257.4h6.4v5.0H382.6zM408.1 257.4h3.2v5.0H408.1zM427.2 257.4h12.8v5.0H427.2zM465.5 257.4h3.2v5.0H465.5zM497.4 257.4h3.2v5.0H497.4zM548.4 257.4h9.6v5.0H548.4zM564.3 257.4h6.4v5.0H564.3zM608.9 257.4h3.2v5.0H608.9zM382.6 262.4h6.4v5.5H382.6zM430.4 262.4h9.6v5.5H430.4zM465.5 262.4h3.2v5.5H465.5zM497.4 262.4h9.6v5.5H497.4zM564.3 262.4h3.2v5.5H564.3zM608.9 262.4h3.2v5.5H608.9zM382.6 267.8h6.4v6.1H382.6zM430.4 267.8h9.6v6.1H430.4zM465.5 267.8h3.2v6.1H465.5zM564.3 267.8h3.2v6.1H564.3zM608.9 267.8h3.2v6.1H608.9z"/><path fill="#c832c8" d="M392.2 165.2h3.2v5.0H392.2zM424.0 165.2h3.2v5.0H424.0zM478.2 165.2h3.2v5.0H478.2zM513.3 165.2h9.6v5.0H513.3zM573.9 165.2h16.0v5.0H573.9zM599.4 165.2h9.6v5.0H599.4zM392.2 170.2h3.2v4.6H392.2zM420.9 170.2h6.4v4.6H420.9zM478.2 170.2h9.6v4.6H478.2zM500.5 170.2h9.6v4.6H500.5zM513.3 170.2h9.6v4.6H513.3zM573.9 170.2h3.2v4.6H573.9zM583.4 170.2h6.4v4.6H583.4zM599.4 170.2h9.6v4.6H599.4zM392.2 174.8h3.2v4.3H392.2zM411.3 174.8h6.4v4.3H411.3zM420.9 174.8h6.4v4.3H420.9zM446.4 174.8h31.9v4.3H446.4zM484.6 174.8h3.2v4.3H484.6zM497.4 174.8h44.7v4.3H497.4zM599.4 174.8h3.2v4.3H599.4zM392.2 179.0h3.2v4.1H392.2zM411.3 179.0h6.4v4.1H411.3zM420.9 179.0h6.4v4.1H420.9zM446.4 179.0h31.9v4.1H446.4zM484.6 179.0h6.4v4.1H484.6zM500.5 179.0h44.7v4.1H500.5zM583.4 179.0h3.2v4.1H583.4zM593.0 179.0h3.2v4.1H593.0zM382.6 183.1h6.4v3.9H382.6zM411.3 183.1h6.4v3.9H411.3zM420.9 183.1h6.4v3.9H420.9zM446.4 183.1h16.0v3.9H446.4zM471.9 183.1h6.4v3.9H471.9zM484.6 183.1h3.2v3.9H484.6zM500.5 183.1h28.7v3.9H500.5zM567.5 183.1h9.6v3.9H567.5zM583.4 183.1h6.4v3.9H583.4zM593.0 183.1h3.2v3.9H593.0zM608.9 183.1h3.2v3.9H608.9zM382.6 186.9h6.4v3.7H382.6zM411.3 186.9h6.4v3.7H411.3zM420.9 186.9h6.4v3.7H420.9zM446.4 186.9h16.0v3.7H446.4zM481.4 186.9h3.2v3.7H481.4zM500.5 186.9h19.2v3.7H500.5zM522.9 186.9h9.6v3.7H522.9zM573.9 186.9h6.4v3.7H573.9zM586.6 186.9h9.6v3.7H586.6zM605.7 186.9h6.4v3.7H605.7zM382.6 190.6h6.4v3.6H382.6zM392.2 190.6h3.2v3.6H392.2zM401.7 190.6h16.0v3.6H401.7zM420.9 190.6h6.4v3.6H420.9zM446.4 190.6h16.0v3.6H446.4zM481.4 190.6h3.2v3.6H481.4zM506.9 190.6h9.6v3.6H506.9zM522.9 190.6h9.6v3.6H522.9zM557.9 190.6h12.8v3.6H557.9zM573.9 190.6h9.6v3.6H573.9zM589.8 190.6h6.4v3.6H589.8zM605.7 190.6h6.4v3.6H605.7zM382.6 194.1h6.4v3.5H382.6zM392.2 194.1h3.2v3.5H392.2zM401.7 194.1h3.2v3.5H401.7zM411.3 194.1h6.4v3.5H411.3zM420.9 194.1h6.4v3.5H420.9zM446.4 194.1h6.4v3.5H446.4zM522.9 194.1h3.2v3.5H522.9zM557.9 194.1h3.2v3.5H557.9zM580.2 194.1h3.2v3.5H580.2zM589.8 194.1h6.4v3.5H589.8zM605.7 194.1h6.4v3.5H605.7zM382.6 197.6h6.4v3.4H382.6zM392.2 197.6h3.2v3.4H392.2zM411.3 197.6h3.2v3.4H411.3zM420.9 197.6h6.4v3.4H420.9zM446.4 197.6h6.4v3.4H446.4zM471.9 197.6h9.6v3.4H471.9zM519.7 197.6h3.2v3.4H519.7zM593.0 197.6h3.2v3.4H593.0zM382.6 200.9h6.4v3.3H382.6zM392.2 200.9h3.2v3.3H392.2zM408.1 200.9h6.4v3.3H408.1zM420.9 200.9h3.2v3.3H420.9zM449.5 200.9h6.4v3.3H449.5zM471.9 200.9h6.4v3.3H471.9zM519.7 200.9h3.2v3.3H519.7zM385.8 204.2h3.2v3.3H385.8zM392.2 204.2h3.2v3.3H392.2zM449.5 204.2h6.4v3.3H449.5zM500.5 204.2h3.2v3.3H500.5zM506.9 204.2h3.2v3.3H506.9zM385.8 207.4h3.2v3.2H385.8zM392.2 207.4h3.2v3.2H392.2zM449.5 207.4h6.4v3.2H449.5zM500.5 207.4h3.2v3.2H500.5zM506.9 207.4h3.2v3.2H506.9zM385.8 210.6h9.6v3.2H385.8zM449.5 210.6h6.4v3.2H449.5zM500.5 210.6h3.2v3.2H500.5zM506.9 210.6h3.2v3.2H506.9zM385.8 213.8h25.6v3.2H385.8zM414.5 213.8h6.4v3.2H414.5zM424.0 213.8h6.4v3.2H424.0zM436.8 213.8h3.2v3.2H436.8zM452.7 213.8h6.4v3.2H452.7zM465.5 213.8h3.2v3.2H465.5zM471.9 213.8h3.2v3.2H471.9zM481.4 213.8h6.4v3.2H481.4zM500.5 213.8h3.2v3.2H500.5zM506.9 213.8h3.2v3.2H506.9zM519.7 213.8h3.2v3.2H519.7zM548.4 213.8h3.2v3.2H548.4zM602.5 213.8h3.2v3.2H602.5zM385.8 217.0h35.1v3.2H385.8zM424.0 217.0h6.4v3.2H424.0zM436.8 217.0h3.2v3.2H436.8zM452.7 217.0h22.4v3.2H452.7zM481.4 217.0h6.4v3.2H481.4zM500.5 217.0h3.2v3.2H500.5zM506.9 217.0h3.2v3.2H506.9zM519.7 217.0h3.2v3.2H519.7zM548.4 217.0h3.2v3.2H548.4zM602.5 217.0h3.2v3.2H602.5zM385.8 220.2h35.1v3.3H385.8zM424.0 220.2h6.4v3.3H424.0zM436.8 220.2h3.2v3.3H436.8zM452.7 220.2h22.4v3.3H452.7zM481.4 220.2h6.4v3.3H481.4zM500.5 220.2h3.2v3.3H500.5zM506.9 220.2h3.2v3.3H506.9zM519.7 220.2h3.2v3.3H519.7zM548.4 220.2h3.2v3.3H548.4zM602.5 220.2h3.2v3.3H602.5zM398.5 223.4h31.9v3.3H398.5zM440.0 223.4h3.2v3.3H440.0zM452.7 223.4h22.4v3.3H452.7zM491.0 223.4h3.2v3.3H491.0zM561.1 223.4h16.0v3.3H561.1zM417.7 226.7h3.2v3.4H417.7zM440.0 226.7h3.2v3.4H440.0zM452.7 226.7h22.4v3.4H452.7zM487.8 226.7h6.4v3.4H487.8zM497.4 226.7h6.4v3.4H497.4zM522.9 226.7h6.4v3.4H522.9zM535.6 226.7h9.6v3.4H535.6zM561.1 226.7h22.4v3.4H561.1zM596.2 226.7h6.4v3.4H596.2zM411.3 230.0h3.2v3.5H411.3zM443.2 230.0h22.4v3.5H443.2zM468.7 230.0h3.2v3.5H468.7zM503.7 230.0h9.6v3.5H503.7zM535.6 230.0h9.6v3.5H535.6zM561.1 230.0h22.4v3.5H561.1zM589.8 230.0h3.2v3.5H589.8zM385.8 233.5h3.2v3.6H385.8zM398.5 233.5h6.4v3.6H398.5zM408.1 233.5h9.6v3.6H408.1zM433.6 233.5h9.6v3.6H433.6zM446.4 233.5h6.4v3.6H446.4zM459.1 233.5h6.4v3.6H459.1zM468.7 233.5h12.8v3.6H468.7zM494.2 233.5h6.4v3.6H494.2zM506.9 233.5h3.2v3.6H506.9zM519.7 233.5h3.2v3.6H519.7zM545.2 233.5h3.2v3.6H545.2zM551.5 233.5h6.4v3.6H551.5zM561.1 233.5h31.9v3.6H561.1zM596.2 233.5h9.6v3.6H596.2zM382.6 237.0h9.6v3.7H382.6zM395.4 237.0h22.4v3.7H395.4zM433.6 237.0h6.4v3.7H433.6zM446.4 237.0h6.4v3.7H446.4zM455.9 237.0h9.6v3.7H455.9zM468.7 237.0h12.8v3.7H468.7zM484.6 237.0h9.6v3.7H484.6zM500.5 237.0h16.0v3.7H500.5zM519.7 237.0h12.8v3.7H519.7zM535.6 237.0h6.4v3.7H535.6zM545.2 237.0h44.7v3.7H545.2zM596.2 237.0h9.6v3.7H596.2zM608.9 237.0h3.2v3.7H608.9zM382.6 240.7h3.2v3.9H382.6zM392.2 240.7h9.6v3.9H392.2zM408.1 240.7h12.8v3.9H408.1zM430.4 240.7h16.0v3.9H430.4zM449.5 240.7h3.2v3.9H449.5zM455.9 240.7h3.2v3.9H455.9zM468.7 240.7h9.6v3.9H468.7zM481.4 240.7h12.8v3.9H481.4zM500.5 240.7h16.0v3.9H500.5zM519.7 240.7h9.6v3.9H519.7zM532.4 240.7h9.6v3.9H532.4zM545.2 240.7h16.0v3.9H545.2zM567.5 240.7h6.4v3.9H567.5zM580.2 240.7h9.6v3.9H580.2zM608.9 240.7h3.2v3.9H608.9zM382.6 244.5h19.2v4.1H382.6zM408.1 244.5h16.0v4.1H408.1zM436.8 244.5h6.4v4.1H436.8zM455.9 244.5h3.2v4.1H455.9zM462.3 244.5h6.4v4.1H462.3zM475.0 244.5h3.2v4.1H475.0zM484.6 244.5h9.6v4.1H484.6zM497.4 244.5h6.4v4.1H497.4zM510.1 244.5h6.4v4.1H510.1zM522.9 244.5h3.2v4.1H522.9zM532.4 244.5h28.7v4.1H532.4zM567.5 244.5h9.6v4.1H567.5zM583.4 244.5h3.2v4.1H583.4zM605.7 244.5h6.4v4.1H605.7zM385.8 248.6h3.2v4.3H385.8zM395.4 248.6h12.8v4.3H395.4zM414.5 248.6h16.0v4.3H414.5zM440.0 248.6h6.4v4.3H440.0zM468.7 248.6h6.4v4.3H468.7zM497.4 248.6h12.8v4.3H497.4zM522.9 248.6h3.2v4.3H522.9zM529.2 248.6h31.9v4.3H529.2zM567.5 248.6h12.8v4.3H567.5zM583.4 248.6h3.2v4.3H583.4zM589.8 248.6h16.0v4.3H589.8zM382.6 252.8h25.6v4.6H382.6zM414.5 252.8h16.0v4.6H414.5zM449.5 252.8h9.6v4.6H449.5zM471.9 252.8h3.2v4.6H471.9zM484.6 252.8h6.4v4.6H484.6zM497.4 252.8h60.6v4.6H497.4zM567.5 252.8h19.2v4.6H567.5zM589.8 252.8h22.4v4.6H589.8zM389.0 257.4h19.2v5.0H389.0zM411.3 257.4h16.0v5.0H411.3zM440.0 257.4h25.6v5.0H440.0zM468.7 257.4h28.7v5.0H468.7zM500.5 257.4h47.9v5.0H500.5zM557.9 257.4h6.4v5.0H557.9zM573.9 257.4h35.1v5.0H573.9zM389.0 262.4h41.5v5.5H389.0zM440.0 262.4h25.6v5.5H440.0zM468.7 262.4h6.4v5.5H468.7zM487.8 262.4h9.6v5.5H487.8zM506.9 262.4h57.4v5.5H506.9zM583.4 262.4h25.6v5.5H583.4zM389.0 267.8h41.5v6.1H389.0zM440.0 267.8h25.6v6.1H440.0zM468.7 267.8h6.4v6.1H468.7zM487.8 267.8h16.0v6.1H487.8zM506.9 267.8h12.8v6.1H506.9zM526.0 267.8h3.2v6.1H526.0zM548.4 267.8h3.2v6.1H548.4zM554.7 267.8h3.2v6.1H554.7zM561.1 267.8h3.2v6.1H561.1zM589.8 267.8h19.2v6.1H589.8z"/><path fill="#c832c8" d="M491.6 166.2h1.9v3.0h-1.9zM383.2 171.1h1.9v2.7h-1.9zM577.7 175.6h1.9v2.6h-1.9zM596.8 175.6h1.9v2.6h-1.9zM603.2 175.6h1.9v2.6h-1.9zM600.0 179.8h1.9v2.4h-1.9zM491.6 183.8h1.9v2.3h-1.9zM466.1 187.7h1.9v2.2h-1.9zM596.8 187.7h1.9v2.2h-1.9zM498.0 191.3h1.9v2.1h-1.9zM571.3 194.8h1.9v2.1h-1.9zM459.7 198.2h1.9v2.0h-1.9zM485.2 198.2h1.9v2.0h-1.9zM526.7 201.6h1.9v2.0h-1.9zM383.2 227.4h1.9v2.0h-1.9zM424.7 227.4h1.9v2.0h-1.9zM485.2 230.7h1.9v2.1h-1.9zM606.4 230.7h1.9v2.1h-1.9zM424.7 237.7h1.9v2.2h-1.9zM498.0 241.5h1.9v2.3h-1.9zM593.6 241.5h1.9v2.3h-1.9zM606.4 241.5h1.9v2.3h-1.9zM494.8 245.3h1.9v2.4h-1.9zM603.2 245.3h1.9v2.4h-1.9zM482.1 249.4h1.9v2.6h-1.9zM491.6 249.4h1.9v2.6h-1.9zM517.1 249.4h1.9v2.6h-1.9zM606.4 249.4h1.9v2.6h-1.9zM434.2 258.4h1.9v3.0h-1.9zM504.4 263.5h1.9v3.3h-1.9z"/><path fill="#dfbb8a" d="M504.4 171.1h1.9v2.7h-1.9zM603.2 171.1h1.9v2.7h-1.9zM600.0 175.6h1.9v2.6h-1.9zM510.7 179.8h1.9v2.4h-1.9zM507.6 183.8h1.9v2.3h-1.9zM513.9 183.8h1.9v2.3h-1.9zM523.5 183.8h1.9v2.3h-1.9zM593.6 187.7h1.9v2.2h-1.9zM424.7 224.1h1.9v2.0h-1.9zM411.9 237.7h1.9v2.2h-1.9zM507.6 237.7h1.9v2.2h-1.9zM396.0 241.5h1.9v2.3h-1.9zM501.2 241.5h1.9v2.3h-1.9zM555.4 241.5h1.9v2.3h-1.9zM584.1 241.5h1.9v2.3h-1.9zM609.6 241.5h1.9v2.3h-1.9zM415.1 245.3h1.9v2.4h-1.9zM491.6 245.3h1.9v2.4h-1.9zM498.0 245.3h1.9v2.4h-1.9zM536.2 245.3h1.9v2.4h-1.9zM549.0 245.3h1.9v2.4h-1.9zM606.4 245.3h1.9v2.4h-1.9zM539.4 249.4h1.9v2.6h-1.9zM555.4 249.4h1.9v2.6h-1.9zM603.2 249.4h1.9v2.6h-1.9zM396.0 253.8h1.9v2.7h-1.9zM424.7 253.8h1.9v2.7h-1.9zM517.1 253.8h1.9v2.7h-1.9zM529.9 253.8h1.9v2.7h-1.9zM571.3 253.8h1.9v2.7h-1.9zM606.4 253.8h1.9v2.7h-1.9zM402.4 258.4h1.9v3.0h-1.9zM485.2 258.4h1.9v3.0h-1.9zM504.4 258.4h1.9v3.0h-1.9zM533.1 258.4h1.9v3.0h-1.9zM539.4 258.4h1.9v3.0h-1.9zM574.5 258.4h1.9v3.0h-1.9zM593.6 258.4h1.9v3.0h-1.9zM600.0 258.4h1.9v3.0h-1.9zM507.6 263.5h1.9v3.3h-1.9zM523.5 263.5h1.9v3.3h-1.9z"/>
<use href="#nodata" transform="translate(341.50,153.15)"/>
<rect x="382.6" y="207.42" width="229.60000000000002" height="12.76" fill="#e3e3e3"/>
<use href="#land" transform="translate(341.50,153.15)"/>
</g>
<rect x="382.6" y="165.20000000000002" width="229.60000000000002" height="108.65" fill="none" stroke="#000" stroke-width="1.3"/>
<path d="M382.60,165.20000000000002v-2.2M382.60,273.85v2.2M420.87,165.20000000000002v-2.2M420.87,273.85v2.2M459.13,165.20000000000002v-2.2M459.13,273.85v2.2M497.40,165.20000000000002v-2.2M497.40,273.85v2.2M535.67,165.20000000000002v-2.2M535.67,273.85v2.2M573.93,165.20000000000002v-2.2M573.93,273.85v2.2M612.20,165.20000000000002v-2.2M612.20,273.85v2.2M382.6,170.18h-2.2M612.2,170.18h2.2M382.6,194.13h-2.2M612.2,194.13h2.2M382.6,213.80h-2.2M612.2,213.80h2.2M382.6,233.47h-2.2M612.2,233.47h2.2M382.6,257.42h-2.2M612.2,257.42h2.2" stroke="#000" stroke-width="1.1" fill="none"/>
<text transform="translate(377.10,173.68) scale(0.9346,1)" font-size="10.06" text-anchor="end">60°N</text>
<text transform="translate(377.10,197.63) scale(0.9346,1)" font-size="10.06" text-anchor="end">30°N</text>
<text transform="translate(374.80,217.30) scale(0.9346,1)" font-size="10.06" text-anchor="end">0°</text>
<text transform="translate(377.10,236.97) scale(0.9346,1)" font-size="10.06" text-anchor="end">30°S</text>
<text transform="translate(377.10,260.92) scale(0.9346,1)" font-size="10.06" text-anchor="end">60°S</text>
<text transform="translate(383.30,286.15) scale(0.9346,1)" font-size="10.06" text-anchor="middle">0°</text>
<text transform="translate(420.87,286.15) scale(0.9346,1)" font-size="10.06" text-anchor="middle">60°E</text>
<text transform="translate(459.13,286.15) scale(0.9346,1)" font-size="10.06" text-anchor="middle">120°E</text>
<text transform="translate(498.10,286.15) scale(0.9346,1)" font-size="10.06" text-anchor="middle">180°</text>
<text transform="translate(535.67,286.15) scale(0.9346,1)" font-size="10.06" text-anchor="middle">120°W</text>
<text transform="translate(573.93,286.15) scale(0.9346,1)" font-size="10.06" text-anchor="middle">60°W</text>
<text transform="translate(612.90,286.15) scale(0.9346,1)" font-size="10.06" text-anchor="middle">0°</text>
<text transform="translate(497.80,301.35) scale(0.9346,1)" font-size="10.06" text-anchor="middle">Longitude</text>
<text x="0" y="0" text-anchor="middle" transform="translate(349.00,218.43) rotate(-90) scale(0.9346,1)" font-size="10.06">Latitude</text>
<text transform="translate(497.40,162.80) scale(0.9346,1)" font-size="10.22" text-anchor="middle">Contribution of second dominant sources in winter</text>
<text x="373.00" y="162.10" font-size="13.4" font-weight="bold">f</text>
<clipPath id="cc"><rect x="41.1" y="318.35" width="229.50000000000003" height="108.64999999999998"/></clipPath>
<g clip-path="url(#cc)">
<rect x="41.1" y="318.35" width="229.50000000000003" height="108.64999999999998" fill="#fff"/>
<path fill="#515f8f" d="M41.1 318.4h114.8v5.0H41.1zM165.4 318.4h44.7v5.0H165.4zM226.0 318.4h44.7v5.0H226.0zM41.1 323.3h3.2v4.6H41.1zM50.7 323.3h76.6v4.6H50.7zM143.1 323.3h67.0v4.6H143.1zM226.0 323.3h44.7v4.6H226.0zM41.1 327.9h86.1v4.3H41.1zM143.1 327.9h127.6v4.3H143.1zM41.1 332.2h229.6v4.1H41.1zM41.1 336.2h229.6v3.9H41.1zM41.1 340.1h229.6v3.7H41.1zM41.1 343.7h229.6v3.6H41.1zM41.1 347.3h229.6v3.5H41.1zM41.1 350.7h35.1v3.4H41.1zM85.7 350.7h70.2v3.4H85.7zM165.4 350.7h105.2v3.4H165.4zM41.1 354.1h35.1v3.3H41.1zM85.7 354.1h6.4v3.3H85.7zM101.7 354.1h9.6v3.3H101.7zM117.6 354.1h28.7v3.3H117.6zM155.9 354.1h114.8v3.3H155.9zM41.1 357.3h35.1v3.3H41.1zM85.7 357.3h6.4v3.3H85.7zM101.7 357.3h9.6v3.3H101.7zM117.6 357.3h102.1v3.3H117.6zM229.2 357.3h41.5v3.3H229.2zM41.1 360.6h229.6v3.2H41.1zM41.1 363.8h229.6v3.2H41.1zM41.1 366.9h229.6v3.2H41.1zM41.1 370.1h229.6v3.2H41.1zM41.1 373.3h73.4v3.3H41.1zM130.4 373.3h35.1v3.3H130.4zM175.0 373.3h95.7v3.3H175.0zM41.1 376.6h73.4v3.3H41.1zM120.8 376.6h47.9v3.3H120.8zM175.0 376.6h95.7v3.3H175.0zM41.1 379.8h229.6v3.4H41.1zM41.1 383.2h229.6v3.5H41.1zM41.1 386.6h229.6v3.6H41.1zM41.1 390.2h229.6v3.7H41.1zM41.1 393.8h229.6v3.9H41.1zM41.1 397.7h229.6v4.1H41.1zM41.1 401.7h229.6v4.3H41.1zM41.1 406.0h54.2v4.6H41.1zM101.7 406.0h169.0v4.6H101.7zM41.1 410.6h229.6v5.0H41.1zM41.1 415.5h102.0v5.5H41.1zM149.5 415.5h121.2v5.5H149.5zM41.1 420.9h146.7v6.1H41.1zM213.2 420.9h57.4v6.1H213.2z"/><path fill="#f5682c" d="M76.2 350.7h9.6v3.4H76.2zM76.2 354.1h9.6v3.3H76.2zM92.1 354.1h9.6v3.3H92.1zM111.2 354.1h6.4v3.3H111.2zM76.2 357.3h9.6v3.3H76.2zM92.1 357.3h9.6v3.3H92.1zM111.2 357.3h6.4v3.3H111.2zM219.6 357.3h9.6v3.3H219.6zM120.8 373.3h9.6v3.3H120.8zM95.3 406.0h6.4v4.6H95.3z"/><path fill="#52a8f5" d="M155.9 350.7h9.6v3.4H155.9zM146.3 354.1h9.6v3.3H146.3zM114.4 373.3h6.4v3.3H114.4zM165.4 373.3h9.6v3.3H165.4zM114.4 376.6h6.4v3.3H114.4zM168.6 376.6h6.4v3.3H168.6z"/><path fill="#f5682c" d="M242.6 324.2h1.9v2.7h-1.9zM143.7 328.8h1.9v2.6h-1.9zM245.7 328.8h1.9v2.6h-1.9zM261.7 337.0h1.9v2.3h-1.9zM258.5 340.8h1.9v2.2h-1.9zM146.9 344.4h1.9v2.1h-1.9zM255.3 344.4h1.9v2.1h-1.9zM131.0 348.0h1.9v2.1h-1.9zM236.2 351.4h1.9v2.0h-1.9zM210.7 354.7h1.9v2.0h-1.9zM166.1 358.0h1.9v1.9h-1.9zM44.9 374.0h1.9v1.9h-1.9zM105.5 374.0h1.9v1.9h-1.9zM140.6 374.0h1.9v1.9h-1.9zM252.1 374.0h1.9v1.9h-1.9zM236.2 390.9h1.9v2.2h-1.9zM48.1 411.6h1.9v3.0h-1.9zM233.0 411.6h1.9v3.0h-1.9z"/><path fill="#52a8f5" d="M220.2 344.4h1.9v2.1h-1.9zM226.6 344.4h1.9v2.1h-1.9zM127.8 348.0h1.9v2.1h-1.9zM137.4 348.0h1.9v2.1h-1.9zM213.9 351.4h1.9v2.0h-1.9zM229.8 351.4h1.9v2.0h-1.9zM86.4 358.0h1.9v1.9h-1.9zM162.9 358.0h1.9v1.9h-1.9zM204.3 358.0h1.9v1.9h-1.9zM210.7 358.0h1.9v1.9h-1.9zM86.4 374.0h1.9v1.9h-1.9zM150.1 374.0h1.9v1.9h-1.9z"/>
<use href="#nodata" transform="translate(0.00,306.30)"/>
<rect x="41.1" y="360.57" width="229.50000000000003" height="12.76" fill="#e3e3e3"/>
<use href="#land" transform="translate(0.00,306.30)"/>
</g>
<rect x="41.1" y="318.35" width="229.50000000000003" height="108.64999999999998" fill="none" stroke="#000" stroke-width="1.3"/>
<path d="M41.10,318.35v-2.2M41.10,427.0v2.2M79.35,318.35v-2.2M79.35,427.0v2.2M117.60,318.35v-2.2M117.60,427.0v2.2M155.85,318.35v-2.2M155.85,427.0v2.2M194.10,318.35v-2.2M194.10,427.0v2.2M232.35,318.35v-2.2M232.35,427.0v2.2M270.60,318.35v-2.2M270.60,427.0v2.2M41.1,323.33h-2.2M270.6,323.33h2.2M41.1,347.28h-2.2M270.6,347.28h2.2M41.1,366.95h-2.2M270.6,366.95h2.2M41.1,386.62h-2.2M270.6,386.62h2.2M41.1,410.57h-2.2M270.6,410.57h2.2" stroke="#000" stroke-width="1.1" fill="none"/>
<text transform="translate(35.60,326.83) scale(0.9346,1)" font-size="10.06" text-anchor="end">60°N</text>
<text transform="translate(35.60,350.78) scale(0.9346,1)" font-size="10.06" text-anchor="end">30°N</text>
<text transform="translate(33.30,370.45) scale(0.9346,1)" font-size="10.06" text-anchor="end">0°</text>
<text transform="translate(35.60,390.12) scale(0.9346,1)" font-size="10.06" text-anchor="end">30°S</text>
<text transform="translate(35.60,414.07) scale(0.9346,1)" font-size="10.06" text-anchor="end">60°S</text>
<text transform="translate(41.80,439.30) scale(0.9346,1)" font-size="10.06" text-anchor="middle">0°</text>
<text transform="translate(79.35,439.30) scale(0.9346,1)" font-size="10.06" text-anchor="middle">60°E</text>
<text transform="translate(117.60,439.30) scale(0.9346,1)" font-size="10.06" text-anchor="middle">120°E</text>
<text transform="translate(156.55,439.30) scale(0.9346,1)" font-size="10.06" text-anchor="middle">180°</text>
<text transform="translate(194.10,439.30) scale(0.9346,1)" font-size="10.06" text-anchor="middle">120°W</text>
<text transform="translate(232.35,439.30) scale(0.9346,1)" font-size="10.06" text-anchor="middle">60°W</text>
<text transform="translate(271.30,439.30) scale(0.9346,1)" font-size="10.06" text-anchor="middle">0°</text>
<text transform="translate(156.25,454.50) scale(0.9346,1)" font-size="10.06" text-anchor="middle">Longitude</text>
<text x="0" y="0" text-anchor="middle" transform="translate(7.50,371.57) rotate(-90) scale(0.9346,1)" font-size="10.06">Latitude</text>
<text transform="translate(155.85,315.95) scale(0.9346,1)" font-size="10.22" text-anchor="middle">First dominant sources in summer</text>
<text x="31.50" y="315.25" font-size="13.4" font-weight="bold">c</text>
<clipPath id="cg"><rect x="382.6" y="318.35" width="229.60000000000002" height="108.64999999999998"/></clipPath>
<g clip-path="url(#cg)">
<rect x="382.6" y="318.35" width="229.60000000000002" height="108.64999999999998" fill="#fff"/>
<path fill="#72ebdc" d="M382.6 318.4h3.2v5.0H382.6zM475.0 318.4h16.0v5.0H475.0zM494.2 318.4h3.2v5.0H494.2zM510.1 318.4h25.6v5.0H510.1zM573.9 318.4h6.4v5.0H573.9zM583.4 318.4h19.2v5.0H583.4zM608.9 318.4h3.2v5.0H608.9zM382.6 323.3h3.2v4.6H382.6zM475.0 323.3h16.0v4.6H475.0zM494.2 323.3h9.6v4.6H494.2zM506.9 323.3h31.9v4.6H506.9zM573.9 323.3h6.4v4.6H573.9zM586.6 323.3h25.6v4.6H586.6zM382.6 327.9h3.2v4.3H382.6zM411.3 327.9h9.6v4.3H411.3zM475.0 327.9h19.2v4.3H475.0zM497.4 327.9h44.7v4.3H497.4zM564.3 327.9h16.0v4.3H564.3zM596.2 327.9h16.0v4.3H596.2zM382.6 332.2h3.2v4.1H382.6zM389.0 332.2h3.2v4.1H389.0zM401.7 332.2h19.2v4.1H401.7zM462.3 332.2h28.7v4.1H462.3zM503.7 332.2h41.5v4.1H503.7zM561.1 332.2h6.4v4.1H561.1zM573.9 332.2h31.9v4.1H573.9zM382.6 336.2h12.8v3.9H382.6zM401.7 336.2h19.2v3.9H401.7zM462.3 336.2h28.7v3.9H462.3zM506.9 336.2h3.2v3.9H506.9zM519.7 336.2h9.6v3.9H519.7zM557.9 336.2h9.6v3.9H557.9zM570.7 336.2h25.6v3.9H570.7zM608.9 336.2h3.2v3.9H608.9zM382.6 340.1h12.8v3.7H382.6zM401.7 340.1h19.2v3.7H401.7zM462.3 340.1h12.8v3.7H462.3zM481.4 340.1h6.4v3.7H481.4zM497.4 340.1h3.2v3.7H497.4zM506.9 340.1h25.6v3.7H506.9zM548.4 340.1h16.0v3.7H548.4zM570.7 340.1h22.4v3.7H570.7zM608.9 340.1h3.2v3.7H608.9zM382.6 343.7h16.0v3.6H382.6zM401.7 343.7h19.2v3.6H401.7zM452.7 343.7h9.6v3.6H452.7zM468.7 343.7h22.4v3.6H468.7zM494.2 343.7h9.6v3.6H494.2zM506.9 343.7h9.6v3.6H506.9zM522.9 343.7h9.6v3.6H522.9zM567.5 343.7h28.7v3.6H567.5zM608.9 343.7h3.2v3.6H608.9zM382.6 347.3h16.0v3.5H382.6zM401.7 347.3h3.2v3.5H401.7zM411.3 347.3h9.6v3.5H411.3zM481.4 347.3h25.6v3.5H481.4zM522.9 347.3h6.4v3.5H522.9zM535.6 347.3h12.8v3.5H535.6zM561.1 347.3h41.5v3.5H561.1zM608.9 347.3h3.2v3.5H608.9zM382.6 350.7h16.0v3.4H382.6zM411.3 350.7h3.2v3.4H411.3zM417.7 350.7h3.2v3.4H417.7zM459.1 350.7h3.2v3.4H459.1zM468.7 350.7h6.4v3.4H468.7zM481.4 350.7h6.4v3.4H481.4zM532.4 350.7h16.0v3.4H532.4zM561.1 350.7h3.2v3.4H561.1zM596.2 350.7h16.0v3.4H596.2zM382.6 354.1h16.0v3.3H382.6zM411.3 354.1h6.4v3.3H411.3zM459.1 354.1h6.4v3.3H459.1zM468.7 354.1h6.4v3.3H468.7zM481.4 354.1h3.2v3.3H481.4zM526.0 354.1h9.6v3.3H526.0zM542.0 354.1h6.4v3.3H542.0zM583.4 354.1h28.7v3.3H583.4zM385.8 357.3h12.8v3.3H385.8zM462.3 357.3h3.2v3.3H462.3zM471.9 357.3h3.2v3.3H471.9zM481.4 357.3h3.2v3.3H481.4zM522.9 357.3h9.6v3.3H522.9zM583.4 357.3h16.0v3.3H583.4zM389.0 360.6h9.6v3.2H389.0zM462.3 360.6h3.2v3.2H462.3zM471.9 360.6h3.2v3.2H471.9zM481.4 360.6h3.2v3.2H481.4zM522.9 360.6h9.6v3.2H522.9zM583.4 360.6h16.0v3.2H583.4zM395.4 363.8h3.2v3.2H395.4zM462.3 363.8h3.2v3.2H462.3zM471.9 363.8h3.2v3.2H471.9zM481.4 363.8h3.2v3.2H481.4zM522.9 363.8h9.6v3.2H522.9zM583.4 363.8h16.0v3.2H583.4zM468.7 366.9h3.2v3.2H468.7zM542.0 366.9h3.2v3.2H542.0zM583.4 366.9h3.2v3.2H583.4zM468.7 370.1h3.2v3.2H468.7zM542.0 370.1h3.2v3.2H542.0zM468.7 373.3h3.2v3.3H468.7zM542.0 373.3h3.2v3.3H542.0zM468.7 376.6h3.2v3.3H468.7zM468.7 379.8h3.2v3.4H468.7zM573.9 379.8h9.6v3.4H573.9zM573.9 383.2h12.8v3.5H573.9zM561.1 386.6h9.6v3.6H561.1zM608.9 386.6h3.2v3.6H608.9zM382.6 390.2h3.2v3.7H382.6zM430.4 390.2h6.4v3.7H430.4zM551.5 390.2h6.4v3.7H551.5zM586.6 390.2h9.6v3.7H586.6zM605.7 390.2h6.4v3.7H605.7zM382.6 393.8h6.4v3.9H382.6zM408.1 393.8h6.4v3.9H408.1zM433.6 393.8h3.2v3.9H433.6zM440.0 393.8h3.2v3.9H440.0zM503.7 393.8h3.2v3.9H503.7zM510.1 393.8h25.6v3.9H510.1zM583.4 393.8h16.0v3.9H583.4zM605.7 393.8h6.4v3.9H605.7zM382.6 397.7h6.4v4.1H382.6zM395.4 397.7h12.8v4.1H395.4zM414.5 397.7h3.2v4.1H414.5zM424.0 397.7h3.2v4.1H424.0zM440.0 397.7h12.8v4.1H440.0zM468.7 397.7h3.2v4.1H468.7zM491.0 397.7h3.2v4.1H491.0zM503.7 397.7h3.2v4.1H503.7zM510.1 397.7h25.6v4.1H510.1zM573.9 397.7h3.2v4.1H573.9zM586.6 397.7h12.8v4.1H586.6zM602.5 397.7h9.6v4.1H602.5zM382.6 401.7h3.2v4.3H382.6zM395.4 401.7h6.4v4.3H395.4zM404.9 401.7h3.2v4.3H404.9zM414.5 401.7h3.2v4.3H414.5zM424.0 401.7h6.4v4.3H424.0zM443.2 401.7h9.6v4.3H443.2zM468.7 401.7h3.2v4.3H468.7zM475.0 401.7h3.2v4.3H475.0zM491.0 401.7h3.2v4.3H491.0zM503.7 401.7h3.2v4.3H503.7zM510.1 401.7h9.6v4.3H510.1zM522.9 401.7h12.8v4.3H522.9zM573.9 401.7h6.4v4.3H573.9zM589.8 401.7h9.6v4.3H589.8zM605.7 401.7h6.4v4.3H605.7zM382.6 406.0h3.2v4.6H382.6zM392.2 406.0h6.4v4.6H392.2zM404.9 406.0h3.2v4.6H404.9zM414.5 406.0h3.2v4.6H414.5zM427.2 406.0h3.2v4.6H427.2zM443.2 406.0h12.8v4.6H443.2zM465.5 406.0h22.4v4.6H465.5zM522.9 406.0h12.8v4.6H522.9zM573.9 406.0h9.6v4.6H573.9zM602.5 406.0h9.6v4.6H602.5zM382.6 410.6h6.4v5.0H382.6zM392.2 410.6h6.4v5.0H392.2zM404.9 410.6h12.8v5.0H404.9zM433.6 410.6h3.2v5.0H433.6zM443.2 410.6h3.2v5.0H443.2zM449.5 410.6h12.8v5.0H449.5zM465.5 410.6h3.2v5.0H465.5zM484.6 410.6h3.2v5.0H484.6zM491.0 410.6h3.2v5.0H491.0zM503.7 410.6h6.4v5.0H503.7zM513.3 410.6h9.6v5.0H513.3zM529.2 410.6h3.2v5.0H529.2zM542.0 410.6h3.2v5.0H542.0zM573.9 410.6h38.3v5.0H573.9zM382.6 415.5h35.1v5.5H382.6zM424.0 415.5h12.8v5.5H424.0zM443.2 415.5h3.2v5.5H443.2zM449.5 415.5h12.8v5.5H449.5zM465.5 415.5h3.2v5.5H465.5zM487.8 415.5h6.4v5.5H487.8zM497.4 415.5h22.4v5.5H497.4zM526.0 415.5h6.4v5.5H526.0zM538.8 415.5h6.4v5.5H538.8zM548.4 415.5h9.6v5.5H548.4zM583.4 415.5h28.7v5.5H583.4zM382.6 420.9h35.1v6.1H382.6zM424.0 420.9h12.8v6.1H424.0zM443.2 420.9h3.2v6.1H443.2zM449.5 420.9h12.8v6.1H449.5zM465.5 420.9h3.2v6.1H465.5zM491.0 420.9h3.2v6.1H491.0zM497.4 420.9h25.6v6.1H497.4zM526.0 420.9h3.2v6.1H526.0zM548.4 420.9h3.2v6.1H548.4zM554.7 420.9h3.2v6.1H554.7zM589.8 420.9h22.4v6.1H589.8z"/><path fill="#dfbb8a" d="M424.0 318.4h3.2v5.0H424.0zM433.6 318.4h3.2v5.0H433.6zM424.0 323.3h3.2v4.6H424.0zM433.6 323.3h3.2v4.6H433.6zM583.4 323.3h3.2v4.6H583.4zM424.0 327.9h3.2v4.3H424.0zM433.6 327.9h3.2v4.3H433.6zM583.4 327.9h6.4v4.3H583.4zM424.0 332.2h3.2v4.1H424.0zM433.6 332.2h3.2v4.1H433.6zM424.0 336.2h3.2v3.9H424.0zM433.6 336.2h3.2v3.9H433.6zM424.0 340.1h3.2v3.7H424.0zM433.6 340.1h3.2v3.7H433.6zM564.3 340.1h3.2v3.7H564.3zM424.0 343.7h3.2v3.6H424.0zM433.6 343.7h3.2v3.6H433.6zM446.4 343.7h6.4v3.6H446.4zM548.4 343.7h16.0v3.6H548.4zM424.0 347.3h3.2v3.5H424.0zM433.6 347.3h3.2v3.5H433.6zM446.4 347.3h6.4v3.5H446.4zM468.7 347.3h12.8v3.5H468.7zM548.4 347.3h12.8v3.5H548.4zM424.0 350.7h3.2v3.4H424.0zM433.6 350.7h3.2v3.4H433.6zM446.4 350.7h6.4v3.4H446.4zM487.8 350.7h19.2v3.4H487.8zM554.7 350.7h6.4v3.4H554.7zM564.3 350.7h12.8v3.4H564.3zM398.5 354.1h12.8v3.3H398.5zM417.7 354.1h6.4v3.3H417.7zM427.2 354.1h9.6v3.3H427.2zM440.0 354.1h6.4v3.3H440.0zM455.9 354.1h3.2v3.3H455.9zM484.6 354.1h28.7v3.3H484.6zM548.4 354.1h12.8v3.3H548.4zM564.3 354.1h12.8v3.3H564.3zM398.5 357.3h9.6v3.3H398.5zM417.7 357.3h6.4v3.3H417.7zM427.2 357.3h12.8v3.3H427.2zM455.9 357.3h3.2v3.3H455.9zM500.5 357.3h12.8v3.3H500.5zM545.2 357.3h12.8v3.3H545.2zM564.3 357.3h12.8v3.3H564.3zM382.6 360.6h6.4v3.2H382.6zM398.5 360.6h9.6v3.2H398.5zM417.7 360.6h6.4v3.2H417.7zM427.2 360.6h12.8v3.2H427.2zM455.9 360.6h3.2v3.2H455.9zM500.5 360.6h12.8v3.2H500.5zM545.2 360.6h12.8v3.2H545.2zM564.3 360.6h12.8v3.2H564.3zM382.6 363.8h12.8v3.2H382.6zM398.5 363.8h9.6v3.2H398.5zM417.7 363.8h6.4v3.2H417.7zM427.2 363.8h12.8v3.2H427.2zM446.4 363.8h3.2v3.2H446.4zM455.9 363.8h3.2v3.2H455.9zM500.5 363.8h12.8v3.2H500.5zM545.2 363.8h12.8v3.2H545.2zM564.3 363.8h12.8v3.2H564.3zM605.7 363.8h6.4v3.2H605.7zM382.6 366.9h28.7v3.2H382.6zM414.5 366.9h16.0v3.2H414.5zM436.8 366.9h25.6v3.2H436.8zM471.9 366.9h51.0v3.2H471.9zM529.2 366.9h6.4v3.2H529.2zM564.3 366.9h12.8v3.2H564.3zM586.6 366.9h9.6v3.2H586.6zM602.5 366.9h9.6v3.2H602.5zM382.6 370.1h47.9v3.2H382.6zM436.8 370.1h25.6v3.2H436.8zM471.9 370.1h51.0v3.2H471.9zM529.2 370.1h6.4v3.2H529.2zM570.7 370.1h6.4v3.2H570.7zM580.2 370.1h16.0v3.2H580.2zM602.5 370.1h9.6v3.2H602.5zM382.6 373.3h47.9v3.3H382.6zM436.8 373.3h25.6v3.3H436.8zM471.9 373.3h51.0v3.3H471.9zM529.2 373.3h6.4v3.3H529.2zM577.0 373.3h19.2v3.3H577.0zM602.5 373.3h9.6v3.3H602.5zM436.8 376.6h6.4v3.3H436.8zM446.4 376.6h3.2v3.3H446.4zM455.9 376.6h6.4v3.3H455.9zM471.9 376.6h9.6v3.3H471.9zM484.6 376.6h3.2v3.3H484.6zM491.0 376.6h3.2v3.3H491.0zM506.9 376.6h12.8v3.3H506.9zM532.4 376.6h6.4v3.3H532.4zM561.1 376.6h35.1v3.3H561.1zM602.5 376.6h3.2v3.3H602.5zM436.8 379.8h3.2v3.4H436.8zM455.9 379.8h6.4v3.4H455.9zM471.9 379.8h3.2v3.4H471.9zM510.1 379.8h3.2v3.4H510.1zM535.6 379.8h3.2v3.4H535.6zM583.4 379.8h6.4v3.4H583.4zM433.6 383.2h6.4v3.5H433.6zM491.0 383.2h3.2v3.5H491.0zM500.5 383.2h6.4v3.5H500.5zM510.1 383.2h3.2v3.5H510.1zM602.5 383.2h3.2v3.5H602.5zM433.6 386.6h6.4v3.6H433.6zM452.7 386.6h6.4v3.6H452.7zM491.0 386.6h3.2v3.6H491.0zM500.5 386.6h3.2v3.6H500.5zM602.5 386.6h3.2v3.6H602.5zM449.5 390.2h9.6v3.7H449.5zM475.0 390.2h3.2v3.7H475.0zM475.0 393.8h3.2v3.9H475.0zM557.9 406.0h3.2v4.6H557.9zM436.8 410.6h3.2v5.0H436.8zM554.7 410.6h6.4v5.0H554.7zM436.8 415.5h3.2v5.5H436.8zM436.8 420.9h3.2v6.1H436.8z"/><path fill="#a51c33" d="M427.2 318.4h6.4v5.0H427.2zM436.8 318.4h6.4v5.0H436.8zM491.0 318.4h3.2v5.0H491.0zM580.2 318.4h3.2v5.0H580.2zM602.5 318.4h6.4v5.0H602.5zM392.2 323.3h3.2v4.6H392.2zM420.9 323.3h3.2v4.6H420.9zM427.2 323.3h6.4v4.6H427.2zM436.8 323.3h6.4v4.6H436.8zM491.0 323.3h3.2v4.6H491.0zM580.2 323.3h3.2v4.6H580.2zM392.2 327.9h3.2v4.3H392.2zM420.9 327.9h3.2v4.3H420.9zM427.2 327.9h6.4v4.3H427.2zM436.8 327.9h25.6v4.3H436.8zM494.2 327.9h3.2v4.3H494.2zM580.2 327.9h3.2v4.3H580.2zM589.8 327.9h6.4v4.3H589.8zM392.2 332.2h3.2v4.1H392.2zM398.5 332.2h3.2v4.1H398.5zM420.9 332.2h3.2v4.1H420.9zM427.2 332.2h6.4v4.1H427.2zM436.8 332.2h25.6v4.1H436.8zM491.0 332.2h12.8v4.1H491.0zM567.5 332.2h6.4v4.1H567.5zM605.7 332.2h6.4v4.1H605.7zM395.4 336.2h6.4v3.9H395.4zM420.9 336.2h3.2v3.9H420.9zM427.2 336.2h6.4v3.9H427.2zM436.8 336.2h25.6v3.9H436.8zM491.0 336.2h16.0v3.9H491.0zM510.1 336.2h9.6v3.9H510.1zM529.2 336.2h16.0v3.9H529.2zM567.5 336.2h3.2v3.9H567.5zM596.2 336.2h12.8v3.9H596.2zM395.4 340.1h6.4v3.7H395.4zM420.9 340.1h3.2v3.7H420.9zM427.2 340.1h6.4v3.7H427.2zM436.8 340.1h25.6v3.7H436.8zM475.0 340.1h6.4v3.7H475.0zM487.8 340.1h9.6v3.7H487.8zM500.5 340.1h6.4v3.7H500.5zM532.4 340.1h16.0v3.7H532.4zM567.5 340.1h3.2v3.7H567.5zM593.0 340.1h16.0v3.7H593.0zM398.5 343.7h3.2v3.6H398.5zM420.9 343.7h3.2v3.6H420.9zM427.2 343.7h6.4v3.6H427.2zM436.8 343.7h9.6v3.6H436.8zM462.3 343.7h6.4v3.6H462.3zM491.0 343.7h3.2v3.6H491.0zM503.7 343.7h3.2v3.6H503.7zM516.5 343.7h6.4v3.6H516.5zM532.4 343.7h16.0v3.6H532.4zM564.3 343.7h3.2v3.6H564.3zM596.2 343.7h12.8v3.6H596.2zM398.5 347.3h3.2v3.5H398.5zM404.9 347.3h6.4v3.5H404.9zM420.9 347.3h3.2v3.5H420.9zM427.2 347.3h6.4v3.5H427.2zM436.8 347.3h9.6v3.5H436.8zM452.7 347.3h16.0v3.5H452.7zM506.9 347.3h16.0v3.5H506.9zM529.2 347.3h6.4v3.5H529.2zM602.5 347.3h6.4v3.5H602.5zM398.5 350.7h12.8v3.4H398.5zM420.9 350.7h3.2v3.4H420.9zM427.2 350.7h6.4v3.4H427.2zM436.8 350.7h9.6v3.4H436.8zM452.7 350.7h6.4v3.4H452.7zM462.3 350.7h6.4v3.4H462.3zM475.0 350.7h6.4v3.4H475.0zM506.9 350.7h25.6v3.4H506.9zM548.4 350.7h6.4v3.4H548.4zM577.0 350.7h19.2v3.4H577.0zM424.0 354.1h3.2v3.3H424.0zM436.8 354.1h3.2v3.3H436.8zM446.4 354.1h9.6v3.3H446.4zM465.5 354.1h3.2v3.3H465.5zM475.0 354.1h6.4v3.3H475.0zM513.3 354.1h12.8v3.3H513.3zM535.6 354.1h6.4v3.3H535.6zM561.1 354.1h3.2v3.3H561.1zM577.0 354.1h6.4v3.3H577.0zM382.6 357.3h3.2v3.3H382.6zM411.3 357.3h6.4v3.3H411.3zM424.0 357.3h3.2v3.3H424.0zM440.0 357.3h16.0v3.3H440.0zM459.1 357.3h3.2v3.3H459.1zM465.5 357.3h6.4v3.3H465.5zM475.0 357.3h6.4v3.3H475.0zM484.6 357.3h16.0v3.3H484.6zM513.3 357.3h9.6v3.3H513.3zM532.4 357.3h12.8v3.3H532.4zM557.9 357.3h6.4v3.3H557.9zM577.0 357.3h6.4v3.3H577.0zM599.4 357.3h12.8v3.3H599.4zM411.3 360.6h6.4v3.2H411.3zM424.0 360.6h3.2v3.2H424.0zM440.0 360.6h16.0v3.2H440.0zM459.1 360.6h3.2v3.2H459.1zM465.5 360.6h6.4v3.2H465.5zM475.0 360.6h6.4v3.2H475.0zM484.6 360.6h16.0v3.2H484.6zM513.3 360.6h9.6v3.2H513.3zM532.4 360.6h12.8v3.2H532.4zM557.9 360.6h6.4v3.2H557.9zM577.0 360.6h6.4v3.2H577.0zM599.4 360.6h12.8v3.2H599.4zM411.3 363.8h6.4v3.2H411.3zM424.0 363.8h3.2v3.2H424.0zM440.0 363.8h6.4v3.2H440.0zM449.5 363.8h6.4v3.2H449.5zM459.1 363.8h3.2v3.2H459.1zM465.5 363.8h6.4v3.2H465.5zM475.0 363.8h6.4v3.2H475.0zM484.6 363.8h16.0v3.2H484.6zM513.3 363.8h9.6v3.2H513.3zM532.4 363.8h12.8v3.2H532.4zM557.9 363.8h6.4v3.2H557.9zM577.0 363.8h6.4v3.2H577.0zM599.4 363.8h6.4v3.2H599.4zM411.3 366.9h3.2v3.2H411.3zM430.4 366.9h6.4v3.2H430.4zM462.3 366.9h6.4v3.2H462.3zM522.9 366.9h6.4v3.2H522.9zM535.6 366.9h6.4v3.2H535.6zM545.2 366.9h19.2v3.2H545.2zM577.0 366.9h6.4v3.2H577.0zM596.2 366.9h6.4v3.2H596.2zM430.4 370.1h6.4v3.2H430.4zM462.3 370.1h6.4v3.2H462.3zM522.9 370.1h6.4v3.2H522.9zM535.6 370.1h6.4v3.2H535.6zM545.2 370.1h25.6v3.2H545.2zM577.0 370.1h3.2v3.2H577.0zM596.2 370.1h6.4v3.2H596.2zM430.4 373.3h6.4v3.3H430.4zM462.3 373.3h6.4v3.3H462.3zM522.9 373.3h6.4v3.3H522.9zM535.6 373.3h6.4v3.3H535.6zM545.2 373.3h31.9v3.3H545.2zM596.2 373.3h6.4v3.3H596.2zM382.6 376.6h54.2v3.3H382.6zM443.2 376.6h3.2v3.3H443.2zM449.5 376.6h6.4v3.3H449.5zM462.3 376.6h6.4v3.3H462.3zM481.4 376.6h3.2v3.3H481.4zM487.8 376.6h3.2v3.3H487.8zM494.2 376.6h12.8v3.3H494.2zM519.7 376.6h12.8v3.3H519.7zM538.8 376.6h22.4v3.3H538.8zM596.2 376.6h6.4v3.3H596.2zM605.7 376.6h6.4v3.3H605.7zM382.6 379.8h54.2v3.4H382.6zM440.0 379.8h16.0v3.4H440.0zM462.3 379.8h6.4v3.4H462.3zM475.0 379.8h35.1v3.4H475.0zM513.3 379.8h22.4v3.4H513.3zM538.8 379.8h35.1v3.4H538.8zM589.8 379.8h22.4v3.4H589.8zM382.6 383.2h51.0v3.5H382.6zM440.0 383.2h51.0v3.5H440.0zM494.2 383.2h6.4v3.5H494.2zM506.9 383.2h3.2v3.5H506.9zM513.3 383.2h60.6v3.5H513.3zM586.6 383.2h16.0v3.5H586.6zM605.7 383.2h6.4v3.5H605.7zM382.6 386.6h51.0v3.6H382.6zM440.0 386.6h12.8v3.6H440.0zM459.1 386.6h31.9v3.6H459.1zM494.2 386.6h6.4v3.6H494.2zM503.7 386.6h57.4v3.6H503.7zM570.7 386.6h31.9v3.6H570.7zM605.7 386.6h3.2v3.6H605.7zM385.8 390.2h44.7v3.7H385.8zM436.8 390.2h12.8v3.7H436.8zM459.1 390.2h16.0v3.7H459.1zM478.2 390.2h73.4v3.7H478.2zM557.9 390.2h28.7v3.7H557.9zM596.2 390.2h9.6v3.7H596.2zM389.0 393.8h19.2v3.9H389.0zM414.5 393.8h19.2v3.9H414.5zM436.8 393.8h3.2v3.9H436.8zM443.2 393.8h3.2v3.9H443.2zM449.5 393.8h25.6v3.9H449.5zM478.2 393.8h25.6v3.9H478.2zM506.9 393.8h3.2v3.9H506.9zM535.6 393.8h47.9v3.9H535.6zM599.4 393.8h6.4v3.9H599.4zM389.0 397.7h6.4v4.1H389.0zM408.1 397.7h6.4v4.1H408.1zM417.7 397.7h6.4v4.1H417.7zM427.2 397.7h12.8v4.1H427.2zM452.7 397.7h16.0v4.1H452.7zM471.9 397.7h19.2v4.1H471.9zM494.2 397.7h9.6v4.1H494.2zM506.9 397.7h3.2v4.1H506.9zM535.6 397.7h38.3v4.1H535.6zM577.0 397.7h9.6v4.1H577.0zM599.4 397.7h3.2v4.1H599.4zM385.8 401.7h9.6v4.3H385.8zM401.7 401.7h3.2v4.3H401.7zM408.1 401.7h6.4v4.3H408.1zM417.7 401.7h6.4v4.3H417.7zM430.4 401.7h12.8v4.3H430.4zM452.7 401.7h16.0v4.3H452.7zM471.9 401.7h3.2v4.3H471.9zM478.2 401.7h6.4v4.3H478.2zM487.8 401.7h3.2v4.3H487.8zM494.2 401.7h9.6v4.3H494.2zM506.9 401.7h3.2v4.3H506.9zM519.7 401.7h3.2v4.3H519.7zM535.6 401.7h38.3v4.3H535.6zM580.2 401.7h9.6v4.3H580.2zM599.4 401.7h6.4v4.3H599.4zM385.8 406.0h6.4v4.6H385.8zM398.5 406.0h6.4v4.6H398.5zM408.1 406.0h6.4v4.6H408.1zM417.7 406.0h9.6v4.6H417.7zM430.4 406.0h12.8v4.6H430.4zM455.9 406.0h9.6v4.6H455.9zM487.8 406.0h35.1v4.6H487.8zM535.6 406.0h22.4v4.6H535.6zM561.1 406.0h12.8v4.6H561.1zM583.4 406.0h19.2v4.6H583.4zM389.0 410.6h3.2v5.0H389.0zM398.5 410.6h6.4v5.0H398.5zM417.7 410.6h16.0v5.0H417.7zM440.0 410.6h3.2v5.0H440.0zM446.4 410.6h3.2v5.0H446.4zM462.3 410.6h3.2v5.0H462.3zM468.7 410.6h16.0v5.0H468.7zM487.8 410.6h3.2v5.0H487.8zM494.2 410.6h9.6v5.0H494.2zM510.1 410.6h3.2v5.0H510.1zM522.9 410.6h6.4v5.0H522.9zM532.4 410.6h9.6v5.0H532.4zM545.2 410.6h9.6v5.0H545.2zM561.1 410.6h12.8v5.0H561.1zM417.7 415.5h6.4v5.5H417.7zM440.0 415.5h3.2v5.5H440.0zM446.4 415.5h3.2v5.5H446.4zM462.3 415.5h3.2v5.5H462.3zM468.7 415.5h6.4v5.5H468.7zM494.2 415.5h3.2v5.5H494.2zM519.7 415.5h6.4v5.5H519.7zM532.4 415.5h6.4v5.5H532.4zM545.2 415.5h3.2v5.5H545.2zM557.9 415.5h6.4v5.5H557.9zM417.7 420.9h6.4v6.1H417.7zM440.0 420.9h3.2v6.1H440.0zM446.4 420.9h3.2v6.1H446.4zM462.3 420.9h3.2v6.1H462.3zM468.7 420.9h6.4v6.1H468.7zM494.2 420.9h3.2v6.1H494.2zM557.9 420.9h6.4v6.1H557.9z"/><path fill="#72ebdc" d="M392.8 319.4h1.9v3.0h-1.9zM494.8 337.0h1.9v2.3h-1.9zM603.2 337.0h1.9v2.3h-1.9zM466.1 344.4h1.9v2.1h-1.9zM596.8 344.4h1.9v2.1h-1.9zM466.1 351.4h1.9v2.0h-1.9zM507.6 351.4h1.9v2.0h-1.9zM485.2 380.5h1.9v2.0h-1.9zM418.3 383.9h1.9v2.1h-1.9zM488.4 387.3h1.9v2.1h-1.9zM545.8 390.9h1.9v2.2h-1.9zM580.9 390.9h1.9v2.2h-1.9zM418.3 394.6h1.9v2.3h-1.9zM466.1 394.6h1.9v2.3h-1.9zM542.6 394.6h1.9v2.3h-1.9zM539.4 398.5h1.9v2.4h-1.9zM549.0 398.5h1.9v2.4h-1.9zM555.4 398.5h1.9v2.4h-1.9zM389.6 402.6h1.9v2.6h-1.9zM408.7 402.6h1.9v2.6h-1.9zM542.6 402.6h1.9v2.6h-1.9zM399.2 406.9h1.9v2.7h-1.9zM440.6 406.9h1.9v2.7h-1.9zM552.2 406.9h1.9v2.7h-1.9zM571.3 411.6h1.9v3.0h-1.9z"/><path fill="#dfbb8a" d="M577.7 319.4h1.9v3.0h-1.9zM593.6 319.4h1.9v3.0h-1.9zM603.2 333.0h1.9v2.4h-1.9zM568.1 340.8h1.9v2.2h-1.9zM593.6 340.8h1.9v2.2h-1.9zM520.3 344.4h1.9v2.1h-1.9zM564.9 344.4h1.9v2.1h-1.9zM459.7 348.0h1.9v2.1h-1.9zM456.6 351.4h1.9v2.0h-1.9zM533.1 351.4h1.9v2.0h-1.9zM577.7 351.4h1.9v2.0h-1.9zM453.4 354.7h1.9v2.0h-1.9zM584.1 354.7h1.9v2.0h-1.9zM523.5 380.5h1.9v2.0h-1.9zM600.0 380.5h1.9v2.0h-1.9zM443.8 383.9h1.9v2.1h-1.9zM549.0 383.9h1.9v2.1h-1.9zM383.2 387.3h1.9v2.1h-1.9zM402.4 387.3h1.9v2.1h-1.9zM431.1 387.3h1.9v2.1h-1.9zM396.0 390.9h1.9v2.2h-1.9zM520.3 390.9h1.9v2.2h-1.9zM577.7 390.9h1.9v2.2h-1.9zM392.8 394.6h1.9v2.3h-1.9zM593.6 394.6h1.9v2.3h-1.9zM402.4 402.6h1.9v2.6h-1.9zM418.3 402.6h1.9v2.6h-1.9zM498.0 406.9h1.9v2.7h-1.9zM593.6 406.9h1.9v2.7h-1.9zM574.5 411.6h1.9v3.0h-1.9z"/><path fill="#a51c33" d="M590.4 319.4h1.9v3.0h-1.9zM596.8 324.2h1.9v2.7h-1.9zM485.2 328.8h1.9v2.6h-1.9zM466.1 340.8h1.9v2.2h-1.9zM520.3 340.8h1.9v2.2h-1.9zM564.9 340.8h1.9v2.2h-1.9zM469.3 344.4h1.9v2.1h-1.9zM485.2 344.4h1.9v2.1h-1.9zM561.7 344.4h1.9v2.1h-1.9zM568.1 344.4h1.9v2.1h-1.9zM593.6 344.4h1.9v2.1h-1.9zM482.1 348.0h1.9v2.1h-1.9zM564.9 348.0h1.9v2.1h-1.9zM596.8 348.0h1.9v2.1h-1.9zM469.3 351.4h1.9v2.0h-1.9zM568.1 351.4h1.9v2.0h-1.9zM574.5 351.4h1.9v2.0h-1.9zM418.3 354.7h1.9v2.0h-1.9zM456.6 354.7h1.9v2.0h-1.9zM507.6 354.7h1.9v2.0h-1.9zM510.7 377.2h1.9v2.0h-1.9zM434.2 387.3h1.9v2.1h-1.9zM383.2 394.6h1.9v2.3h-1.9zM520.3 394.6h1.9v2.3h-1.9zM447.0 398.5h1.9v2.4h-1.9zM399.2 402.6h1.9v2.6h-1.9zM405.6 402.6h1.9v2.6h-1.9zM396.0 406.9h1.9v2.7h-1.9zM443.8 406.9h1.9v2.7h-1.9zM504.4 422.1h1.9v3.6h-1.9z"/>
<use href="#nodata" transform="translate(341.50,306.30)"/>
<rect x="382.6" y="360.57" width="229.60000000000002" height="12.76" fill="#e3e3e3"/>
<use href="#land" transform="translate(341.50,306.30)"/>
</g>
<rect x="382.6" y="318.35" width="229.60000000000002" height="108.64999999999998" fill="none" stroke="#000" stroke-width="1.3"/>
<path d="M382.60,318.35v-2.2M382.60,427.0v2.2M420.87,318.35v-2.2M420.87,427.0v2.2M459.13,318.35v-2.2M459.13,427.0v2.2M497.40,318.35v-2.2M497.40,427.0v2.2M535.67,318.35v-2.2M535.67,427.0v2.2M573.93,318.35v-2.2M573.93,427.0v2.2M612.20,318.35v-2.2M612.20,427.0v2.2M382.6,323.33h-2.2M612.2,323.33h2.2M382.6,347.28h-2.2M612.2,347.28h2.2M382.6,366.95h-2.2M612.2,366.95h2.2M382.6,386.62h-2.2M612.2,386.62h2.2M382.6,410.57h-2.2M612.2,410.57h2.2" stroke="#000" stroke-width="1.1" fill="none"/>
<text transform="translate(377.10,326.83) scale(0.9346,1)" font-size="10.06" text-anchor="end">60°N</text>
<text transform="translate(377.10,350.78) scale(0.9346,1)" font-size="10.06" text-anchor="end">30°N</text>
<text transform="translate(374.80,370.45) scale(0.9346,1)" font-size="10.06" text-anchor="end">0°</text>
<text transform="translate(377.10,390.12) scale(0.9346,1)" font-size="10.06" text-anchor="end">30°S</text>
<text transform="translate(377.10,414.07) scale(0.9346,1)" font-size="10.06" text-anchor="end">60°S</text>
<text transform="translate(383.30,439.30) scale(0.9346,1)" font-size="10.06" text-anchor="middle">0°</text>
<text transform="translate(420.87,439.30) scale(0.9346,1)" font-size="10.06" text-anchor="middle">60°E</text>
<text transform="translate(459.13,439.30) scale(0.9346,1)" font-size="10.06" text-anchor="middle">120°E</text>
<text transform="translate(498.10,439.30) scale(0.9346,1)" font-size="10.06" text-anchor="middle">180°</text>
<text transform="translate(535.67,439.30) scale(0.9346,1)" font-size="10.06" text-anchor="middle">120°W</text>
<text transform="translate(573.93,439.30) scale(0.9346,1)" font-size="10.06" text-anchor="middle">60°W</text>
<text transform="translate(612.90,439.30) scale(0.9346,1)" font-size="10.06" text-anchor="middle">0°</text>
<text transform="translate(497.80,454.50) scale(0.9346,1)" font-size="10.06" text-anchor="middle">Longitude</text>
<text x="0" y="0" text-anchor="middle" transform="translate(349.00,371.57) rotate(-90) scale(0.9346,1)" font-size="10.06">Latitude</text>
<text transform="translate(497.40,315.95) scale(0.9346,1)" font-size="10.22" text-anchor="middle">Contribution of first dominant sources in summer</text>
<text x="373.00" y="315.25" font-size="13.4" font-weight="bold">g</text>
<clipPath id="cd"><rect x="41.1" y="471.50000000000006" width="229.50000000000003" height="108.65000000000003"/></clipPath>
<g clip-path="url(#cd)">
<rect x="41.1" y="471.50000000000006" width="229.50000000000003" height="108.65000000000003" fill="#fff"/>
<path fill="#f5682c" d="M41.1 471.5h3.2v5.0H41.1zM82.5 471.5h12.8v5.0H82.5zM133.5 471.5h3.2v5.0H133.5zM139.9 471.5h12.8v5.0H139.9zM168.6 471.5h3.2v5.0H168.6zM175.0 471.5h6.4v5.0H175.0zM187.7 471.5h9.6v5.0H187.7zM232.4 471.5h38.3v5.0H232.4zM50.7 476.5h3.2v4.6H50.7zM79.3 476.5h16.0v4.6H79.3zM133.5 476.5h3.2v4.6H133.5zM143.1 476.5h9.6v4.6H143.1zM159.0 476.5h12.8v4.6H159.0zM175.0 476.5h6.4v4.6H175.0zM187.7 476.5h9.6v4.6H187.7zM232.4 476.5h22.4v4.6H232.4zM264.2 476.5h6.4v4.6H264.2zM50.7 481.1h3.2v4.3H50.7zM69.8 481.1h6.4v4.3H69.8zM79.3 481.1h16.0v4.3H79.3zM104.9 481.1h16.0v4.3H104.9zM133.5 481.1h28.7v4.3H133.5zM165.4 481.1h6.4v4.3H165.4zM187.7 481.1h12.8v4.3H187.7zM238.7 481.1h16.0v4.3H238.7zM50.7 485.3h3.2v4.1H50.7zM69.8 485.3h6.4v4.1H69.8zM79.3 485.3h16.0v4.1H79.3zM104.9 485.3h16.0v4.1H104.9zM127.2 485.3h6.4v4.1H127.2zM136.7 485.3h6.4v4.1H136.7zM155.9 485.3h6.4v4.1H155.9zM165.4 485.3h3.2v4.1H165.4zM187.7 485.3h16.0v4.1H187.7zM226.0 485.3h31.9v4.1H226.0zM53.9 489.4h3.2v3.9H53.9zM69.8 489.4h6.4v3.9H69.8zM79.3 489.4h16.0v3.9H79.3zM104.9 489.4h16.0v3.9H104.9zM130.4 489.4h3.2v3.9H130.4zM184.5 489.4h19.2v3.9H184.5zM226.0 489.4h19.2v3.9H226.0zM248.3 489.4h3.2v3.9H248.3zM254.7 489.4h6.4v3.9H254.7zM53.9 493.2h3.2v3.7H53.9zM69.8 493.2h6.4v3.7H69.8zM79.3 493.2h16.0v3.7H79.3zM104.9 493.2h16.0v3.7H104.9zM187.7 493.2h19.2v3.7H187.7zM254.7 493.2h3.2v3.7H254.7zM69.8 496.9h6.4v3.6H69.8zM79.3 496.9h16.0v3.6H79.3zM261.0 496.9h6.4v3.6H261.0zM69.8 500.4h6.4v3.5H69.8zM79.3 500.4h16.0v3.5H79.3zM127.2 500.4h9.6v3.5H127.2zM171.8 500.4h3.2v3.5H171.8zM261.0 500.4h6.4v3.5H261.0zM69.8 503.9h3.2v3.4H69.8zM79.3 503.9h16.0v3.4H79.3zM104.9 503.9h9.6v3.4H104.9zM117.6 503.9h3.2v3.4H117.6zM130.4 503.9h6.4v3.4H130.4zM168.6 503.9h9.6v3.4H168.6zM194.1 503.9h3.2v3.4H194.1zM248.3 503.9h3.2v3.4H248.3zM257.9 503.9h12.8v3.4H257.9zM76.2 507.2h6.4v3.3H76.2zM95.3 507.2h6.4v3.3H95.3zM108.0 507.2h6.4v3.3H108.0zM117.6 507.2h6.4v3.3H117.6zM133.5 507.2h3.2v3.3H133.5zM149.5 507.2h6.4v3.3H149.5zM165.4 507.2h6.4v3.3H165.4zM194.1 507.2h3.2v3.3H194.1zM200.5 507.2h12.8v3.3H200.5zM226.0 507.2h16.0v3.3H226.0zM245.1 507.2h6.4v3.3H245.1zM254.7 507.2h3.2v3.3H254.7zM69.8 510.5h3.2v3.3H69.8zM76.2 510.5h3.2v3.3H76.2zM95.3 510.5h6.4v3.3H95.3zM108.0 510.5h6.4v3.3H108.0zM117.6 510.5h3.2v3.3H117.6zM171.8 510.5h3.2v3.3H171.8zM178.2 510.5h3.2v3.3H178.2zM184.5 510.5h3.2v3.3H184.5zM197.3 510.5h3.2v3.3H197.3zM213.2 510.5h6.4v3.3H213.2zM222.8 510.5h9.6v3.3H222.8zM235.5 510.5h6.4v3.3H235.5zM245.1 510.5h12.8v3.3H245.1zM69.8 513.7h3.2v3.2H69.8zM76.2 513.7h3.2v3.2H76.2zM95.3 513.7h6.4v3.2H95.3zM108.0 513.7h6.4v3.2H108.0zM117.6 513.7h3.2v3.2H117.6zM171.8 513.7h3.2v3.2H171.8zM178.2 513.7h3.2v3.2H178.2zM184.5 513.7h3.2v3.2H184.5zM197.3 513.7h3.2v3.2H197.3zM213.2 513.7h6.4v3.2H213.2zM222.8 513.7h9.6v3.2H222.8zM235.5 513.7h6.4v3.2H235.5zM245.1 513.7h12.8v3.2H245.1zM69.8 516.9h3.2v3.2H69.8zM76.2 516.9h3.2v3.2H76.2zM95.3 516.9h6.4v3.2H95.3zM108.0 516.9h6.4v3.2H108.0zM117.6 516.9h3.2v3.2H117.6zM171.8 516.9h3.2v3.2H171.8zM178.2 516.9h3.2v3.2H178.2zM184.5 516.9h3.2v3.2H184.5zM197.3 516.9h3.2v3.2H197.3zM213.2 516.9h6.4v3.2H213.2zM222.8 516.9h9.6v3.2H222.8zM235.5 516.9h6.4v3.2H235.5zM245.1 516.9h12.8v3.2H245.1zM69.8 520.1h9.6v3.2H69.8zM98.5 520.1h3.2v3.2H98.5zM104.9 520.1h3.2v3.2H104.9zM117.6 520.1h3.2v3.2H117.6zM133.5 520.1h3.2v3.2H133.5zM139.9 520.1h3.2v3.2H139.9zM146.3 520.1h3.2v3.2H146.3zM210.0 520.1h3.2v3.2H210.0zM219.6 520.1h12.8v3.2H219.6zM235.5 520.1h6.4v3.2H235.5zM254.7 520.1h3.2v3.2H254.7zM73.0 523.3h6.4v3.2H73.0zM98.5 523.3h3.2v3.2H98.5zM104.9 523.3h3.2v3.2H104.9zM127.2 523.3h9.6v3.2H127.2zM139.9 523.3h3.2v3.2H139.9zM146.3 523.3h3.2v3.2H146.3zM210.0 523.3h3.2v3.2H210.0zM219.6 523.3h12.8v3.2H219.6zM235.5 523.3h3.2v3.2H235.5zM254.7 523.3h3.2v3.2H254.7zM73.0 526.5h6.4v3.3H73.0zM98.5 526.5h3.2v3.3H98.5zM104.9 526.5h3.2v3.3H104.9zM127.2 526.5h9.6v3.3H127.2zM139.9 526.5h3.2v3.3H139.9zM146.3 526.5h3.2v3.3H146.3zM210.0 526.5h3.2v3.3H210.0zM219.6 526.5h16.0v3.3H219.6zM254.7 526.5h3.2v3.3H254.7zM57.0 529.7h19.2v3.3H57.0zM95.3 529.7h6.4v3.3H95.3zM104.9 529.7h3.2v3.3H104.9zM127.2 529.7h9.6v3.3H127.2zM146.3 529.7h3.2v3.3H146.3zM219.6 529.7h16.0v3.3H219.6zM44.3 533.0h12.8v3.4H44.3zM66.6 533.0h12.8v3.4H66.6zM98.5 533.0h3.2v3.4H98.5zM108.0 533.0h6.4v3.4H108.0zM127.2 533.0h12.8v3.4H127.2zM168.6 533.0h3.2v3.4H168.6zM241.9 533.0h6.4v3.4H241.9zM66.6 536.3h16.0v3.5H66.6zM139.9 536.3h3.2v3.5H139.9zM241.9 536.3h6.4v3.5H241.9zM66.6 539.8h12.8v3.6H66.6zM108.0 539.8h3.2v3.6H108.0zM130.4 539.8h3.2v3.6H130.4zM139.9 539.8h3.2v3.6H139.9zM229.2 539.8h6.4v3.6H229.2zM50.7 543.3h12.8v3.7H50.7zM66.6 543.3h6.4v3.7H66.6zM79.3 543.3h3.2v3.7H79.3zM108.0 543.3h9.6v3.7H108.0zM130.4 543.3h6.4v3.7H130.4zM187.7 543.3h3.2v3.7H187.7zM203.7 543.3h3.2v3.7H203.7zM229.2 543.3h9.6v3.7H229.2zM41.1 547.0h22.4v3.9H41.1zM66.6 547.0h9.6v3.9H66.6zM79.3 547.0h12.8v3.9H79.3zM101.7 547.0h6.4v3.9H101.7zM111.2 547.0h12.8v3.9H111.2zM130.4 547.0h6.4v3.9H130.4zM155.9 547.0h6.4v3.9H155.9zM178.2 547.0h12.8v3.9H178.2zM203.7 547.0h6.4v3.9H203.7zM226.0 547.0h6.4v3.9H226.0zM235.5 547.0h3.2v3.9H235.5zM251.5 547.0h19.2v3.9H251.5zM41.1 550.8h22.4v4.1H41.1zM66.6 550.8h35.1v4.1H66.6zM104.9 550.8h3.2v4.1H104.9zM111.2 550.8h16.0v4.1H111.2zM133.5 550.8h6.4v4.1H133.5zM159.0 550.8h12.8v4.1H159.0zM181.4 550.8h3.2v4.1H181.4zM200.5 550.8h9.6v4.1H200.5zM213.2 550.8h19.2v4.1H213.2zM235.5 550.8h35.1v4.1H235.5zM41.1 554.9h9.6v4.3H41.1zM57.0 554.9h44.7v4.3H57.0zM104.9 554.9h44.7v4.3H104.9zM152.7 554.9h19.2v4.3H152.7zM175.0 554.9h6.4v4.3H175.0zM187.7 554.9h3.2v4.3H187.7zM197.3 554.9h73.4v4.3H197.3zM41.1 559.1h9.6v4.6H41.1zM57.0 559.1h3.2v4.6H57.0zM63.4 559.1h3.2v4.6H63.4zM69.8 559.1h41.5v4.6H69.8zM114.4 559.1h57.4v4.6H114.4zM175.0 559.1h95.7v4.6H175.0zM41.1 563.7h6.4v5.0H41.1zM50.7 563.7h6.4v5.0H50.7zM63.4 563.7h3.2v5.0H63.4zM69.8 563.7h6.4v5.0H69.8zM79.3 563.7h28.7v5.0H79.3zM114.4 563.7h3.2v5.0H114.4zM120.8 563.7h3.2v5.0H120.8zM130.4 563.7h22.4v5.0H130.4zM155.9 563.7h6.4v5.0H155.9zM175.0 563.7h25.5v5.0H175.0zM206.9 563.7h38.3v5.0H206.9zM251.5 563.7h3.2v5.0H251.5zM44.3 568.7h3.2v5.5H44.3zM50.7 568.7h6.4v5.5H50.7zM60.2 568.7h3.2v5.5H60.2zM66.6 568.7h9.6v5.5H66.6zM79.3 568.7h9.6v5.5H79.3zM92.1 568.7h16.0v5.5H92.1zM114.4 568.7h3.2v5.5H114.4zM120.8 568.7h3.2v5.5H120.8zM130.4 568.7h3.2v5.5H130.4zM146.3 568.7h6.4v5.5H146.3zM155.9 568.7h6.4v5.5H155.9zM171.8 568.7h54.2v5.5H171.8zM257.9 568.7h3.2v5.5H257.9zM44.3 574.1h3.2v6.1H44.3zM50.7 574.1h6.4v6.1H50.7zM60.2 574.1h3.2v6.1H60.2zM66.6 574.1h9.6v6.1H66.6zM79.3 574.1h9.6v6.1H79.3zM92.1 574.1h16.0v6.1H92.1zM114.4 574.1h3.2v6.1H114.4zM120.8 574.1h3.2v6.1H120.8zM130.4 574.1h3.2v6.1H130.4zM146.3 574.1h6.4v6.1H146.3zM162.2 574.1h16.0v6.1H162.2zM190.9 574.1h6.4v6.1H190.9zM206.9 574.1h3.2v6.1H206.9zM216.4 574.1h9.6v6.1H216.4zM251.5 574.1h9.6v6.1H251.5z"/><path fill="#cc4b1c" d="M95.3 471.5h6.4v5.0H95.3zM136.7 471.5h3.2v5.0H136.7zM152.7 471.5h6.4v5.0H152.7zM95.3 476.5h6.4v4.6H95.3zM136.7 476.5h6.4v4.6H136.7zM152.7 476.5h6.4v4.6H152.7zM254.7 476.5h3.2v4.6H254.7zM76.2 481.1h3.2v4.3H76.2zM95.3 481.1h6.4v4.3H95.3zM254.7 481.1h3.2v4.3H254.7zM76.2 485.3h3.2v4.1H76.2zM95.3 485.3h6.4v4.1H95.3zM76.2 489.4h3.2v3.9H76.2zM95.3 489.4h6.4v3.9H95.3zM76.2 493.2h3.2v3.7H76.2zM95.3 493.2h6.4v3.7H95.3zM76.2 496.9h3.2v3.6H76.2zM95.3 496.9h6.4v3.6H95.3zM76.2 500.4h3.2v3.5H76.2zM95.3 500.4h6.4v3.5H95.3zM76.2 503.9h3.2v3.4H76.2zM95.3 503.9h6.4v3.4H95.3zM82.5 533.0h3.2v3.4H82.5zM171.8 533.0h6.4v3.4H171.8zM82.5 536.3h3.2v3.5H82.5zM168.6 536.3h9.6v3.5H168.6zM190.9 539.8h12.8v3.6H190.9zM235.5 539.8h19.2v3.6H235.5zM95.3 543.3h3.2v3.7H95.3zM190.9 543.3h12.8v3.7H190.9zM238.7 543.3h19.2v3.7H238.7zM63.4 547.0h3.2v3.9H63.4zM95.3 547.0h6.4v3.9H95.3zM108.0 547.0h3.2v3.9H108.0zM165.4 547.0h12.8v3.9H165.4zM190.9 547.0h12.8v3.9H190.9zM63.4 550.8h3.2v4.1H63.4zM108.0 550.8h3.2v4.1H108.0zM127.2 550.8h6.4v4.1H127.2zM171.8 550.8h9.6v4.1H171.8zM184.5 550.8h16.0v4.1H184.5zM50.7 554.9h6.4v4.3H50.7zM171.8 554.9h3.2v4.3H171.8zM190.9 554.9h6.4v4.3H190.9zM50.7 559.1h6.4v4.6H50.7zM60.2 559.1h3.2v4.6H60.2zM66.6 559.1h3.2v4.6H66.6zM111.2 559.1h3.2v4.6H111.2zM171.8 559.1h3.2v4.6H171.8zM47.5 563.7h3.2v5.0H47.5zM57.0 563.7h6.4v5.0H57.0zM66.6 563.7h3.2v5.0H66.6zM76.2 563.7h3.2v5.0H76.2zM108.0 563.7h6.4v5.0H108.0zM117.6 563.7h3.2v5.0H117.6zM124.0 563.7h6.4v5.0H124.0zM152.7 563.7h3.2v5.0H152.7zM162.2 563.7h12.8v5.0H162.2zM245.1 563.7h6.4v5.0H245.1zM254.7 563.7h16.0v5.0H254.7zM41.1 568.7h3.2v5.5H41.1zM47.5 568.7h3.2v5.5H47.5zM57.0 568.7h3.2v5.5H57.0zM63.4 568.7h3.2v5.5H63.4zM76.2 568.7h3.2v5.5H76.2zM88.9 568.7h3.2v5.5H88.9zM108.0 568.7h6.4v5.5H108.0zM117.6 568.7h3.2v5.5H117.6zM124.0 568.7h6.4v5.5H124.0zM152.7 568.7h3.2v5.5H152.7zM162.2 568.7h9.6v5.5H162.2zM241.9 568.7h16.0v5.5H241.9zM261.0 568.7h9.6v5.5H261.0zM41.1 574.1h3.2v6.1H41.1zM47.5 574.1h3.2v6.1H47.5zM57.0 574.1h3.2v6.1H57.0zM63.4 574.1h3.2v6.1H63.4zM76.2 574.1h3.2v6.1H76.2zM88.9 574.1h3.2v6.1H88.9zM108.0 574.1h6.4v6.1H108.0zM117.6 574.1h3.2v6.1H117.6zM124.0 574.1h6.4v6.1H124.0zM152.7 574.1h9.6v6.1H152.7zM261.0 574.1h9.6v6.1H261.0z"/><path fill="#52a8f5" d="M101.7 471.5h3.2v5.0H101.7zM171.8 471.5h3.2v5.0H171.8zM181.4 471.5h6.4v5.0H181.4zM41.1 476.5h3.2v4.6H41.1zM101.7 476.5h3.2v4.6H101.7zM171.8 476.5h3.2v4.6H171.8zM181.4 476.5h6.4v4.6H181.4zM257.9 476.5h6.4v4.6H257.9zM41.1 481.1h3.2v4.3H41.1zM101.7 481.1h3.2v4.3H101.7zM162.2 481.1h3.2v4.3H162.2zM171.8 481.1h16.0v4.3H171.8zM222.8 481.1h16.0v4.3H222.8zM257.9 481.1h12.8v4.3H257.9zM41.1 485.3h3.2v4.1H41.1zM47.5 485.3h3.2v4.1H47.5zM57.0 485.3h12.8v4.1H57.0zM101.7 485.3h3.2v4.1H101.7zM120.8 485.3h6.4v4.1H120.8zM133.5 485.3h3.2v4.1H133.5zM143.1 485.3h12.8v4.1H143.1zM162.2 485.3h3.2v4.1H162.2zM168.6 485.3h19.2v4.1H168.6zM219.6 485.3h6.4v4.1H219.6zM257.9 485.3h12.8v4.1H257.9zM41.1 489.4h12.8v3.9H41.1zM57.0 489.4h12.8v3.9H57.0zM101.7 489.4h3.2v3.9H101.7zM120.8 489.4h9.6v3.9H120.8zM133.5 489.4h51.0v3.9H133.5zM216.4 489.4h9.6v3.9H216.4zM245.1 489.4h3.2v3.9H245.1zM251.5 489.4h3.2v3.9H251.5zM261.0 489.4h9.6v3.9H261.0zM41.1 493.2h12.8v3.7H41.1zM57.0 493.2h12.8v3.7H57.0zM101.7 493.2h3.2v3.7H101.7zM120.8 493.2h67.0v3.7H120.8zM206.9 493.2h47.9v3.7H206.9zM257.9 493.2h12.8v3.7H257.9zM41.1 496.9h28.7v3.6H41.1zM101.7 496.9h114.8v3.6H101.7zM222.8 496.9h38.3v3.6H222.8zM267.4 496.9h3.2v3.6H267.4zM41.1 500.4h28.7v3.5H41.1zM101.7 500.4h25.6v3.5H101.7zM136.7 500.4h35.1v3.5H136.7zM175.0 500.4h86.1v3.5H175.0zM267.4 500.4h3.2v3.5H267.4zM41.1 503.9h28.7v3.4H41.1zM101.7 503.9h3.2v3.4H101.7zM114.4 503.9h3.2v3.4H114.4zM120.8 503.9h9.6v3.4H120.8zM136.7 503.9h19.2v3.4H136.7zM165.4 503.9h3.2v3.4H165.4zM178.2 503.9h16.0v3.4H178.2zM197.3 503.9h22.4v3.4H197.3zM222.8 503.9h25.6v3.4H222.8zM251.5 503.9h6.4v3.4H251.5zM41.1 507.2h31.9v3.3H41.1zM82.5 507.2h9.6v3.3H82.5zM101.7 507.2h6.4v3.3H101.7zM124.0 507.2h9.6v3.3H124.0zM136.7 507.2h9.6v3.3H136.7zM171.8 507.2h22.4v3.3H171.8zM197.3 507.2h3.2v3.3H197.3zM213.2 507.2h6.4v3.3H213.2zM222.8 507.2h3.2v3.3H222.8zM241.9 507.2h3.2v3.3H241.9zM251.5 507.2h3.2v3.3H251.5zM257.9 507.2h12.8v3.3H257.9zM41.1 510.5h25.5v3.3H41.1zM82.5 510.5h9.6v3.3H82.5zM101.7 510.5h6.4v3.3H101.7zM120.8 510.5h25.6v3.3H120.8zM149.5 510.5h3.2v3.3H149.5zM155.9 510.5h6.4v3.3H155.9zM168.6 510.5h3.2v3.3H168.6zM175.0 510.5h3.2v3.3H175.0zM181.4 510.5h3.2v3.3H181.4zM187.7 510.5h9.6v3.3H187.7zM200.5 510.5h3.2v3.3H200.5zM206.9 510.5h3.2v3.3H206.9zM232.4 510.5h3.2v3.3H232.4zM241.9 510.5h3.2v3.3H241.9zM257.9 510.5h12.8v3.3H257.9zM41.1 513.7h3.2v3.2H41.1zM47.5 513.7h19.2v3.2H47.5zM82.5 513.7h9.6v3.2H82.5zM101.7 513.7h6.4v3.2H101.7zM120.8 513.7h25.6v3.2H120.8zM149.5 513.7h3.2v3.2H149.5zM155.9 513.7h6.4v3.2H155.9zM168.6 513.7h3.2v3.2H168.6zM175.0 513.7h3.2v3.2H175.0zM181.4 513.7h3.2v3.2H181.4zM187.7 513.7h9.6v3.2H187.7zM200.5 513.7h3.2v3.2H200.5zM206.9 513.7h3.2v3.2H206.9zM232.4 513.7h3.2v3.2H232.4zM241.9 513.7h3.2v3.2H241.9zM257.9 513.7h12.8v3.2H257.9zM41.1 516.9h3.2v3.2H41.1zM53.9 516.9h12.8v3.2H53.9zM82.5 516.9h9.6v3.2H82.5zM101.7 516.9h6.4v3.2H101.7zM120.8 516.9h25.6v3.2H120.8zM149.5 516.9h3.2v3.2H149.5zM155.9 516.9h6.4v3.2H155.9zM168.6 516.9h3.2v3.2H168.6zM175.0 516.9h3.2v3.2H175.0zM181.4 516.9h3.2v3.2H181.4zM187.7 516.9h9.6v3.2H187.7zM200.5 516.9h3.2v3.2H200.5zM206.9 516.9h3.2v3.2H206.9zM232.4 516.9h3.2v3.2H232.4zM241.9 516.9h3.2v3.2H241.9zM257.9 516.9h12.8v3.2H257.9zM41.1 520.1h3.2v3.2H41.1zM57.0 520.1h12.8v3.2H57.0zM79.3 520.1h3.2v3.2H79.3zM85.7 520.1h12.8v3.2H85.7zM101.7 520.1h3.2v3.2H101.7zM108.0 520.1h3.2v3.2H108.0zM120.8 520.1h12.8v3.2H120.8zM136.7 520.1h3.2v3.2H136.7zM143.1 520.1h3.2v3.2H143.1zM149.5 520.1h6.4v3.2H149.5zM159.0 520.1h6.4v3.2H159.0zM175.0 520.1h35.1v3.2H175.0zM213.2 520.1h6.4v3.2H213.2zM232.4 520.1h3.2v3.2H232.4zM241.9 520.1h12.8v3.2H241.9zM257.9 520.1h12.8v3.2H257.9zM41.1 523.3h3.2v3.2H41.1zM57.0 523.3h16.0v3.2H57.0zM79.3 523.3h3.2v3.2H79.3zM85.7 523.3h12.8v3.2H85.7zM101.7 523.3h3.2v3.2H101.7zM108.0 523.3h3.2v3.2H108.0zM124.0 523.3h3.2v3.2H124.0zM136.7 523.3h3.2v3.2H136.7zM143.1 523.3h3.2v3.2H143.1zM149.5 523.3h6.4v3.2H149.5zM159.0 523.3h6.4v3.2H159.0zM175.0 523.3h35.1v3.2H175.0zM213.2 523.3h6.4v3.2H213.2zM232.4 523.3h3.2v3.2H232.4zM238.7 523.3h16.0v3.2H238.7zM257.9 523.3h12.8v3.2H257.9zM41.1 526.5h3.2v3.3H41.1zM57.0 526.5h16.0v3.3H57.0zM79.3 526.5h3.2v3.3H79.3zM85.7 526.5h12.8v3.3H85.7zM101.7 526.5h3.2v3.3H101.7zM108.0 526.5h3.2v3.3H108.0zM136.7 526.5h3.2v3.3H136.7zM143.1 526.5h3.2v3.3H143.1zM149.5 526.5h6.4v3.3H149.5zM159.0 526.5h6.4v3.3H159.0zM175.0 526.5h35.1v3.3H175.0zM213.2 526.5h6.4v3.3H213.2zM235.5 526.5h19.2v3.3H235.5zM257.9 526.5h12.8v3.3H257.9zM41.1 529.7h16.0v3.3H41.1zM76.2 529.7h19.2v3.3H76.2zM101.7 529.7h3.2v3.3H101.7zM108.0 529.7h3.2v3.3H108.0zM136.7 529.7h9.6v3.3H136.7zM149.5 529.7h19.2v3.3H149.5zM171.8 529.7h47.9v3.3H171.8zM235.5 529.7h35.1v3.3H235.5zM41.1 533.0h3.2v3.4H41.1zM57.0 533.0h9.6v3.4H57.0zM79.3 533.0h3.2v3.4H79.3zM85.7 533.0h12.8v3.4H85.7zM101.7 533.0h6.4v3.4H101.7zM120.8 533.0h6.4v3.4H120.8zM139.9 533.0h28.7v3.4H139.9zM178.2 533.0h63.8v3.4H178.2zM248.3 533.0h22.4v3.4H248.3zM41.1 536.3h25.5v3.5H41.1zM85.7 536.3h54.2v3.5H85.7zM143.1 536.3h25.6v3.5H143.1zM178.2 536.3h63.8v3.5H178.2zM248.3 536.3h22.4v3.5H248.3zM41.1 539.8h25.5v3.6H41.1zM79.3 539.8h28.7v3.6H79.3zM111.2 539.8h19.2v3.6H111.2zM133.5 539.8h6.4v3.6H133.5zM143.1 539.8h47.9v3.6H143.1zM203.7 539.8h25.6v3.6H203.7zM254.7 539.8h16.0v3.6H254.7zM41.1 543.3h9.6v3.7H41.1zM63.4 543.3h3.2v3.7H63.4zM73.0 543.3h6.4v3.7H73.0zM82.5 543.3h12.8v3.7H82.5zM98.5 543.3h9.6v3.7H98.5zM117.6 543.3h12.8v3.7H117.6zM136.7 543.3h51.0v3.7H136.7zM206.9 543.3h22.4v3.7H206.9zM257.9 543.3h12.8v3.7H257.9zM76.2 547.0h3.2v3.9H76.2zM92.1 547.0h3.2v3.9H92.1zM124.0 547.0h6.4v3.9H124.0zM136.7 547.0h19.2v3.9H136.7zM162.2 547.0h3.2v3.9H162.2zM210.0 547.0h16.0v3.9H210.0zM232.4 547.0h3.2v3.9H232.4zM238.7 547.0h12.8v3.9H238.7zM101.7 550.8h3.2v4.1H101.7zM139.9 550.8h19.2v4.1H139.9zM210.0 550.8h3.2v4.1H210.0zM232.4 550.8h3.2v4.1H232.4zM101.7 554.9h3.2v4.3H101.7zM149.5 554.9h3.2v4.3H149.5zM181.4 554.9h6.4v4.3H181.4zM200.5 563.7h6.4v5.0H200.5z"/><path fill="#515f8f" d="M216.4 496.9h6.4v3.6H216.4zM155.9 503.9h9.6v3.4H155.9zM73.0 507.2h3.2v3.3H73.0zM92.1 507.2h3.2v3.3H92.1zM114.4 507.2h3.2v3.3H114.4zM146.3 507.2h3.2v3.3H146.3zM155.9 507.2h9.6v3.3H155.9zM219.6 507.2h3.2v3.3H219.6zM73.0 510.5h3.2v3.3H73.0zM79.3 510.5h3.2v3.3H79.3zM92.1 510.5h3.2v3.3H92.1zM114.4 510.5h3.2v3.3H114.4zM146.3 510.5h3.2v3.3H146.3zM152.7 510.5h3.2v3.3H152.7zM162.2 510.5h6.4v3.3H162.2zM203.7 510.5h3.2v3.3H203.7zM210.0 510.5h3.2v3.3H210.0zM219.6 510.5h3.2v3.3H219.6zM44.3 513.7h3.2v3.2H44.3zM73.0 513.7h3.2v3.2H73.0zM79.3 513.7h3.2v3.2H79.3zM92.1 513.7h3.2v3.2H92.1zM114.4 513.7h3.2v3.2H114.4zM146.3 513.7h3.2v3.2H146.3zM152.7 513.7h3.2v3.2H152.7zM162.2 513.7h6.4v3.2H162.2zM203.7 513.7h3.2v3.2H203.7zM210.0 513.7h3.2v3.2H210.0zM219.6 513.7h3.2v3.2H219.6zM44.3 516.9h9.6v3.2H44.3zM73.0 516.9h3.2v3.2H73.0zM79.3 516.9h3.2v3.2H79.3zM92.1 516.9h3.2v3.2H92.1zM114.4 516.9h3.2v3.2H114.4zM146.3 516.9h3.2v3.2H146.3zM152.7 516.9h3.2v3.2H152.7zM162.2 516.9h6.4v3.2H162.2zM203.7 516.9h3.2v3.2H203.7zM210.0 516.9h3.2v3.2H210.0zM219.6 516.9h3.2v3.2H219.6zM44.3 520.1h12.8v3.2H44.3zM82.5 520.1h3.2v3.2H82.5zM111.2 520.1h6.4v3.2H111.2zM155.9 520.1h3.2v3.2H155.9zM165.4 520.1h9.6v3.2H165.4zM44.3 523.3h12.8v3.2H44.3zM82.5 523.3h3.2v3.2H82.5zM111.2 523.3h12.8v3.2H111.2zM155.9 523.3h3.2v3.2H155.9zM165.4 523.3h9.6v3.2H165.4zM44.3 526.5h12.8v3.3H44.3zM82.5 526.5h3.2v3.3H82.5zM111.2 526.5h16.0v3.3H111.2zM155.9 526.5h3.2v3.3H155.9zM165.4 526.5h9.6v3.3H165.4zM111.2 529.7h16.0v3.3H111.2zM168.6 529.7h3.2v3.3H168.6zM114.4 533.0h6.4v3.4H114.4z"/><path fill="#52a8f5" d="M51.3 472.5h1.9v3.0h-1.9zM146.9 477.4h1.9v2.7h-1.9zM245.7 477.4h1.9v2.7h-1.9zM242.6 486.1h1.9v2.4h-1.9zM162.9 507.9h1.9v2.0h-1.9zM73.6 533.7h1.9v2.0h-1.9zM60.9 544.0h1.9v2.2h-1.9zM67.2 544.0h1.9v2.2h-1.9zM194.7 544.0h1.9v2.2h-1.9zM51.3 547.8h1.9v2.3h-1.9zM115.0 547.8h1.9v2.3h-1.9zM131.0 547.8h1.9v2.3h-1.9zM191.6 551.6h1.9v2.4h-1.9zM201.1 551.6h1.9v2.4h-1.9zM108.7 555.7h1.9v2.6h-1.9zM131.0 555.7h1.9v2.6h-1.9zM140.6 555.7h1.9v2.6h-1.9zM264.9 555.7h1.9v2.6h-1.9zM73.6 560.1h1.9v2.7h-1.9zM207.5 560.1h1.9v2.7h-1.9zM213.9 560.1h1.9v2.7h-1.9zM137.4 564.7h1.9v3.0h-1.9z"/><path fill="#cc4b1c" d="M258.5 472.5h1.9v3.0h-1.9zM150.1 481.9h1.9v2.6h-1.9zM264.9 481.9h1.9v2.6h-1.9zM143.7 486.1h1.9v2.4h-1.9zM156.5 486.1h1.9v2.4h-1.9zM226.6 490.1h1.9v2.3h-1.9zM169.2 533.7h1.9v2.0h-1.9zM73.6 537.0h1.9v2.1h-1.9zM70.4 540.5h1.9v2.1h-1.9zM258.5 547.8h1.9v2.3h-1.9zM57.7 551.6h1.9v2.4h-1.9zM140.6 551.6h1.9v2.4h-1.9zM166.1 551.6h1.9v2.4h-1.9zM217.1 551.6h1.9v2.4h-1.9zM248.9 551.6h1.9v2.4h-1.9zM44.9 555.7h1.9v2.6h-1.9zM73.6 555.7h1.9v2.6h-1.9zM86.4 555.7h1.9v2.6h-1.9zM162.9 555.7h1.9v2.6h-1.9zM233.0 555.7h1.9v2.6h-1.9zM245.7 555.7h1.9v2.6h-1.9zM48.1 560.1h1.9v2.7h-1.9zM89.5 560.1h1.9v2.7h-1.9zM131.0 560.1h1.9v2.7h-1.9zM140.6 560.1h1.9v2.7h-1.9zM178.8 560.1h1.9v2.7h-1.9zM185.2 560.1h1.9v2.7h-1.9zM239.4 560.1h1.9v2.7h-1.9zM44.9 564.7h1.9v3.0h-1.9zM51.3 564.7h1.9v3.0h-1.9zM178.8 569.8h1.9v3.3h-1.9zM197.9 569.8h1.9v3.3h-1.9zM150.1 575.3h1.9v3.6h-1.9z"/><path fill="#515f8f" d="M239.4 477.4h1.9v2.7h-1.9zM226.6 497.6h1.9v2.1h-1.9zM127.8 501.1h1.9v2.1h-1.9zM140.6 501.1h1.9v2.1h-1.9zM150.1 504.5h1.9v2.0h-1.9zM213.9 504.5h1.9v2.0h-1.9zM76.8 507.9h1.9v2.0h-1.9zM233.0 507.9h1.9v2.0h-1.9zM236.2 544.0h1.9v2.2h-1.9zM95.9 560.1h1.9v2.7h-1.9zM102.3 560.1h1.9v2.7h-1.9zM48.1 564.7h1.9v3.0h-1.9z"/><path fill="#f5682c" d="M182.0 481.9h1.9v2.6h-1.9zM150.1 486.1h1.9v2.4h-1.9zM172.4 486.1h1.9v2.4h-1.9zM261.7 486.1h1.9v2.4h-1.9zM162.9 490.1h1.9v2.3h-1.9zM124.6 494.0h1.9v2.2h-1.9zM137.4 494.0h1.9v2.2h-1.9zM226.6 494.0h1.9v2.2h-1.9zM127.8 497.6h1.9v2.1h-1.9zM140.6 504.5h1.9v2.0h-1.9zM73.6 507.9h1.9v2.0h-1.9zM89.5 530.4h1.9v2.0h-1.9zM159.7 530.4h1.9v2.0h-1.9zM156.5 533.7h1.9v2.0h-1.9zM162.9 533.7h1.9v2.0h-1.9zM172.4 533.7h1.9v2.0h-1.9zM146.9 537.0h1.9v2.1h-1.9zM153.3 537.0h1.9v2.1h-1.9zM169.2 537.0h1.9v2.1h-1.9zM60.9 540.5h1.9v2.1h-1.9zM172.4 540.5h1.9v2.1h-1.9zM194.7 540.5h1.9v2.1h-1.9zM207.5 540.5h1.9v2.1h-1.9zM261.7 540.5h1.9v2.1h-1.9zM64.0 544.0h1.9v2.2h-1.9zM143.7 544.0h1.9v2.2h-1.9zM175.6 544.0h1.9v2.2h-1.9zM239.4 544.0h1.9v2.2h-1.9zM127.8 547.8h1.9v2.3h-1.9zM166.1 547.8h1.9v2.3h-1.9zM51.3 560.1h1.9v2.7h-1.9zM248.9 569.8h1.9v3.3h-1.9zM153.3 575.3h1.9v3.6h-1.9z"/>
<use href="#nodata" transform="translate(0.00,459.45)"/>
<rect x="41.1" y="513.72" width="229.50000000000003" height="12.76" fill="#e3e3e3"/>
<use href="#land" transform="translate(0.00,459.45)"/>
</g>
<rect x="41.1" y="471.50000000000006" width="229.50000000000003" height="108.65000000000003" fill="none" stroke="#000" stroke-width="1.3"/>
<path d="M41.10,471.50000000000006v-2.2M41.10,580.1500000000001v2.2M79.35,471.50000000000006v-2.2M79.35,580.1500000000001v2.2M117.60,471.50000000000006v-2.2M117.60,580.1500000000001v2.2M155.85,471.50000000000006v-2.2M155.85,580.1500000000001v2.2M194.10,471.50000000000006v-2.2M194.10,580.1500000000001v2.2M232.35,471.50000000000006v-2.2M232.35,580.1500000000001v2.2M270.60,471.50000000000006v-2.2M270.60,580.1500000000001v2.2M41.1,476.48h-2.2M270.6,476.48h2.2M41.1,500.43h-2.2M270.6,500.43h2.2M41.1,520.10h-2.2M270.6,520.10h2.2M41.1,539.77h-2.2M270.6,539.77h2.2M41.1,563.72h-2.2M270.6,563.72h2.2" stroke="#000" stroke-width="1.1" fill="none"/>
<text transform="translate(35.60,479.98) scale(0.9346,1)" font-size="10.06" text-anchor="end">60°N</text>
<text transform="translate(35.60,503.93) scale(0.9346,1)" font-size="10.06" text-anchor="end">30°N</text>
<text transform="translate(33.30,523.60) scale(0.9346,1)" font-size="10.06" text-anchor="end">0°</text>
<text transform="translate(35.60,543.27) scale(0.9346,1)" font-size="10.06" text-anchor="end">30°S</text>
<text transform="translate(35.60,567.22) scale(0.9346,1)" font-size="10.06" text-anchor="end">60°S</text>
<text transform="translate(41.80,592.45) scale(0.9346,1)" font-size="10.06" text-anchor="middle">0°</text>
<text transform="translate(79.35,592.45) scale(0.9346,1)" font-size="10.06" text-anchor="middle">60°E</text>
<text transform="translate(117.60,592.45) scale(0.9346,1)" font-size="10.06" text-anchor="middle">120°E</text>
<text transform="translate(156.55,592.45) scale(0.9346,1)" font-size="10.06" text-anchor="middle">180°</text>
<text transform="translate(194.10,592.45) scale(0.9346,1)" font-size="10.06" text-anchor="middle">120°W</text>
<text transform="translate(232.35,592.45) scale(0.9346,1)" font-size="10.06" text-anchor="middle">60°W</text>
<text transform="translate(271.30,592.45) scale(0.9346,1)" font-size="10.06" text-anchor="middle">0°</text>
<text transform="translate(156.25,607.65) scale(0.9346,1)" font-size="10.06" text-anchor="middle">Longitude</text>
<text x="0" y="0" text-anchor="middle" transform="translate(7.50,524.73) rotate(-90) scale(0.9346,1)" font-size="10.06">Latitude</text>
<text transform="translate(155.85,469.10) scale(0.9346,1)" font-size="10.22" text-anchor="middle">Second dominant sources in summer</text>
<text x="31.50" y="468.40" font-size="13.4" font-weight="bold">d</text>
<clipPath id="ch"><rect x="382.6" y="471.50000000000006" width="229.60000000000002" height="108.65000000000003"/></clipPath>
<g clip-path="url(#ch)">
<rect x="382.6" y="471.50000000000006" width="229.60000000000002" height="108.65000000000003" fill="#fff"/>
<path fill="#c832c8" d="M382.6 471.5h3.2v5.0H382.6zM392.2 471.5h3.2v5.0H392.2zM424.0 471.5h3.2v5.0H424.0zM478.2 471.5h19.2v5.0H478.2zM510.1 471.5h25.6v5.0H510.1zM573.9 471.5h38.3v5.0H573.9zM382.6 476.5h3.2v4.6H382.6zM392.2 476.5h3.2v4.6H392.2zM424.0 476.5h3.2v4.6H424.0zM478.2 476.5h60.6v4.6H478.2zM573.9 476.5h38.3v4.6H573.9zM382.6 481.1h3.2v4.3H382.6zM392.2 481.1h3.2v4.3H392.2zM411.3 481.1h9.6v4.3H411.3zM424.0 481.1h3.2v4.3H424.0zM446.4 481.1h16.0v4.3H446.4zM475.0 481.1h3.2v4.3H475.0zM484.6 481.1h57.4v4.3H484.6zM564.3 481.1h19.2v4.3H564.3zM589.8 481.1h16.0v4.3H589.8zM608.9 481.1h3.2v4.3H608.9zM382.6 485.3h3.2v4.1H382.6zM392.2 485.3h3.2v4.1H392.2zM398.5 485.3h22.4v4.1H398.5zM424.0 485.3h3.2v4.1H424.0zM446.4 485.3h47.9v4.1H446.4zM500.5 485.3h44.7v4.1H500.5zM561.1 485.3h6.4v4.1H561.1zM573.9 485.3h31.9v4.1H573.9zM382.6 489.4h38.3v3.9H382.6zM424.0 489.4h3.2v3.9H424.0zM446.4 489.4h51.0v3.9H446.4zM500.5 489.4h44.7v3.9H500.5zM557.9 489.4h54.2v3.9H557.9zM382.6 493.2h38.3v3.7H382.6zM424.0 493.2h3.2v3.7H424.0zM446.4 493.2h54.2v3.7H446.4zM506.9 493.2h12.8v3.7H506.9zM522.9 493.2h41.5v3.7H522.9zM567.5 493.2h44.7v3.7H567.5zM382.6 496.9h38.3v3.6H382.6zM424.0 496.9h3.2v3.6H424.0zM446.4 496.9h38.3v3.6H446.4zM494.2 496.9h25.6v3.6H494.2zM522.9 496.9h25.6v3.6H522.9zM567.5 496.9h44.7v3.6H567.5zM382.6 500.4h38.3v3.5H382.6zM424.0 500.4h3.2v3.5H424.0zM446.4 500.4h25.6v3.5H446.4zM487.8 500.4h19.2v3.5H487.8zM510.1 500.4h38.3v3.5H510.1zM564.3 500.4h47.9v3.5H564.3zM382.6 503.9h19.2v3.4H382.6zM411.3 503.9h3.2v3.4H411.3zM417.7 503.9h3.2v3.4H417.7zM424.0 503.9h3.2v3.4H424.0zM449.5 503.9h35.1v3.4H449.5zM510.1 503.9h38.3v3.4H510.1zM567.5 503.9h6.4v3.4H567.5zM583.4 503.9h28.7v3.4H583.4zM382.6 507.2h16.0v3.3H382.6zM411.3 507.2h9.6v3.3H411.3zM424.0 507.2h3.2v3.3H424.0zM433.6 507.2h3.2v3.3H433.6zM455.9 507.2h28.7v3.3H455.9zM510.1 507.2h41.5v3.3H510.1zM580.2 507.2h31.9v3.3H580.2zM382.6 510.5h16.0v3.3H382.6zM411.3 510.5h6.4v3.3H411.3zM420.9 510.5h3.2v3.3H420.9zM427.2 510.5h12.8v3.3H427.2zM452.7 510.5h35.1v3.3H452.7zM510.1 510.5h35.1v3.3H510.1zM570.7 510.5h3.2v3.3H570.7zM577.0 510.5h35.1v3.3H577.0zM389.0 513.7h9.6v3.2H389.0zM411.3 513.7h6.4v3.2H411.3zM420.9 513.7h3.2v3.2H420.9zM427.2 513.7h12.8v3.2H427.2zM452.7 513.7h35.1v3.2H452.7zM510.1 513.7h35.1v3.2H510.1zM570.7 513.7h3.2v3.2H570.7zM577.0 513.7h35.1v3.2H577.0zM395.4 516.9h3.2v3.2H395.4zM411.3 516.9h6.4v3.2H411.3zM420.9 516.9h3.2v3.2H420.9zM427.2 516.9h12.8v3.2H427.2zM452.7 516.9h35.1v3.2H452.7zM510.1 516.9h35.1v3.2H510.1zM570.7 516.9h3.2v3.2H570.7zM577.0 516.9h28.7v3.2H577.0zM411.3 520.1h9.6v3.2H411.3zM459.1 520.1h16.0v3.2H459.1zM538.8 520.1h3.2v3.2H538.8zM570.7 520.1h3.2v3.2H570.7zM577.0 520.1h9.6v3.2H577.0zM414.5 523.3h6.4v3.2H414.5zM465.5 523.3h3.2v3.2H465.5zM538.8 523.3h3.2v3.2H538.8zM570.7 523.3h3.2v3.2H570.7zM577.0 523.3h3.2v3.2H577.0zM414.5 526.5h6.4v3.3H414.5zM538.8 526.5h3.2v3.3H538.8zM385.8 529.7h44.7v3.3H385.8zM510.1 529.7h3.2v3.3H510.1zM519.7 529.7h3.2v3.3H519.7zM557.9 529.7h3.2v3.3H557.9zM602.5 529.7h6.4v3.3H602.5zM382.6 533.0h12.8v3.4H382.6zM408.1 533.0h25.6v3.4H408.1zM443.2 533.0h9.6v3.4H443.2zM462.3 533.0h44.7v3.4H462.3zM510.1 533.0h25.6v3.4H510.1zM554.7 533.0h28.7v3.4H554.7zM602.5 533.0h6.4v3.4H602.5zM398.5 536.3h31.9v3.5H398.5zM443.2 536.3h47.9v3.5H443.2zM500.5 536.3h3.2v3.5H500.5zM510.1 536.3h25.6v3.5H510.1zM557.9 536.3h28.7v3.5H557.9zM389.0 539.8h6.4v3.6H389.0zM398.5 539.8h92.5v3.6H398.5zM510.1 539.8h44.7v3.6H510.1zM557.9 539.8h12.8v3.6H557.9zM580.2 539.8h9.6v3.6H580.2zM593.0 539.8h9.6v3.6H593.0zM382.6 543.3h9.6v3.7H382.6zM398.5 543.3h54.2v3.7H398.5zM459.1 543.3h16.0v3.7H459.1zM484.6 543.3h9.6v3.7H484.6zM503.7 543.3h51.0v3.7H503.7zM557.9 543.3h12.8v3.7H557.9zM580.2 543.3h31.9v3.7H580.2zM382.6 547.0h9.6v3.9H382.6zM395.4 547.0h79.7v3.9H395.4zM481.4 547.0h92.5v3.9H481.4zM577.0 547.0h35.1v3.9H577.0zM382.6 550.8h22.4v4.1H382.6zM408.1 550.8h9.6v4.1H408.1zM420.9 550.8h35.1v4.1H420.9zM459.1 550.8h19.2v4.1H459.1zM484.6 550.8h9.6v4.1H484.6zM497.4 550.8h70.2v4.1H497.4zM577.0 550.8h35.1v4.1H577.0zM382.6 554.9h3.2v4.3H382.6zM389.0 554.9h12.8v4.3H389.0zM408.1 554.9h9.6v4.3H408.1zM420.9 554.9h12.8v4.3H420.9zM436.8 554.9h19.2v4.3H436.8zM462.3 554.9h16.0v4.3H462.3zM481.4 554.9h12.8v4.3H481.4zM500.5 554.9h86.1v4.3H500.5zM589.8 554.9h22.4v4.3H589.8zM382.6 559.1h3.2v4.6H382.6zM389.0 559.1h3.2v4.6H389.0zM395.4 559.1h25.6v4.6H395.4zM427.2 559.1h6.4v4.6H427.2zM443.2 559.1h12.8v4.6H443.2zM462.3 559.1h31.9v4.6H462.3zM503.7 559.1h16.0v4.6H503.7zM522.9 559.1h12.8v4.6H522.9zM542.0 559.1h19.2v4.6H542.0zM567.5 559.1h6.4v4.6H567.5zM593.0 559.1h3.2v4.6H593.0zM602.5 559.1h9.6v4.6H602.5zM382.6 563.7h6.4v5.0H382.6zM395.4 563.7h25.6v5.0H395.4zM427.2 563.7h12.8v5.0H427.2zM443.2 563.7h28.7v5.0H443.2zM475.0 563.7h44.7v5.0H475.0zM526.0 563.7h3.2v5.0H526.0zM535.6 563.7h19.2v5.0H535.6zM564.3 563.7h47.9v5.0H564.3zM382.6 568.7h38.3v5.5H382.6zM424.0 568.7h16.0v5.5H424.0zM443.2 568.7h28.7v5.5H443.2zM487.8 568.7h35.1v5.5H487.8zM529.2 568.7h19.2v5.5H529.2zM554.7 568.7h12.8v5.5H554.7zM586.6 568.7h25.6v5.5H586.6zM382.6 574.1h38.3v6.1H382.6zM424.0 574.1h16.0v6.1H424.0zM443.2 574.1h28.7v6.1H443.2zM487.8 574.1h38.3v6.1H487.8zM554.7 574.1h12.8v6.1H554.7zM589.8 574.1h22.4v6.1H589.8z"/><path fill="#dfbb8a" d="M427.2 471.5h19.2v5.0H427.2zM420.9 476.5h3.2v4.6H420.9zM427.2 476.5h19.2v4.6H427.2zM420.9 481.1h3.2v4.3H420.9zM427.2 481.1h19.2v4.3H427.2zM583.4 481.1h6.4v4.3H583.4zM605.7 481.1h3.2v4.3H605.7zM420.9 485.3h3.2v4.1H420.9zM427.2 485.3h19.2v4.1H427.2zM494.2 485.3h6.4v4.1H494.2zM567.5 485.3h6.4v4.1H567.5zM605.7 485.3h6.4v4.1H605.7zM420.9 489.4h3.2v3.9H420.9zM427.2 489.4h19.2v3.9H427.2zM497.4 489.4h3.2v3.9H497.4zM420.9 493.2h3.2v3.7H420.9zM427.2 493.2h19.2v3.7H427.2zM500.5 493.2h6.4v3.7H500.5zM519.7 493.2h3.2v3.7H519.7zM564.3 493.2h3.2v3.7H564.3zM420.9 496.9h3.2v3.6H420.9zM427.2 496.9h19.2v3.6H427.2zM484.6 496.9h9.6v3.6H484.6zM519.7 496.9h3.2v3.6H519.7zM548.4 496.9h19.2v3.6H548.4zM420.9 500.4h3.2v3.5H420.9zM427.2 500.4h19.2v3.5H427.2zM471.9 500.4h16.0v3.5H471.9zM506.9 500.4h3.2v3.5H506.9zM548.4 500.4h16.0v3.5H548.4zM401.7 503.9h9.6v3.4H401.7zM420.9 503.9h3.2v3.4H420.9zM427.2 503.9h22.4v3.4H427.2zM484.6 503.9h25.6v3.4H484.6zM548.4 503.9h19.2v3.4H548.4zM573.9 503.9h9.6v3.4H573.9zM398.5 507.2h12.8v3.3H398.5zM420.9 507.2h3.2v3.3H420.9zM427.2 507.2h6.4v3.3H427.2zM436.8 507.2h19.2v3.3H436.8zM484.6 507.2h25.6v3.3H484.6zM551.5 507.2h28.7v3.3H551.5zM398.5 510.5h9.6v3.3H398.5zM417.7 510.5h3.2v3.3H417.7zM424.0 510.5h3.2v3.3H424.0zM440.0 510.5h12.8v3.3H440.0zM487.8 510.5h22.4v3.3H487.8zM545.2 510.5h25.6v3.3H545.2zM573.9 510.5h3.2v3.3H573.9zM382.6 513.7h6.4v3.2H382.6zM398.5 513.7h9.6v3.2H398.5zM417.7 513.7h3.2v3.2H417.7zM424.0 513.7h3.2v3.2H424.0zM440.0 513.7h12.8v3.2H440.0zM487.8 513.7h22.4v3.2H487.8zM545.2 513.7h25.6v3.2H545.2zM573.9 513.7h3.2v3.2H573.9zM382.6 516.9h12.8v3.2H382.6zM398.5 516.9h9.6v3.2H398.5zM417.7 516.9h3.2v3.2H417.7zM424.0 516.9h3.2v3.2H424.0zM440.0 516.9h12.8v3.2H440.0zM487.8 516.9h22.4v3.2H487.8zM545.2 516.9h25.6v3.2H545.2zM573.9 516.9h3.2v3.2H573.9zM605.7 516.9h6.4v3.2H605.7zM382.6 520.1h28.7v3.2H382.6zM420.9 520.1h38.3v3.2H420.9zM475.0 520.1h63.8v3.2H475.0zM542.0 520.1h28.7v3.2H542.0zM573.9 520.1h3.2v3.2H573.9zM586.6 520.1h25.6v3.2H586.6zM382.6 523.3h31.9v3.2H382.6zM420.9 523.3h44.7v3.2H420.9zM468.7 523.3h70.2v3.2H468.7zM542.0 523.3h28.7v3.2H542.0zM573.9 523.3h3.2v3.2H573.9zM580.2 523.3h31.9v3.2H580.2zM382.6 526.5h31.9v3.3H382.6zM420.9 526.5h118.0v3.3H420.9zM542.0 526.5h70.2v3.3H542.0zM382.6 529.7h3.2v3.3H382.6zM430.4 529.7h79.7v3.3H430.4zM513.3 529.7h6.4v3.3H513.3zM522.9 529.7h35.1v3.3H522.9zM561.1 529.7h41.5v3.3H561.1zM608.9 529.7h3.2v3.3H608.9zM395.4 533.0h12.8v3.4H395.4zM433.6 533.0h9.6v3.4H433.6zM452.7 533.0h9.6v3.4H452.7zM506.9 533.0h3.2v3.4H506.9zM535.6 533.0h19.2v3.4H535.6zM583.4 533.0h19.2v3.4H583.4zM608.9 533.0h3.2v3.4H608.9zM382.6 536.3h16.0v3.5H382.6zM430.4 536.3h12.8v3.5H430.4zM491.0 536.3h9.6v3.5H491.0zM503.7 536.3h6.4v3.5H503.7zM535.6 536.3h22.4v3.5H535.6zM586.6 536.3h25.6v3.5H586.6zM382.6 539.8h6.4v3.6H382.6zM395.4 539.8h3.2v3.6H395.4zM491.0 539.8h19.2v3.6H491.0zM554.7 539.8h3.2v3.6H554.7zM570.7 539.8h9.6v3.6H570.7zM589.8 539.8h3.2v3.6H589.8zM602.5 539.8h9.6v3.6H602.5zM392.2 543.3h6.4v3.7H392.2zM452.7 543.3h6.4v3.7H452.7zM475.0 543.3h9.6v3.7H475.0zM494.2 543.3h9.6v3.7H494.2zM554.7 543.3h3.2v3.7H554.7zM570.7 543.3h9.6v3.7H570.7zM392.2 547.0h3.2v3.9H392.2zM475.0 547.0h6.4v3.9H475.0zM573.9 547.0h3.2v3.9H573.9zM404.9 550.8h3.2v4.1H404.9zM417.7 550.8h3.2v4.1H417.7zM455.9 550.8h3.2v4.1H455.9zM478.2 550.8h6.4v4.1H478.2zM494.2 550.8h3.2v4.1H494.2zM567.5 550.8h9.6v4.1H567.5zM385.8 554.9h3.2v4.3H385.8zM401.7 554.9h6.4v4.3H401.7zM417.7 554.9h3.2v4.3H417.7zM433.6 554.9h3.2v4.3H433.6zM455.9 554.9h6.4v4.3H455.9zM478.2 554.9h3.2v4.3H478.2zM494.2 554.9h6.4v4.3H494.2zM586.6 554.9h3.2v4.3H586.6zM385.8 559.1h3.2v4.6H385.8zM392.2 559.1h3.2v4.6H392.2zM420.9 559.1h6.4v4.6H420.9zM433.6 559.1h9.6v4.6H433.6zM455.9 559.1h6.4v4.6H455.9zM494.2 559.1h9.6v4.6H494.2zM519.7 559.1h3.2v4.6H519.7zM535.6 559.1h6.4v4.6H535.6zM561.1 559.1h6.4v4.6H561.1zM573.9 559.1h19.2v4.6H573.9zM596.2 559.1h6.4v4.6H596.2zM389.0 563.7h6.4v5.0H389.0zM420.9 563.7h6.4v5.0H420.9zM440.0 563.7h3.2v5.0H440.0zM471.9 563.7h3.2v5.0H471.9zM519.7 563.7h6.4v5.0H519.7zM529.2 563.7h6.4v5.0H529.2zM554.7 563.7h9.6v5.0H554.7zM420.9 568.7h3.2v5.5H420.9zM440.0 568.7h3.2v5.5H440.0zM471.9 568.7h3.2v5.5H471.9zM522.9 568.7h6.4v5.5H522.9zM548.4 568.7h6.4v5.5H548.4zM420.9 574.1h3.2v6.1H420.9zM440.0 574.1h3.2v6.1H440.0zM471.9 574.1h3.2v6.1H471.9z"/><path fill="#dfbb8a" d="M574.5 472.5h1.9v3.0h-1.9zM593.6 472.5h1.9v3.0h-1.9zM580.9 477.4h1.9v2.7h-1.9zM600.0 490.1h1.9v2.3h-1.9zM478.9 494.0h1.9v2.2h-1.9zM593.6 494.0h1.9v2.2h-1.9zM466.1 497.6h1.9v2.1h-1.9zM459.7 504.5h1.9v2.0h-1.9zM533.1 504.5h1.9v2.0h-1.9zM593.6 507.9h1.9v2.0h-1.9zM402.4 540.5h1.9v2.1h-1.9zM526.7 540.5h1.9v2.1h-1.9zM421.5 547.8h1.9v2.3h-1.9zM469.3 547.8h1.9v2.3h-1.9zM552.2 547.8h1.9v2.3h-1.9zM593.6 547.8h1.9v2.3h-1.9zM389.6 551.6h1.9v2.4h-1.9zM431.1 551.6h1.9v2.4h-1.9zM501.2 551.6h1.9v2.4h-1.9zM555.4 551.6h1.9v2.4h-1.9zM584.1 551.6h1.9v2.4h-1.9zM411.9 555.7h1.9v2.6h-1.9zM466.1 555.7h1.9v2.6h-1.9zM399.2 560.1h1.9v2.7h-1.9zM447.0 560.1h1.9v2.7h-1.9zM485.2 560.1h1.9v2.7h-1.9zM552.2 560.1h1.9v2.7h-1.9zM606.4 560.1h1.9v2.7h-1.9zM431.1 564.7h1.9v3.0h-1.9zM494.8 569.8h1.9v3.3h-1.9zM510.7 575.3h1.9v3.6h-1.9z"/><path fill="#c832c8" d="M501.2 507.9h1.9v2.0h-1.9zM545.8 530.4h1.9v2.0h-1.9zM494.8 540.5h1.9v2.1h-1.9z"/>
<use href="#nodata" transform="translate(341.50,459.45)"/>
<rect x="382.6" y="513.72" width="229.60000000000002" height="12.76" fill="#e3e3e3"/>
<use href="#land" transform="translate(341.50,459.45)"/>
</g>
<rect x="382.6" y="471.50000000000006" width="229.60000000000002" height="108.65000000000003" fill="none" stroke="#000" stroke-width="1.3"/>
<path d="M382.60,471.50000000000006v-2.2M382.60,580.1500000000001v2.2M420.87,471.50000000000006v-2.2M420.87,580.1500000000001v2.2M459.13,471.50000000000006v-2.2M459.13,580.1500000000001v2.2M497.40,471.50000000000006v-2.2M497.40,580.1500000000001v2.2M535.67,471.50000000000006v-2.2M535.67,580.1500000000001v2.2M573.93,471.50000000000006v-2.2M573.93,580.1500000000001v2.2M612.20,471.50000000000006v-2.2M612.20,580.1500000000001v2.2M382.6,476.48h-2.2M612.2,476.48h2.2M382.6,500.43h-2.2M612.2,500.43h2.2M382.6,520.10h-2.2M612.2,520.10h2.2M382.6,539.77h-2.2M612.2,539.77h2.2M382.6,563.72h-2.2M612.2,563.72h2.2" stroke="#000" stroke-width="1.1" fill="none"/>
<text transform="translate(377.10,479.98) scale(0.9346,1)" font-size="10.06" text-anchor="end">60°N</text>
<text transform="translate(377.10,503.93) scale(0.9346,1)" font-size="10.06" text-anchor="end">30°N</text>
<text transform="translate(374.80,523.60) scale(0.9346,1)" font-size="10.06" text-anchor="end">0°</text>
<text transform="translate(377.10,543.27) scale(0.9346,1)" font-size="10.06" text-anchor="end">30°S</text>
<text transform="translate(377.10,567.22) scale(0.9346,1)" font-size="10.06" text-anchor="end">60°S</text>
<text transform="translate(383.30,592.45) scale(0.9346,1)" font-size="10.06" text-anchor="middle">0°</text>
<text transform="translate(420.87,592.45) scale(0.9346,1)" font-size="10.06" text-anchor="middle">60°E</text>
<text transform="translate(459.13,592.45) scale(0.9346,1)" font-size="10.06" text-anchor="middle">120°E</text>
<text transform="translate(498.10,592.45) scale(0.9346,1)" font-size="10.06" text-anchor="middle">180°</text>
<text transform="translate(535.67,592.45) scale(0.9346,1)" font-size="10.06" text-anchor="middle">120°W</text>
<text transform="translate(573.93,592.45) scale(0.9346,1)" font-size="10.06" text-anchor="middle">60°W</text>
<text transform="translate(612.90,592.45) scale(0.9346,1)" font-size="10.06" text-anchor="middle">0°</text>
<text transform="translate(497.80,607.65) scale(0.9346,1)" font-size="10.06" text-anchor="middle">Longitude</text>
<text x="0" y="0" text-anchor="middle" transform="translate(349.00,524.73) rotate(-90) scale(0.9346,1)" font-size="10.06">Latitude</text>
<text transform="translate(497.40,469.10) scale(0.9346,1)" font-size="10.22" text-anchor="middle">Contribution of second dominant sources in summer</text>
<text x="373.00" y="468.40" font-size="13.4" font-weight="bold">h</text>
<rect x="284.6" y="128.40" width="10.799999999999955" height="81.80" fill="#cc4b1c"/>
<rect x="284.6" y="210.20" width="10.799999999999955" height="90.70" fill="#515f8f"/>
<rect x="284.6" y="300.90" width="10.799999999999955" height="75.90" fill="#f5682c"/>
<rect x="284.6" y="376.80" width="10.799999999999955" height="84.00" fill="#52a8f5"/>
<rect x="284.6" y="128.4" width="10.799999999999955" height="332.4" fill="none" stroke="#444" stroke-width="1"/>
<path d="M293.9,165.40h1.5" stroke="#333" stroke-width="0.8"/>
<text transform="translate(300.00,168.80) scale(0.9346,1)" font-size="10.06" text-anchor="start">AGSP</text>
<path d="M293.9,253.40h1.5" stroke="#333" stroke-width="0.8"/>
<text transform="translate(300.00,256.80) scale(0.9346,1)" font-size="10.06" text-anchor="start">LSP</text>
<path d="M293.9,339.20h1.5" stroke="#333" stroke-width="0.8"/>
<text transform="translate(300.00,342.60) scale(0.9346,1)" font-size="10.06" text-anchor="start">GSP</text>
<path d="M293.9,417.80h1.5" stroke="#333" stroke-width="0.8"/>
<text transform="translate(300.00,421.20) scale(0.9346,1)" font-size="10.06" text-anchor="start">VBP</text>
<rect x="626.2" y="128.60" width="10.199999999999932" height="80.10" fill="#72ebdc"/>
<rect x="626.2" y="208.70" width="10.199999999999932" height="85.10" fill="#a51c33"/>
<rect x="626.2" y="293.80" width="10.199999999999932" height="84.80" fill="#dfbb8a"/>
<rect x="626.2" y="378.60" width="10.199999999999932" height="82.20" fill="#c832c8"/>
<rect x="626.2" y="128.6" width="10.199999999999932" height="332.20000000000005" fill="none" stroke="#444" stroke-width="1"/>
<path d="M634.9,163.40h1.5" stroke="#333" stroke-width="0.8"/>
<text transform="translate(641.00,166.80) scale(0.9346,1)" font-size="10.06" text-anchor="start"><tspan font-size="12">≥</tspan>75%</text>
<path d="M634.9,249.50h1.5" stroke="#333" stroke-width="0.8"/>
<text transform="translate(641.00,252.90) scale(0.9346,1)" font-size="10.06" text-anchor="start">50%~74%</text>
<path d="M634.9,335.90h1.5" stroke="#333" stroke-width="0.8"/>
<text transform="translate(641.00,339.30) scale(0.9346,1)" font-size="10.06" text-anchor="start">25%~49%</text>
<path d="M634.9,422.50h1.5" stroke="#333" stroke-width="0.8"/>
<text transform="translate(641.00,425.90) scale(0.9346,1)" font-size="10.06" text-anchor="start">&lt;25%</text>
</svg></body></html>
